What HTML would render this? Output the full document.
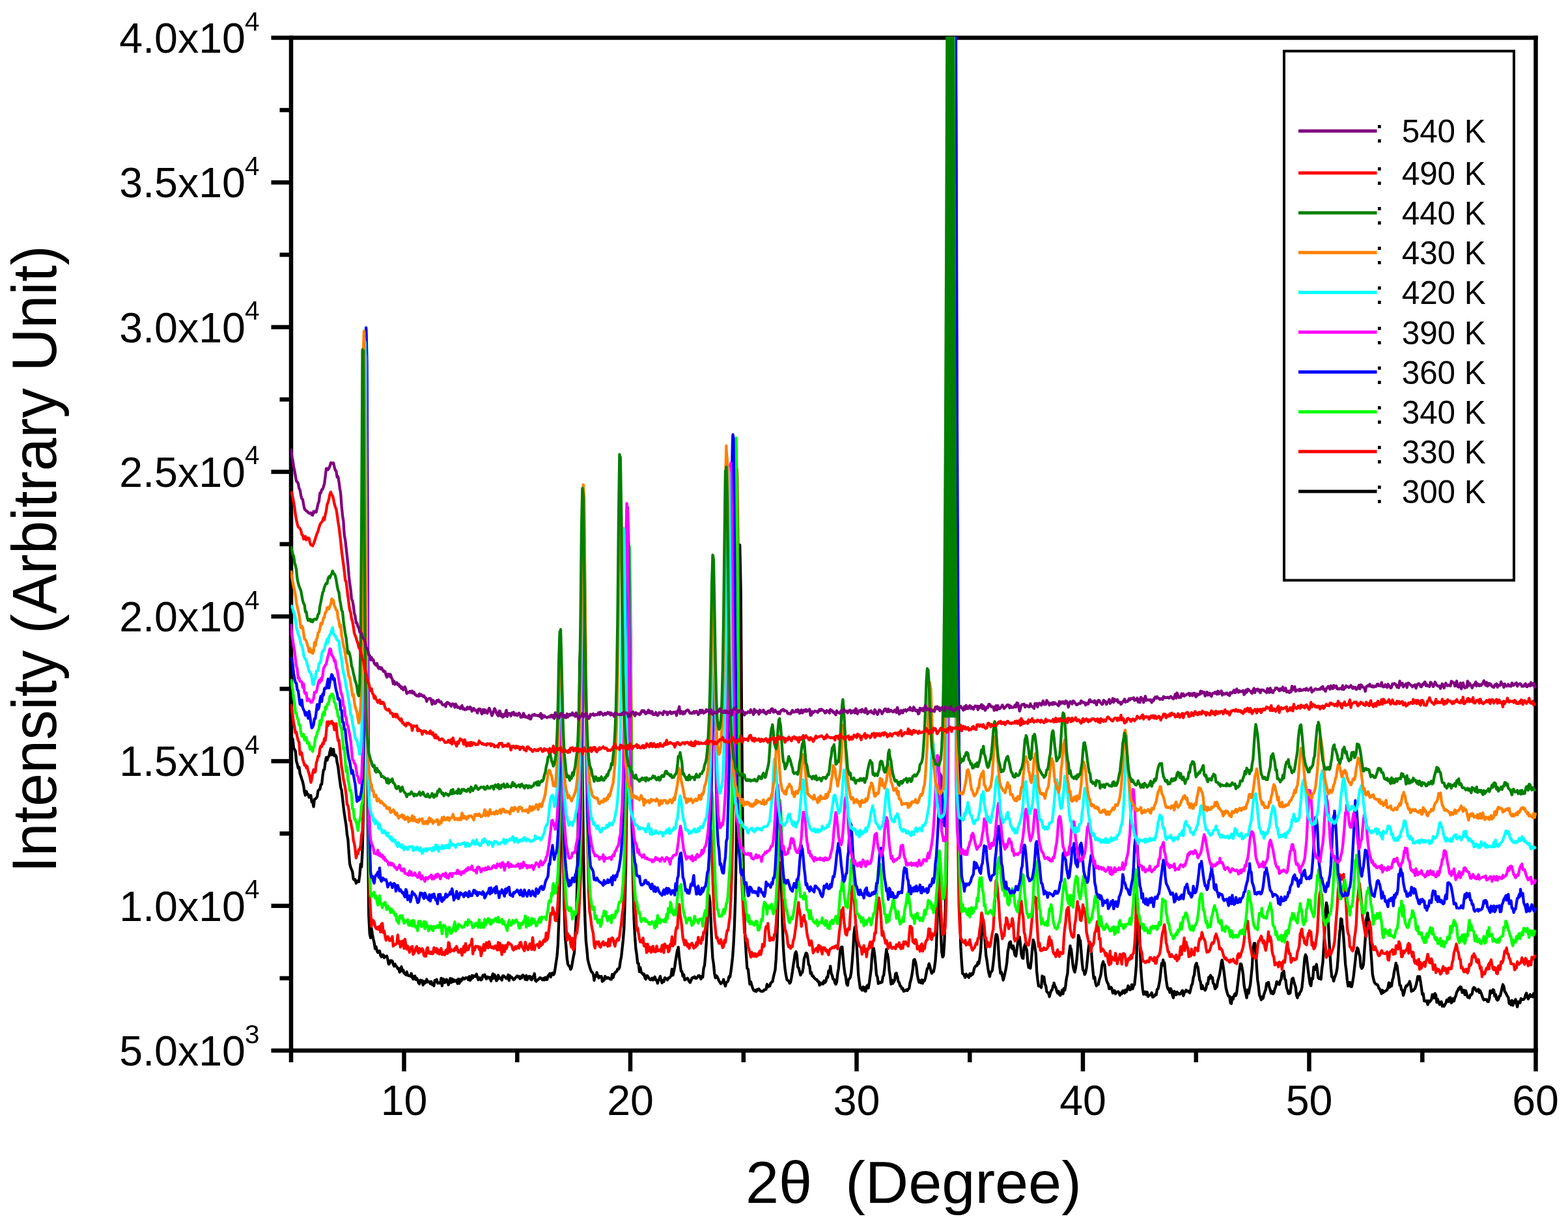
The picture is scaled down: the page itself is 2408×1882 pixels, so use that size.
<!DOCTYPE html>
<html lang="en"><head><meta charset="utf-8"><title>XRD patterns at different temperatures</title>
<style>html,body{margin:0;padding:0;background:#fff}body{width:2408px;height:1882px;overflow:hidden}svg{display:block}text{font-family:"Liberation Sans", Arial, Helvetica, sans-serif;fill:#000}</style></head><body>
<svg width="2408" height="1882" viewBox="0 0 2408 1882">
<rect width="2408" height="1882" fill="#fff"/>
<defs><clipPath id="pc"><rect x="446" y="56" width="1914" height="1558"/></clipPath></defs>
<g stroke="#000" stroke-width="6.5" fill="none" stroke-linecap="butt">
<path d="M416.5 58 H2361.8"/>
<path d="M416.5 1614 H2361.8"/>
<path d="M447 54.8 V1632"/>
<path d="M2358.5 54.8 V1646"/>
<path d="M416.5 1391.7 H447"/>
<path d="M416.5 1169.4 H447"/>
<path d="M416.5 947.1 H447"/>
<path d="M416.5 724.9 H447"/>
<path d="M416.5 502.6 H447"/>
<path d="M416.5 280.3 H447"/>
<path d="M429.5 1502.9 H447"/>
<path d="M429.5 1280.6 H447"/>
<path d="M429.5 1058.3 H447"/>
<path d="M429.5 836 H447"/>
<path d="M429.5 613.7 H447"/>
<path d="M429.5 391.4 H447"/>
<path d="M429.5 169.1 H447"/>
<path d="M620.5 1614 V1646"/>
<path d="M968 1614 V1646"/>
<path d="M1315.5 1614 V1646"/>
<path d="M1663 1614 V1646"/>
<path d="M2010.5 1614 V1646"/>
<path d="M794.3 1614 V1632"/>
<path d="M1141.8 1614 V1632"/>
<path d="M1489.3 1614 V1632"/>
<path d="M1836.8 1614 V1632"/>
<path d="M2184.3 1614 V1632"/>
</g>
<g clip-path="url(#pc)" fill="none" stroke-width="4.3" stroke-linejoin="round" stroke-linecap="butt">
<path d="M446.8 1123L448.2 1134.2L449.6 1135.4L451 1149.3L452.4 1151.4L453.8 1154.5L455.1 1169.2L456.5 1173.6L457.9 1180L459.3 1178.6L460.7 1188.5L462.1 1192.6L463.5 1197.1L464.9 1201.2L466.3 1207.6L467.6 1217.1L469 1221.8L470.4 1215.8L471.8 1220L473.2 1220.1L474.6 1225L476 1224.6L477.4 1222.1L478.8 1232.1L480.2 1232.2L481.6 1239.4L482.9 1228L484.3 1227.4L485.7 1226.3L487.1 1223.8L488.5 1214.9L489.9 1213.2L491.3 1212.5L492.7 1205.6L494.1 1205.1L495.5 1192L496.8 1183.2L498.2 1182L499.6 1170.8L501 1163.6L502.4 1168.1L503.8 1163.1L505.2 1161.8L506.6 1154.8L508 1149.8L509.4 1159.8L510.7 1157.1L512.1 1151L513.5 1161.3L514.9 1159.7L516.3 1161.7L517.7 1171.6L519.1 1177.3L520.5 1188.6L521.9 1199.4L523.2 1209.4L524.6 1214L526 1226.2L527.4 1239L528.8 1250L530.2 1259.5L531.6 1268.2L533 1282.2L534.4 1289.6L535.8 1310.4L537.1 1327.2L538.5 1332.2L539.9 1335.7L541.3 1339.4L542.7 1350.3L544.1 1351.8L545.5 1351.3L546.9 1357L548.3 1354.9L549.7 1353.2L551 1354.6L552.4 1344.5L553.8 1327.6L555.2 1332L556.6 1306.7L558 1246.9L559.4 1049L560.8 611.2L561.8 593.1L562.2 597.5L563.6 890.6L565 1266.7L566.3 1406.3L567.7 1434.2L569.1 1440.8L570.5 1426.4L571.9 1435.6L573.3 1442.4L574.7 1448.3L576.1 1457.4L577.5 1454.4L578.9 1460.6L580.2 1463.3L581.6 1461.2L583 1461L584.4 1467.8L585.8 1470.2L587.2 1466.9L588.6 1466.8L590 1471.5L591.4 1469.4L592.8 1469.9L594.1 1468.7L595.5 1474L596.9 1481.4L598.3 1480L599.7 1475.7L601.1 1476L602.5 1476.6L603.9 1481.5L605.3 1484.4L606.6 1481.1L608 1484.1L609.4 1485.2L610.8 1488L612.2 1487.7L613.6 1493.5L615 1491.9L616.4 1485.2L617.8 1491.7L619.2 1490.3L620.5 1495.3L621.9 1495.9L623.3 1497.7L624.7 1493L626.1 1498.4L627.5 1499.1L628.9 1498.8L630.3 1499.9L631.7 1495.5L633.1 1501.6L634.5 1504.3L635.8 1499.8L637.2 1499.5L638.6 1505L640 1502.9L641.4 1505.5L642.8 1510L644.2 1511.6L645.6 1505.6L647 1507.6L648.4 1506.5L649.7 1513.3L651.1 1507.6L652.5 1510.6L653.9 1509.1L655.3 1504.5L656.7 1508.8L658.1 1508.1L659.5 1508.4L660.9 1511.3L662.2 1507.9L663.6 1512.6L665 1512.5L666.4 1514.4L667.8 1506.2L669.2 1507.4L670.6 1504.8L672 1510.5L673.4 1510.2L674.8 1510.4L676.1 1510.4L677.5 1502.8L678.9 1514.6L680.3 1503.8L681.7 1504.7L683.1 1509.7L684.5 1508.3L685.9 1504.7L687.3 1508.4L688.7 1513L690 1508.3L691.4 1503.3L692.8 1509.6L694.2 1503.8L695.6 1508.3L697 1505.2L698.4 1507.6L699.8 1507.2L701.2 1505.9L702.6 1511L704 1504L705.3 1510.8L706.7 1504.6L708.1 1507.4L709.5 1504.1L710.9 1502.2L712.3 1504.3L713.7 1504L715.1 1502.2L716.5 1502.4L717.9 1502.1L719.2 1505.2L720.6 1500.2L722 1506.2L723.4 1504.5L724.8 1498.7L726.2 1502.3L727.6 1499.1L729 1499.4L730.4 1500.3L731.8 1496.4L733.1 1501.2L734.5 1505.3L735.9 1502.2L737.3 1502.3L738.7 1505.6L740.1 1504.6L741.5 1498.5L742.9 1499.9L744.3 1497.4L745.6 1501.3L747 1504L748.4 1500.7L749.8 1501.2L751.2 1502.9L752.6 1501.5L754 1507.1L755.4 1501.6L756.8 1496.2L758.2 1503L759.5 1497.5L760.9 1500.8L762.3 1506.8L763.7 1505.1L765.1 1498.3L766.5 1503.1L767.9 1501.8L769.3 1503L770.7 1505.9L772.1 1499.2L773.5 1499.2L774.8 1500.5L776.2 1501.9L777.6 1503.4L779 1503.2L780.4 1497.6L781.8 1506.4L783.2 1499L784.6 1501.3L786 1501.5L787.4 1503.4L788.7 1505.3L790.1 1504.3L791.5 1502.2L792.9 1501L794.3 1499.3L795.7 1501.3L797.1 1500L798.5 1503.8L799.9 1500.4L801.2 1502.4L802.6 1497.9L804 1499L805.4 1501.3L806.8 1505.1L808.2 1498.7L809.6 1505.3L811 1502L812.4 1499.9L813.8 1500L815.1 1504.7L816.5 1505.3L817.9 1500.5L819.3 1502.2L820.7 1495.8L822.1 1506.1L823.5 1507.7L824.9 1505.9L826.3 1504.9L827.7 1503.9L829 1502.2L830.4 1502.3L831.8 1504L833.2 1505.5L834.6 1503L836 1505.5L837.4 1501.6L838.8 1504.8L840.2 1505L841.6 1499.2L843 1498.1L844.3 1495.8L845.7 1501.1L847.1 1495.5L848.5 1494.8L849.9 1497.6L851.3 1495.8L852.7 1487.4L854.1 1477.8L855.5 1468.5L856.9 1450.7L858.2 1416.1L859.6 1357.6L861 1282.8L862.4 1260.4L862.8 1262.5L863.8 1257.7L865.2 1322.2L866.6 1394.9L868 1440.6L869.4 1455L870.8 1472.8L872.1 1481.3L873.5 1483.8L874.9 1484.8L876.3 1489.3L877.7 1486.7L879.1 1478.3L880.5 1470.5L881.9 1463.8L883.3 1437.2L884.7 1414.1L886 1372.2L887.4 1295.7L888.8 1174.1L890.2 1019.4L891.6 989.8L893 1020.2L894.4 1169.4L895.8 1297.5L897.2 1370.4L898.5 1414.1L899.9 1445.6L901.3 1458.7L902.7 1474.3L904.1 1480L905.5 1485.1L906.9 1489.7L908.3 1492.8L909.7 1494.1L911.1 1496.5L912.5 1506.1L913.8 1499.1L915.2 1500L916.6 1494L918 1498.9L919.4 1502.6L920.8 1499.7L922.2 1500.8L923.6 1500.1L925 1507.8L926.4 1503.9L927.7 1506L929.1 1499.9L930.5 1501.5L931.9 1503.2L933.3 1501.8L934.7 1502.3L936.1 1503.8L937.5 1504.7L938.9 1504.6L940.2 1496.9L941.6 1501.9L943 1497L944.4 1494.4L945.8 1493.1L947.2 1492.2L948.6 1488.6L950 1489.1L951.4 1486.4L952.8 1476.1L954.2 1469.7L955.5 1457.2L956.9 1444.5L958.3 1426.9L959.7 1387.4L961.1 1327.7L962.5 1218.3L963.9 1059.2L965.3 908.8L966.3 902.6L966.7 902.5L968 968.8L969.4 1143.3L970.8 1281.9L972.2 1355.9L973.6 1411.2L975 1438.4L976.4 1457.4L977.8 1466.3L979.2 1479.8L980.6 1480.1L982 1492.9L983.3 1486.4L984.7 1493.9L986.1 1494.9L987.5 1497.2L988.9 1496.5L990.3 1501.8L991.7 1504.4L993.1 1498.8L994.5 1499.4L995.9 1501.6L997.2 1503.7L998.6 1505.3L1000 1505.1L1001.4 1502.7L1002.8 1505.6L1004.2 1503.5L1005.6 1500.7L1007 1505.3L1008.4 1505.3L1009.8 1510.6L1011.1 1506.1L1012.5 1504.2L1013.9 1499.9L1015.3 1506L1016.7 1510L1018.1 1506.1L1019.5 1508L1020.9 1502.1L1022.3 1503.2L1023.7 1503.9L1025 1505.6L1026.4 1502.4L1027.8 1502.4L1029.2 1501L1030.6 1498.9L1032 1488.9L1033.4 1498.3L1034.8 1492.6L1036.2 1485.6L1037.5 1475.8L1038.9 1467.3L1040.3 1459.3L1041 1461L1041.7 1455.1L1043.1 1470.6L1044.5 1481.1L1045.9 1491.9L1047.3 1492.4L1048.7 1499.8L1050.1 1497.2L1051.5 1505.7L1052.8 1504.5L1054.2 1504.1L1055.6 1502.7L1057 1505.1L1058.4 1507.9L1059.8 1509.5L1061.2 1506.4L1062.6 1502.9L1064 1501.7L1065.4 1502.2L1066.7 1500.5L1068.1 1502.9L1069.5 1503.2L1070.9 1501.5L1072.3 1499.1L1073.7 1498.7L1075.1 1500.6L1076.5 1504.1L1077.9 1499.8L1079.2 1501.3L1080.6 1487.6L1082 1483.2L1083.4 1467.7L1084.8 1447.6L1086.2 1419.5L1087.6 1381.2L1089 1375.8L1090.4 1385.7L1091.8 1416.3L1093.2 1450.6L1094.5 1472L1095.9 1481.3L1097.3 1496L1098.7 1502.4L1100.1 1499L1101.5 1500.7L1102.9 1503.9L1104.3 1507.3L1105.7 1509.1L1107 1511.3L1108.4 1509.8L1109.8 1508.8L1111.2 1504.7L1112.6 1511.4L1114 1515.1L1115.4 1509.4L1116.8 1508.7L1118.2 1506.8L1119.6 1500.3L1121 1501.2L1122.3 1493.4L1123.7 1482.6L1125.1 1470.2L1126.5 1450.5L1127.9 1422L1129.3 1379.5L1130.7 1305.4L1132.1 1173.6L1133.5 997.3L1134.9 848.8L1135.9 837.1L1136.2 837.6L1137.6 904.2L1139 1096.1L1140.4 1252.8L1141.8 1351.2L1143.2 1404.6L1144 1434L1144.6 1445L1146 1467.7L1147.4 1487.7L1148.8 1488.8L1150.1 1500L1151.5 1512L1152.9 1508.2L1154.3 1513L1155.7 1517.5L1157.1 1521L1158.5 1522.3L1159.9 1521.2L1161.3 1523.2L1162.7 1520.3L1164 1521L1165.4 1519.3L1166.8 1521.5L1168.2 1522.6L1169.6 1523L1171 1523L1172.4 1522.4L1173.8 1520.6L1175.2 1520.3L1176.5 1520.2L1177.9 1512.1L1179.3 1516.3L1180.7 1514.5L1182.1 1515L1183.5 1510.5L1184.9 1509.1L1186.3 1508.3L1187.7 1501.4L1189.1 1495.5L1190.5 1489.9L1191.8 1473.2L1193.2 1444.9L1194.6 1397.4L1196 1345.6L1197.4 1327.7L1197.7 1325.4L1198.8 1326.7L1200.2 1369.2L1201.6 1420L1203 1456L1204.4 1476.5L1205.7 1489.6L1207.1 1498.4L1208.5 1505.1L1209.9 1506.2L1211.3 1507.5L1212.7 1510.5L1214.1 1508.9L1215.5 1501.9L1216.9 1493.1L1218.2 1483.5L1219.6 1474.6L1221 1465.3L1221.9 1463.5L1222.4 1462.1L1223.8 1467.5L1225.2 1485.9L1226.6 1487L1228 1493L1229.4 1498.1L1230.8 1494.6L1232.2 1494.2L1233.5 1486.8L1234.9 1472.8L1236.3 1469L1237.7 1464.3L1237.9 1464.1L1239.1 1464.8L1240.5 1471.7L1241.9 1482.3L1243.3 1483.9L1244.7 1495.6L1246 1494L1247.4 1499.6L1248.8 1499.5L1250.2 1502.2L1251.6 1503.4L1253 1504.8L1254.4 1504.9L1255.8 1507.8L1257.2 1507.9L1258.6 1513.7L1260 1510L1261.3 1511.7L1262.7 1510.1L1264.1 1511.7L1265.5 1506.7L1266.9 1509.6L1268.3 1507.8L1269.7 1501.1L1271.1 1501.7L1272.5 1491.6L1272.9 1493.7L1273.9 1490.3L1274.5 1490.5L1275.2 1484.3L1276.6 1495.5L1278 1498.6L1279.4 1504.1L1280.8 1504.5L1282.2 1509.8L1283.6 1512.1L1285 1508.7L1286.4 1495.4L1287.8 1487.8L1289.1 1473.2L1290.5 1457.9L1291.9 1455.3L1292.3 1456.2L1293.3 1454.7L1294.7 1471.3L1296.1 1485L1297.5 1495.9L1298.9 1501L1300.3 1511.7L1301.7 1514L1303 1505L1304.4 1503.7L1305.8 1501.6L1307.2 1494L1308.6 1478.9L1310 1460.9L1311.4 1434.7L1312.8 1424.2L1312.9 1424.3L1314.2 1425.5L1315.5 1450.5L1316.9 1473.6L1318.3 1498.3L1319.7 1508.7L1321.1 1518.4L1322.5 1517.8L1323.9 1521.4L1325.3 1516.2L1326.7 1516.7L1328.1 1522.6L1329.5 1522.9L1330.8 1515.6L1332.2 1513.7L1333.6 1518L1335 1509.6L1336.4 1499.1L1337.8 1488.9L1339.2 1467.7L1340.6 1458.2L1341.6 1456.9L1342 1458.4L1343.4 1468.7L1344.7 1481.9L1346.1 1498.2L1347.5 1501.2L1348.9 1511.2L1350.3 1508.7L1351.7 1510L1353.1 1509L1354.5 1509.2L1355.9 1500.5L1357.2 1498.3L1358.6 1485.9L1360 1469.2L1361.4 1458.4L1362.2 1466.4L1362.8 1465.2L1364.2 1473L1365.6 1490.2L1367 1499.5L1368.4 1511.9L1369.8 1505.5L1371.2 1510.8L1372.5 1508.5L1373.9 1506L1375.3 1495.7L1376.7 1495.1L1377.1 1499.4L1378.1 1499.8L1379.5 1508L1380.9 1509.5L1382.3 1514.6L1383.7 1515.4L1385 1519.1L1386.4 1518.5L1387.8 1522.9L1389.2 1521.9L1390.6 1522.1L1392 1520.5L1393.4 1521.9L1394.8 1519.7L1396.2 1518.5L1397.6 1509.5L1399 1505L1400.3 1498.5L1401.7 1489.6L1403.1 1475.1L1404.5 1475.1L1404.5 1474L1405.9 1477.8L1407.3 1484.9L1408.7 1497.4L1410.1 1504.4L1411.5 1509.1L1412.8 1506.3L1414.2 1510.1L1415.6 1505.4L1417 1510.6L1418.4 1506.3L1419.8 1506.7L1421.2 1502.4L1422.6 1494.9L1424 1487.9L1425.4 1487.3L1426.3 1481.6L1426.8 1480.6L1428.1 1484.9L1429.5 1491L1430.9 1495.4L1432.3 1492.2L1433.7 1492.9L1435.1 1486.1L1436.5 1475.6L1437.9 1456.7L1439.3 1416.6L1440.7 1365.2L1441.7 1364.1L1442 1367.5L1443.4 1385.2L1444.8 1431.8L1446.2 1462.4L1447.6 1470.3L1449 1467.9L1450.4 1445.8L1451.8 1392.6L1453.2 1281.2L1454.5 1079.9L1455.9 776.4L1457.3 359L1458.7 -132.4L1460.1 -200L1461.5 -200L1462.9 -200L1464.3 -200L1465.7 -200L1467.1 -133.9L1468.5 359.9L1469.8 780.3L1471.2 1084.8L1472.6 1280L1474 1400.2L1475.4 1454.9L1476.8 1478L1478.2 1495.6L1479.6 1496.5L1481 1499.1L1482.3 1501.8L1483.7 1496.4L1485.1 1498.6L1486.5 1500.2L1487.9 1501.8L1489.3 1495.9L1490.7 1499.2L1492.1 1495.8L1493.5 1497.3L1494.9 1493.8L1496.2 1487.7L1497.6 1484.8L1499 1484.2L1499.6 1482.9L1500.4 1483.5L1501.8 1478.3L1503.2 1480.5L1504.6 1472.4L1506 1461.1L1507.4 1437.5L1508.8 1417.2L1509.8 1422.2L1510.2 1422.1L1511.5 1429.9L1512.9 1449.5L1514.3 1468.3L1515.7 1475.9L1517.1 1487.2L1518.5 1494.6L1519.9 1500.2L1521.3 1493.8L1522.7 1492.9L1524 1490.2L1525.4 1479.3L1526.8 1466.1L1528.2 1445.1L1529.6 1435.6L1530.4 1438.8L1531 1436L1532.4 1442.6L1533.8 1466.2L1535.2 1484.9L1536.6 1495.4L1537.9 1493.5L1539.3 1499.4L1540.7 1505.8L1542.1 1500.4L1543.5 1494.4L1544.9 1487.7L1546.3 1478.8L1547.7 1461.7L1549.1 1455.5L1549.9 1449.4L1550.5 1447.8L1551.8 1446.7L1553.2 1455.4L1554.6 1457.6L1556 1453.1L1556.8 1456.6L1557.4 1461.3L1558.8 1467.8L1560.2 1468.9L1561.6 1459.4L1563 1447.9L1564.4 1444.3L1564.8 1441.9L1565.8 1439.7L1567.1 1452L1568.5 1465.9L1569.9 1471.6L1571.3 1472.5L1572.7 1455.4L1574.1 1451.2L1575.1 1449.6L1575.5 1455.9L1576.9 1459.7L1578.3 1478.1L1579.7 1486.4L1581 1484.7L1582.4 1487.5L1583.8 1475.6L1585.2 1458.8L1586.6 1443.9L1587.7 1447.8L1588 1446.8L1589.4 1456.1L1590.8 1465.3L1592.2 1493.1L1593.5 1504.7L1594.9 1514.8L1596.3 1514.8L1597.7 1515.8L1599.1 1517.2L1600.5 1499.4L1601.9 1504.6L1602.6 1504.3L1603.3 1500.9L1604.7 1512.1L1606.1 1514.4L1607.4 1523.2L1608.8 1524.8L1610.2 1525.5L1611.6 1531.3L1613 1525.8L1614.4 1521.7L1615.8 1520.9L1617.2 1514.1L1618.6 1514.6L1618.6 1510.2L1620 1514.7L1621.3 1517.2L1622.7 1521.9L1624.1 1525.7L1625.5 1522.7L1626.9 1527.9L1628.3 1529.3L1629.7 1526.7L1631.1 1521.1L1632.5 1526.8L1633.9 1518.4L1635.2 1521.4L1636.6 1513.5L1636.9 1509.9L1638 1502L1639.4 1496.2L1640.8 1475.5L1642.2 1461.8L1643.6 1453.1L1643.8 1462.6L1645 1457.9L1646.4 1471.1L1647.8 1483.5L1649.2 1490.2L1650.5 1493.6L1651.9 1487.1L1653.3 1477.1L1654.7 1462.3L1656.1 1436.8L1657.5 1440.8L1657.5 1445.8L1658.9 1444.5L1660.3 1459.7L1661.7 1478.1L1663 1490.1L1664.4 1491.5L1665.8 1497.2L1667.2 1493.9L1668.6 1486.8L1670 1473.6L1671.4 1459.1L1672.8 1449.2L1673.5 1447.3L1674.2 1449.5L1675.6 1456.7L1676.9 1474.4L1678.3 1490L1679.7 1503.2L1681.1 1501L1682.5 1510.6L1683.9 1514.6L1685.3 1512.6L1686.7 1512.4L1688.1 1505.6L1689.5 1501.6L1690.8 1496.3L1692.2 1483.5L1693.6 1479.5L1694.2 1477.3L1695 1482L1696.4 1481.9L1697.8 1498.2L1699.2 1505.7L1700.6 1509.5L1702 1511.8L1703.4 1519L1704.8 1518.8L1706.1 1516.7L1707.5 1518.6L1708.9 1525.7L1710.3 1523.3L1711.7 1521.9L1713.1 1527L1714.5 1524.7L1715.9 1524L1717.3 1523.5L1718.7 1526.1L1720 1529.1L1721.4 1525.4L1722.8 1526.7L1724.2 1522.1L1725.6 1522.3L1727 1525.8L1728.4 1520.8L1729.8 1523.8L1731.2 1519.9L1732.5 1514.5L1733.9 1517.5L1735.3 1520.8L1736.7 1520L1738.1 1512.7L1739.5 1519.1L1740.9 1514.3L1742.3 1512.8L1743.7 1499.1L1745.1 1482L1746.4 1437.5L1747.8 1409.5L1748.4 1405.9L1749.2 1408.4L1750.6 1448.7L1752 1487.2L1753.4 1505.3L1754.8 1519.5L1756.2 1527.7L1757.6 1525.6L1759 1523.7L1760.3 1528.3L1761.7 1524.3L1763.1 1531L1764.5 1528.8L1765.9 1529L1767.3 1528.5L1768.7 1525.2L1770.1 1531.9L1771.5 1531.4L1772.9 1530L1774.2 1527.7L1775.6 1528.6L1777 1520L1778.4 1519.2L1779.8 1513.2L1781.2 1505.5L1782.6 1492.5L1784 1480L1785.4 1483.2L1786.2 1474.7L1786.8 1478.7L1788.2 1478.8L1789.5 1492.9L1790.9 1505.3L1792.3 1514.6L1793.7 1519.7L1795.1 1518.9L1796.5 1524.7L1797.9 1518.8L1799.3 1522.1L1800.7 1529.8L1802 1532.9L1803.4 1522.9L1804.8 1526L1806.2 1528.3L1807.6 1524L1809 1527.1L1810.4 1526.2L1811.8 1527.4L1813.2 1526.5L1814.6 1523.7L1815.9 1521.7L1817.3 1529.9L1818.7 1525.9L1820.1 1523.4L1821.5 1521.1L1822.9 1523.2L1824.3 1522.5L1825.7 1524.2L1827.1 1525.5L1828.5 1520L1829.8 1514L1831.2 1511.2L1832.6 1501.7L1834 1497.7L1835.4 1485.2L1836.8 1480.6L1837.7 1479.7L1838.2 1483.1L1839.6 1485.9L1841 1496.1L1842.4 1505.6L1843.8 1508.9L1845.1 1519.2L1846.5 1514L1847.9 1519.2L1849.3 1519.2L1850.7 1521.4L1852.1 1518.5L1853.5 1511L1854.9 1511.7L1856.3 1501.4L1857.7 1503.8L1859 1498.4L1859.5 1499.6L1860.4 1501.6L1861.8 1501.7L1863.2 1510.8L1864.6 1512L1866 1519.2L1867.4 1517.4L1868.8 1515.6L1870.2 1506.8L1871.5 1502.5L1872.9 1497.1L1874.3 1489.5L1875.7 1478.7L1876.7 1474.9L1877.1 1476.6L1878.5 1484.6L1879.9 1494.9L1881.3 1506.2L1882.7 1517.6L1884.1 1523.1L1885.4 1527.8L1886.8 1530.5L1888.2 1530.3L1889.6 1540.7L1891 1541.9L1892.4 1532.1L1893.8 1535.1L1895.2 1529.4L1896.6 1526.7L1898 1529.4L1899.3 1524.3L1900.7 1512.8L1902.1 1501L1903.5 1489.5L1904.9 1480.7L1905.7 1483.5L1906.3 1481.4L1907.7 1488.3L1909.1 1497.4L1910.5 1513.5L1911.9 1521L1913.2 1526.3L1914.6 1533L1916 1520.7L1917.4 1526.4L1918.8 1519.2L1920.2 1512.2L1921.6 1498.1L1923 1484.2L1924.4 1456.8L1925.8 1449.3L1926.3 1449.7L1927.2 1449.3L1928.5 1459.5L1929.9 1485.5L1931.3 1505.5L1932.7 1514.7L1934.1 1528.7L1935.5 1531.9L1936.9 1536.1L1938.3 1531.5L1939.7 1533.8L1941 1528.1L1942.4 1523.8L1943.8 1520.4L1945.2 1510.6L1946.6 1511.3L1946.9 1513.5L1948 1509L1949.4 1516.6L1950.8 1521L1952.2 1526.1L1953.6 1523.1L1954.9 1526.9L1956.3 1525.2L1957.7 1519.3L1959.1 1516L1960.5 1509.5L1960.7 1508.2L1961.9 1509L1963.3 1512.2L1964.7 1512.5L1966.1 1506.5L1967.5 1504.7L1968.8 1494.8L1970.2 1494.1L1971 1495.2L1971.6 1491.9L1973 1503.9L1974.4 1505.6L1975.8 1517.5L1977.2 1521L1978.6 1526.4L1980 1526.6L1981.4 1525.6L1982.8 1513.7L1984.1 1504L1985.5 1503.1L1985.8 1502.7L1986.9 1507.2L1988.3 1512.6L1989.7 1516.5L1991.1 1529.3L1992.5 1533.1L1993.9 1526.9L1995.3 1528.1L1996.7 1524.1L1998 1522.8L1999.4 1517.2L2000.8 1503.9L2002.2 1488.2L2003.6 1471.8L2005 1466.6L2005.3 1472L2006.4 1469.5L2007.8 1481.4L2009.2 1493L2010.5 1502.1L2011.9 1511.7L2013.3 1514.4L2014.7 1502.8L2016.1 1503.6L2017.5 1485.6L2018.9 1486.2L2020.2 1484.4L2020.3 1489.6L2021.7 1481.5L2023.1 1490.9L2024.4 1502.4L2025.8 1503.5L2027.2 1502.2L2028.6 1504.4L2030 1488.9L2031.4 1479.1L2032.8 1457.4L2034.2 1432.5L2035.6 1400.7L2037 1386.9L2037.4 1389.9L2038.3 1391.8L2039.7 1413.2L2041.1 1444L2042.5 1466.1L2043.9 1487.4L2045.3 1500.8L2046.7 1501.5L2048.1 1507.3L2049.5 1502.3L2050.9 1498.4L2052.2 1494.6L2053.6 1487L2055 1469.4L2056.4 1445.6L2057.8 1428.2L2058 1428.3L2059.2 1411.4L2060.6 1412.7L2061.4 1423.9L2062 1422.7L2063.4 1439.9L2064.8 1461.1L2066.2 1481.5L2067.5 1491.1L2068.9 1505.7L2070.3 1514.9L2071.7 1514.5L2073.1 1509.3L2074.5 1515.8L2075.9 1515.8L2077.3 1508.5L2078.7 1499.5L2080.1 1487.3L2081.4 1475.4L2082.8 1462.1L2084.2 1458.9L2084.3 1456.1L2085.6 1458L2087 1464.8L2088.4 1469.3L2089.8 1484.8L2091.2 1487.9L2092.6 1486.2L2093.9 1481.9L2095.3 1460.9L2096.7 1442.8L2098.1 1412.7L2099.5 1407.4L2100.3 1402.5L2100.9 1408.5L2102.3 1413.7L2103.7 1439.1L2105.1 1458.4L2106.5 1477.2L2107.8 1496.6L2109.2 1503.9L2110.6 1508.8L2112 1511.1L2113.4 1512.3L2114.8 1512.4L2116.2 1514.1L2117.6 1518.6L2119 1519.6L2120.4 1523.1L2121.8 1526.6L2123.1 1521.3L2124.5 1524.7L2125.9 1523.2L2127.3 1522.7L2128.7 1521.7L2130.1 1521L2131.5 1517.2L2132.9 1509.6L2133.5 1517L2134.3 1516.4L2135.7 1510.9L2137 1515L2138.4 1505.8L2139.8 1501.4L2141.2 1491.9L2142.6 1486L2143.8 1479.7L2144 1484.7L2145.4 1483.5L2146.8 1494.4L2148.2 1501.9L2149.6 1513.8L2150.9 1514L2152.3 1520.6L2153.7 1521.3L2155.1 1529.3L2156.5 1524.3L2157.9 1518.6L2159.3 1514.7L2160.7 1514.9L2162.1 1512.4L2163.3 1511.4L2163.4 1511.5L2164.8 1507.7L2166.2 1513.1L2167.6 1523.1L2169 1520.9L2170.4 1521.7L2171.8 1519.7L2173.2 1518.2L2174.6 1513.7L2176 1507.5L2177.3 1500.1L2178.1 1505L2178.7 1503.2L2180.1 1500.2L2181.5 1507.8L2182.9 1517.5L2184.3 1527.6L2185.7 1526.6L2187.1 1537.8L2188.5 1538.2L2189.9 1538L2191.2 1537.4L2192.6 1543.4L2194 1537.6L2195.4 1539.6L2196.8 1537.6L2198.2 1535.8L2199.6 1528.1L2201 1531.7L2202.2 1533.2L2202.4 1527.8L2203.8 1526.4L2205.2 1529L2206.5 1539.9L2207.9 1535L2209.3 1540L2210.7 1543.2L2212.1 1539.7L2213.5 1538.9L2214.9 1546L2216.3 1543.7L2217.7 1546L2219.1 1543L2220.4 1541.3L2221.8 1536.2L2223.2 1536.7L2224.6 1538.7L2225.1 1533.6L2226 1534L2227.4 1532.5L2228.8 1540.9L2230.2 1538.8L2231.6 1534.1L2232.9 1538L2234.3 1532.7L2235.7 1530L2237.1 1524.4L2238.5 1522.1L2239.9 1518.8L2241.1 1519.8L2241.3 1518.2L2242.7 1515.9L2244.1 1517.3L2245.5 1524.8L2246.8 1523.3L2248.2 1521.3L2249.6 1528.3L2250.3 1525.2L2251 1522L2252.4 1526.9L2253.8 1531.9L2255.2 1532.5L2256.6 1533.2L2258 1528.5L2259.4 1528.5L2260.8 1526.6L2262.1 1519.1L2263.5 1517L2264 1519.1L2264.9 1517.7L2266.3 1520.8L2267.7 1522.7L2269.1 1521.2L2270.5 1519.9L2271.9 1525L2273.2 1521.9L2273.3 1523.7L2274.7 1525.8L2276 1530L2277.4 1533.7L2278.8 1536.2L2280.2 1535.3L2281.6 1535.9L2283 1535.4L2284.4 1538.7L2285.8 1538.8L2287.2 1534.3L2288.6 1522.1L2289.9 1525.7L2291.3 1524.4L2291.5 1525.2L2292.7 1520.4L2294.1 1521.1L2295.5 1530.4L2296.9 1527.9L2298.3 1535.1L2299.7 1536.7L2301.1 1535.4L2302.4 1530.4L2303.8 1530.2L2305.2 1524.8L2306.6 1518.2L2308 1512.5L2308.7 1514.8L2309.4 1515.2L2310.8 1523.5L2312.2 1524.8L2313.6 1528L2315 1530.4L2316.3 1532.4L2317.7 1541.6L2319.1 1537.9L2320.5 1543.9L2321.9 1537L2323.3 1544.7L2324.7 1538.3L2326.1 1540.7L2327.5 1535.4L2328.9 1541.3L2330.2 1546.9L2331.6 1538.8L2333 1540.7L2334.4 1540.7L2335.8 1534.2L2337.2 1535L2338.6 1535.8L2340 1535.4L2341.4 1533.5L2342.8 1528.6L2344.2 1525.7L2345.5 1532.1L2346.4 1533.5L2346.9 1534.8L2348.3 1532L2349.7 1527.9L2351.1 1530.8L2352.5 1529.6L2353.9 1531.5L2355.3 1526.3L2356.7 1532.2L2358.1 1531.2" stroke="#000000"/>
<path d="M446.8 1081.6L448.2 1089.5L449.6 1100.5L451 1111.1L452.4 1116.9L453.8 1125.9L455.1 1124.9L456.5 1132L457.9 1137.5L459.3 1140.5L460.7 1159.2L462.1 1155.5L463.5 1157.2L464.9 1166.7L466.3 1170.9L467.6 1175.5L469 1175L470.4 1179.6L471.8 1177.6L473.2 1184.4L474.6 1188.5L476 1194.2L477.4 1202.2L478.8 1197.2L480.2 1187.6L481.6 1182.5L482.9 1186.5L484.3 1185.9L485.7 1172.2L487.1 1168.2L488.5 1161.6L489.9 1161.7L491.3 1150.1L492.7 1145.9L494.1 1147.2L495.5 1141.5L496.8 1142.9L498.2 1134.5L499.6 1137.7L501 1125.4L502.4 1108.8L503.8 1114.7L505.2 1108.8L506.6 1111.6L508 1110.4L509.4 1107.9L510.7 1112.3L512.1 1111.1L513.5 1121L514.9 1121.4L516.3 1111.6L517.7 1128.5L519.1 1137.8L520.5 1137.3L521.9 1150.3L523.2 1163.6L524.6 1178.7L526 1186.1L527.4 1197.2L528.8 1203.4L530.2 1210.3L531.6 1220.8L533 1236L534.4 1237.7L535.8 1245.5L537.1 1260.6L538.5 1260.8L539.9 1270.3L541.3 1276.3L542.7 1290.9L544.1 1295.9L545.5 1304.9L546.9 1318.2L548.3 1311.4L549.7 1312L551 1305.1L552.4 1305.3L553.8 1298.3L555.2 1282.7L556.6 1276.5L558 1235.4L559.4 1123.4L560.8 801L562.2 560.3L562.5 563.5L563.6 614.6L565 1051.1L566.3 1285.7L567.7 1371.8L569.1 1399.9L570.5 1423.3L571.9 1413.5L573.3 1414.2L574.7 1416.5L576.1 1423.1L577.5 1426.4L578.9 1427.2L580.2 1424.4L581.6 1427.9L583 1423L584.4 1432L585.8 1419.6L587.2 1418.5L588.6 1432.7L590 1430.1L591.4 1438.4L592.8 1444.6L594.1 1441.7L595.5 1438.8L596.9 1440.7L598.3 1445.3L599.7 1442.9L601.1 1444.8L602.5 1438.7L603.9 1453.7L605.3 1451.9L606.6 1451.1L608 1450.5L609.4 1448.9L610.8 1436.4L612.2 1449.3L613.6 1445.7L615 1455.2L616.4 1452.4L617.8 1445.9L619.2 1445.5L620.5 1457.2L621.9 1442.8L623.3 1451.9L624.7 1458.3L626.1 1453.3L627.5 1458.7L628.9 1463.2L630.3 1457L631.7 1454.8L633.1 1454L634.5 1466.4L635.8 1464.3L637.2 1462L638.6 1456.4L640 1454.1L641.4 1460.3L642.8 1464.4L644.2 1457L645.6 1462.4L647 1459.4L648.4 1457.5L649.7 1460.2L651.1 1468L652.5 1468.9L653.9 1469.2L655.3 1458.4L656.7 1455.7L658.1 1464.4L659.5 1462.3L660.9 1465.1L662.2 1462.5L663.6 1465.4L665 1465.1L666.4 1455.9L667.8 1458L669.2 1462.6L670.6 1457.2L672 1464.5L673.4 1459.5L674.8 1465.7L676.1 1464.8L677.5 1457L678.9 1466.5L680.3 1463L681.7 1466.5L683.1 1467L684.5 1460.4L685.9 1459.1L687.3 1465L688.7 1447.8L690 1449.6L691.4 1462.4L692.8 1458.5L694.2 1459.4L695.6 1460.5L697 1461.1L698.4 1456.8L699.8 1459.2L701.2 1453.8L702.6 1458.2L704 1463.1L705.3 1463.2L706.7 1461.7L708.1 1458.1L709.5 1467.7L710.9 1461.4L712.3 1453.7L713.7 1462.7L715.1 1449.3L716.5 1459.5L717.9 1458.8L719.2 1459L720.6 1453L722 1451.7L723.4 1452.1L724.8 1442.6L726.2 1465.7L727.6 1456.7L729 1459.6L730.4 1453.6L731.8 1454.7L733.1 1454L734.5 1454.2L735.9 1458.7L737.3 1454.9L738.7 1468.4L740.1 1462.7L741.5 1458.7L742.9 1450.8L744.3 1460.1L745.6 1457L747 1448.2L748.4 1449.2L749.8 1456.2L751.2 1446.7L752.6 1452.5L754 1455.5L755.4 1456L756.8 1454.6L758.2 1457.2L759.5 1454.8L760.9 1452.9L762.3 1457.3L763.7 1459.5L765.1 1447.9L766.5 1459.4L767.9 1449L769.3 1455.3L770.7 1466.7L772.1 1452.5L773.5 1456.2L774.8 1462.2L776.2 1452.5L777.6 1457.5L779 1453.9L780.4 1448.3L781.8 1448.6L783.2 1450.5L784.6 1450.8L786 1452.9L787.4 1458.3L788.7 1459.7L790.1 1457.3L791.5 1454.3L792.9 1457.6L794.3 1454.5L795.7 1453L797.1 1456.8L798.5 1448.3L799.9 1447.8L801.2 1453L802.6 1455.9L804 1458.2L805.4 1460.8L806.8 1447.4L808.2 1454L809.6 1456.4L811 1459.2L812.4 1453.5L813.8 1449.9L815.1 1453.7L816.5 1458.8L817.9 1440.3L819.3 1451L820.7 1459.4L822.1 1452.8L823.5 1452.5L824.9 1450.8L826.3 1451.2L827.7 1455.9L829 1446.6L830.4 1453.2L831.8 1450.6L833.2 1450.7L834.6 1444.7L836 1443.5L837.4 1446.4L838.8 1433.3L840.2 1443.8L841.6 1438.8L843 1428.1L844.3 1417.3L845.7 1402.9L847.1 1405.2L848.5 1401.5L848.7 1394.4L849.9 1399.6L851.3 1402.2L852.7 1414L854.1 1414.6L855.5 1405.4L856.9 1384.1L858.2 1349.2L859.6 1290.3L861 1233.1L862.4 1213.1L863.8 1227.2L865.2 1302L866.6 1364.1L868 1404.2L869.4 1422.8L870.8 1444.8L872.1 1434.4L873.5 1441.7L874.9 1438.3L876.3 1450.3L877.7 1455.4L879.1 1441.5L880.5 1459.3L881.9 1453.6L883.3 1440.9L884.7 1432.6L886 1433.6L887.4 1420.3L888.8 1405.8L890.2 1380.6L891.6 1349.7L893 1277.3L894.4 1161.5L895.8 1010.2L897.2 949.2L897.5 939.6L898.5 955.3L899.9 1088.5L901.3 1224.6L902.7 1312.5L904.1 1370.7L905.5 1400.9L906.9 1408.2L908.3 1420.5L909.7 1428.6L911.1 1434.4L912.5 1452L913.8 1456.5L915.2 1446.8L916.6 1447.5L918 1450.3L919.4 1446.8L920.8 1453.9L922.2 1455.4L923.6 1451.3L925 1448.3L926.4 1446.6L927.7 1452L929.1 1451.1L930.5 1449L931.9 1451L933.3 1453.9L934.7 1442.8L936.1 1453.2L937.5 1447.2L938.9 1441.6L940.2 1440.7L941.6 1442.6L943 1449.4L944.4 1453.7L945.8 1447.3L947.2 1444.1L948.6 1441.9L950 1444.5L951.4 1437.9L952.8 1427.5L954.2 1418.9L955.5 1405L956.9 1394.7L958.3 1373L959.7 1342.2L961.1 1279.5L962.5 1183.4L963.9 1013.3L965.3 873.2L966.3 857.6L966.7 855.9L968 923.4L969.4 1094.9L970.8 1240.4L972.2 1318.3L973.6 1366.2L975 1393.1L976.4 1404.9L977.8 1429.2L979.2 1425.6L980.6 1433.8L982 1442.6L983.3 1447.2L984.7 1444.5L986.1 1447.7L987.5 1441.1L988.9 1453.1L990.3 1453.8L991.7 1450.6L993.1 1463.7L994.5 1450.3L995.9 1461.2L997.2 1455L998.6 1455.7L1000 1463.1L1001.4 1455.4L1002.8 1453.7L1004.2 1461.8L1005.6 1462.3L1007 1462.4L1008.4 1453.3L1009.8 1460.6L1011.1 1460.8L1012.5 1459.1L1013.9 1459L1015.3 1461.8L1016.7 1452.4L1018.1 1451.8L1019.5 1463.6L1020.9 1450.1L1022.3 1455.4L1023.7 1454.1L1025 1453.5L1026.4 1462.5L1027.8 1460.7L1029.2 1450.7L1030.6 1453.2L1032 1439.2L1033.4 1453.3L1034.8 1446L1036.2 1450.4L1037.5 1431.5L1038.9 1424.8L1040.3 1426.1L1041.7 1401.5L1043.1 1395.9L1043.3 1389.3L1044.5 1405.4L1045.9 1413.4L1047.3 1425.5L1048.7 1440.8L1050.1 1446.1L1051.5 1451.6L1052.8 1444.5L1054.2 1447L1055.6 1454L1057 1450.6L1058.4 1457.4L1059.8 1453.1L1061.2 1450.9L1062.6 1448.9L1064 1451.5L1065.4 1456.7L1066.7 1454L1068.1 1455.3L1069.5 1448.1L1070.9 1452.6L1072.3 1439.9L1073.7 1447.8L1075.1 1445.7L1076.5 1449.6L1077.9 1439.5L1079.2 1443.8L1080.6 1431.7L1082 1432.9L1083.4 1424.9L1084.8 1415.2L1086.2 1403.1L1087.6 1361.7L1089 1326.8L1090.4 1280.6L1091.4 1276.5L1091.8 1275.7L1093.2 1301.8L1094.5 1348.9L1095.9 1385.8L1097.3 1413.8L1098.7 1427.1L1100.1 1440.8L1101.5 1439.9L1102.9 1445.8L1104.3 1449.4L1105.7 1448.6L1107 1443.4L1108.4 1450.9L1109.8 1456L1111.2 1454.1L1112.6 1444.3L1114 1447.9L1115.4 1437L1116.8 1429.5L1118.2 1428.9L1119.6 1417.3L1121 1407.5L1122.3 1383.4L1123.7 1347.7L1125.1 1288.2L1126.5 1198.4L1127.9 1049.9L1129.3 844.7L1130.7 729.9L1131.4 719L1132.1 728.4L1133.5 838.7L1134.9 1056.6L1136.2 1205.6L1137.6 1288L1139 1351.9L1140.4 1377.8L1141.7 1407L1141.8 1405.5L1143.2 1433L1144.6 1436.1L1146 1445.8L1147.4 1442.5L1148.8 1454.7L1150.1 1457.1L1151.5 1464.2L1152.9 1470.6L1154.3 1463.1L1155.7 1469L1157.1 1464.9L1158.5 1469.2L1159.9 1465.1L1161.3 1469.5L1162.7 1468.9L1164 1465.1L1165.4 1467L1166.8 1461L1168.2 1466.6L1169.6 1461.2L1171 1450.6L1172.4 1454.9L1173.8 1452.7L1175.2 1429.7L1176.5 1423.5L1177.9 1424.3L1178.4 1425.1L1179.3 1418.6L1180.7 1433.6L1182.1 1445L1183.5 1440.6L1184.9 1443.9L1186.3 1441.5L1187.7 1444L1189.1 1435.8L1190.5 1434.1L1191.8 1420L1193.2 1397.1L1194.6 1360.7L1196 1307L1197.4 1279.2L1198.1 1286.8L1198.8 1285.5L1200.2 1308.9L1201.6 1355L1203 1393.2L1204.4 1417.9L1205.7 1428.3L1207.1 1432.5L1208.5 1437.3L1209.9 1449.9L1211.3 1454.8L1212.7 1452.8L1214.1 1457.1L1215.5 1453.8L1216.9 1454.4L1218.2 1445.1L1219.6 1441.7L1221 1432.3L1222.4 1421.9L1223.8 1408L1225.2 1395.5L1226.4 1386.4L1226.6 1392.7L1228 1399.4L1229.4 1408.8L1230.8 1423.4L1232.2 1411.4L1233.5 1409.7L1234.9 1406.3L1235.6 1415.1L1236.3 1414.2L1237.7 1419.5L1239.1 1432.6L1240.5 1440.1L1241.9 1444.5L1243.3 1452.4L1244.7 1450.7L1246 1445.4L1247.4 1453.1L1248.8 1464L1250.2 1461.3L1251.6 1459.4L1253 1457.4L1254.4 1456.3L1255.8 1462.4L1257.2 1452.1L1258.6 1458.2L1260 1453.9L1261.3 1460.2L1262.7 1465.7L1264.1 1455.9L1265.5 1455.9L1266.9 1456.5L1268.3 1461L1269.7 1459.6L1271.1 1463.7L1272.5 1466.9L1273.9 1459.7L1275.2 1457.6L1276.6 1457.4L1278 1455.7L1279.4 1455.4L1280.8 1456.2L1282.2 1453.8L1283.6 1453L1285 1454L1286.4 1457.7L1287.8 1444L1289.1 1430.8L1290.5 1421.4L1291.9 1399.1L1293.3 1397.7L1293.5 1408.7L1294.7 1394.4L1296.1 1415.4L1297.5 1425.9L1298.9 1435.4L1300.3 1436.6L1301.7 1428.3L1303 1426.2L1304.4 1428L1305.8 1404.6L1307.2 1387.1L1308.6 1363L1309.5 1361.6L1310 1370L1311.4 1374.2L1312.8 1397.9L1314.2 1419.2L1315.5 1430.5L1316.9 1444.1L1318.3 1447.5L1319.7 1452.8L1321.1 1454.7L1322.5 1456.8L1323.9 1466.1L1325.3 1458.1L1326.7 1452.6L1328.1 1461.9L1329.5 1457.8L1330.8 1470L1332.2 1457.7L1333.6 1458.4L1335 1452.6L1336.4 1447.1L1337.8 1456L1339.2 1454L1340.6 1445.8L1342 1445.1L1343.4 1433.1L1344.7 1433.5L1346.1 1412.8L1347.5 1396.5L1348.9 1387L1349.6 1379.4L1350.3 1384.1L1351.7 1393.2L1353.1 1412.6L1354.5 1437.2L1355.9 1430.7L1357.2 1437L1358.6 1443L1360 1449.4L1361.4 1444.7L1362.8 1450.4L1364.2 1457.2L1365.6 1451.5L1367 1448.6L1368.4 1455.1L1369.8 1457L1371.2 1456.8L1372.5 1455L1373.9 1455.8L1375.3 1457.7L1376.7 1451.3L1378.1 1452.6L1379.5 1453.7L1380.9 1448.3L1382.3 1455.3L1383.7 1457.6L1385 1452L1386.4 1456.9L1387.8 1446.8L1389.2 1450.6L1390.6 1446.6L1392 1450.1L1393.4 1451.2L1394.8 1453.6L1396.2 1438.1L1397.6 1422.8L1398.8 1429L1399 1423.3L1400.3 1425.7L1401.7 1446.3L1403.1 1448L1404.5 1449.4L1405.9 1443.4L1407.3 1445.9L1408.7 1458L1410.1 1453.5L1411.5 1455.3L1412.8 1461.5L1414.2 1452.5L1415.6 1449.9L1417 1461.3L1418.4 1453.3L1419.8 1457.6L1421.2 1448.4L1422.6 1444.8L1424 1444.2L1425.4 1436.5L1426.3 1426.8L1426.8 1433.4L1428.1 1427.4L1429.5 1441.8L1430.9 1443.4L1432.3 1434.5L1433.7 1437.3L1435.1 1436L1436.5 1430.9L1437.9 1407L1439.3 1377.9L1440.7 1332.8L1441.7 1325.8L1442 1329.4L1443.4 1353.1L1444.8 1395.8L1446.2 1416L1447.6 1435.6L1449 1428.3L1450.4 1434.2L1451.8 1422.6L1453.2 1384.7L1454.5 1293.3L1455.9 1087.7L1457.3 742.3L1458.7 224.4L1460.1 -200L1461.5 -200L1462.9 -200L1464.3 -200L1465.7 -200L1467.1 219.5L1468.5 745.6L1469.8 1102.1L1471.2 1291.6L1472.6 1390.7L1474 1426.8L1475.4 1441.2L1476.8 1443.3L1478.2 1447L1479.6 1446.9L1481 1448.5L1482.3 1444.4L1483.7 1452L1485.1 1450.3L1486.5 1448.4L1487.9 1451.3L1489.3 1443.6L1490.7 1450.5L1492.1 1456.7L1493.5 1459.9L1494.9 1457.5L1496.2 1456.4L1497.6 1453.1L1499 1448.8L1500.4 1450.7L1501.8 1441.3L1503.2 1441.8L1504.6 1427.7L1506 1419.8L1507.4 1402.5L1508.7 1407.1L1508.8 1410.5L1510.2 1413.4L1511.5 1421.7L1512.9 1441L1514.3 1440.9L1515.7 1454.5L1517.1 1447.3L1518.5 1453L1519.9 1454.4L1521.3 1450.7L1522.7 1440.6L1524 1433.2L1525.4 1427.6L1526.8 1398.5L1528.2 1376.2L1529.6 1352.8L1530.4 1358.6L1531 1355.3L1532.4 1372.5L1533.8 1387L1535.2 1410.6L1536.6 1425L1537.9 1432.5L1539.3 1442.3L1540.7 1436.1L1542.1 1437.6L1543.5 1422.3L1544.9 1418.2L1545.3 1409.8L1546.3 1411.2L1547.7 1418.4L1549.1 1426.9L1550.5 1421.1L1551.8 1422.6L1553.2 1421.7L1554.5 1411.1L1554.6 1411.1L1556 1417.4L1557.4 1441.5L1558.8 1445.8L1560.2 1442.1L1561.6 1443L1563 1440.9L1564.4 1419.6L1565.8 1404.4L1567.1 1388.5L1568.2 1389.1L1568.5 1384.4L1569.9 1400L1571.3 1408L1572.7 1431.9L1574.1 1436.4L1575.5 1447.2L1576.9 1450.9L1578.3 1451.3L1579.7 1451.9L1581 1444.3L1582.4 1437.5L1583.8 1423.3L1585.2 1408.8L1586.6 1386L1588 1381.6L1588.8 1385.5L1589.4 1378.2L1590.8 1379.3L1592.2 1411.6L1593.5 1433.9L1594.9 1454L1596.3 1448.5L1597.7 1459.9L1599.1 1460.8L1600.5 1458.1L1601.9 1459.3L1603.3 1456L1604.7 1458.8L1606.1 1458.8L1607.4 1458L1608.8 1456.2L1610.2 1445.5L1611.6 1439.1L1611.7 1452.9L1613 1445.4L1614.4 1444.5L1615.8 1452.8L1617.2 1462L1618.6 1465.5L1620 1464.1L1621.3 1469.8L1622.7 1465.5L1624.1 1459.1L1625.5 1467.4L1626.9 1469.7L1628.3 1463L1629.7 1463.8L1631.1 1465.3L1632.5 1464.8L1633.9 1439.8L1635.2 1426.2L1636.6 1416.4L1638 1398.4L1639.2 1396.9L1639.4 1395.7L1640.8 1393.7L1642.2 1412.3L1643.6 1427.6L1645 1434L1646.1 1438.3L1646.4 1436.3L1647.8 1440.2L1649.2 1438.9L1650.5 1420.7L1651.9 1413.1L1653.3 1398L1654.7 1384.9L1655.2 1393.2L1656.1 1392.2L1657.5 1397.1L1658.9 1413.1L1660.3 1414.3L1661.7 1406.2L1663 1389.8L1664.4 1401.3L1664.4 1394.5L1665.8 1400.4L1667.2 1408.2L1668.6 1432.2L1670 1438.5L1671.4 1445.4L1672.8 1449.6L1674.2 1448.2L1675.6 1462L1676.9 1451L1678.3 1452.6L1679.7 1448.5L1681.1 1433.6L1682.5 1430.7L1683.9 1423.3L1685 1416L1685.3 1430.1L1686.7 1420.7L1688.1 1442.9L1689.5 1442L1690.8 1461.9L1692.2 1457.5L1693.6 1458.2L1695 1460.6L1696.4 1462.7L1697.8 1468.5L1699.2 1464.6L1700.6 1467.4L1702 1478.1L1703.4 1482.3L1704.8 1461.1L1706.1 1480.5L1707.5 1469.9L1708.9 1472.9L1710.3 1473.7L1711.7 1475.4L1713.1 1464.4L1714.5 1471.3L1715.9 1480.8L1717.3 1472.4L1718.7 1473.7L1720 1465.9L1721.4 1474L1722.8 1481.4L1724.2 1465.9L1725.6 1464.8L1727 1465.7L1728.4 1471.7L1729.8 1483.4L1731.2 1478.8L1732.5 1474.3L1733.9 1471.9L1735.3 1473.9L1736.7 1468L1738.1 1472.4L1739.5 1465.6L1740.9 1464L1742.3 1452.3L1743.7 1431.2L1745.1 1373.7L1746.1 1381.5L1746.4 1379.4L1747.8 1393.1L1749.2 1437.1L1750.6 1449.5L1752 1458.9L1753.4 1463.1L1754.8 1474.4L1756.2 1477.2L1757.6 1477.1L1759 1479.1L1760.3 1478.4L1761.7 1476.2L1763.1 1476.4L1764.5 1477.9L1765.9 1471.1L1767.3 1471L1768.7 1473.5L1770.1 1475.3L1771.5 1476.2L1772.9 1470.8L1774.2 1480L1775.6 1480L1777 1471.9L1778.4 1468.8L1779.8 1468L1781.2 1464.1L1782.6 1455.1L1784 1440.8L1785.4 1432.6L1786.8 1428L1787.4 1423.6L1788.2 1420.5L1789.5 1430.9L1790.9 1448.3L1792.3 1453.4L1793.7 1462.5L1795.1 1462.5L1796.5 1469.6L1797.9 1469.8L1799.3 1466.4L1800.7 1469.4L1802 1469.7L1803.4 1470.6L1804.8 1472.8L1806.2 1467.1L1807.6 1476.2L1809 1473.4L1810.4 1473.2L1811.8 1464.5L1813.2 1454.3L1814.6 1466.7L1815.9 1454L1817.3 1452.2L1818.7 1440.9L1819.4 1460.5L1820.1 1452.8L1821.5 1447.4L1822.9 1453.4L1824.3 1456.6L1825.7 1469.9L1827.1 1465.8L1828.5 1468.9L1829.8 1457.8L1831.2 1465.9L1832.6 1466L1834 1467.3L1835.4 1456.2L1836.8 1458.1L1838.2 1456.7L1839.6 1461L1841 1448.6L1842.4 1441.9L1843.8 1443.2L1845.1 1437.9L1845.7 1432.4L1846.5 1434.4L1847.9 1440.9L1849.3 1442.9L1850.7 1446.2L1852.1 1456.1L1853.5 1463.1L1854.9 1461L1856.3 1462.1L1857.7 1460.2L1859 1456.4L1860.4 1450.4L1861.8 1448.2L1863.2 1449.5L1864.6 1446.2L1866 1438.6L1867.4 1436.3L1867.5 1434.6L1868.8 1438.8L1870.2 1443L1871.5 1447.9L1872.9 1458.1L1874.3 1456.4L1875.7 1458.3L1877.1 1460.5L1878.5 1466.4L1879.9 1470.3L1881.3 1473L1882.7 1471.6L1884.1 1475.1L1885.4 1475L1886.8 1476.3L1888.2 1478.4L1889.6 1474.6L1891 1476.9L1892.4 1475.5L1893.8 1473.4L1895.2 1476.8L1896.6 1479.2L1898 1477.8L1899.3 1480.6L1900.7 1467.6L1902.1 1465.2L1903.5 1471L1904.9 1469.3L1906.3 1463.7L1907.7 1459.7L1909.1 1454.9L1910.5 1445.8L1911.9 1429.6L1913.2 1425.9L1914.6 1425.9L1914.9 1420.5L1916 1415L1917.4 1431L1918.8 1443.9L1920.2 1454.3L1921.6 1461.1L1923 1469.2L1924.4 1469L1925.8 1467.9L1927.2 1471.6L1928.5 1472.2L1929.9 1469.3L1931.3 1456L1932.7 1445.7L1934.1 1445.8L1935.5 1440.8L1936.6 1442.4L1936.9 1438.2L1938.3 1442.8L1939.7 1448.9L1941 1445.1L1942.4 1454.5L1943.8 1460.2L1945.2 1452.1L1946.6 1444.6L1948 1431.5L1949.2 1445.9L1949.4 1438.1L1950.8 1439.5L1952.2 1444.9L1953.6 1461.5L1954.9 1467.3L1956.3 1470.4L1957.7 1482.5L1959.1 1479.2L1960.5 1481.4L1961.9 1479.6L1963.3 1485.5L1964.7 1477.9L1966.1 1481L1967.5 1479.1L1968.8 1489.5L1970.2 1477.6L1971.6 1475.9L1973 1478.5L1974.4 1466L1975.8 1454.8L1977.2 1447.3L1977.9 1459.7L1978.6 1457.7L1980 1465.3L1981.4 1465.2L1982.8 1478.5L1984.1 1476.1L1985.5 1472.3L1986.9 1472.6L1988.3 1474.8L1989.7 1474.3L1991.1 1473.1L1992.5 1462.2L1993.9 1458.4L1995.3 1453.2L1996.7 1434.5L1998 1432L1998.5 1428.8L1999.4 1427.3L2000.8 1439.7L2002.2 1440.6L2003.6 1449.3L2005 1449.9L2006.4 1451.7L2007.8 1442L2009.2 1433.8L2010.5 1437.3L2011 1429.7L2011.9 1434.5L2013.3 1432L2014.7 1452.3L2016.1 1447.5L2017.5 1457.8L2018.9 1456.3L2020.3 1451.8L2021.7 1441.2L2023.1 1432L2024.4 1406.5L2025.8 1379.6L2027.2 1370.8L2028.2 1368.5L2028.6 1371.4L2030 1374.9L2031.4 1399.7L2032.8 1420.2L2034.2 1442.5L2035.6 1453.7L2037 1471.2L2038.3 1467L2039.7 1467.7L2041.1 1458.8L2042.5 1464.1L2043.9 1466.3L2045.3 1461.5L2046.7 1458.7L2048.1 1453.7L2049.5 1446.5L2050.9 1427.1L2052.2 1409.5L2053.6 1392.9L2055 1366.8L2056.4 1351L2056.8 1353.9L2057.8 1343.7L2059.2 1347.8L2060.6 1350.8L2062 1344.6L2063.4 1343.1L2063.7 1350.1L2064.8 1360.7L2066.2 1371.5L2067.5 1394.2L2068.9 1425.2L2070.3 1434.2L2071.7 1437.6L2073.1 1454.8L2074.5 1455.4L2075.9 1459.5L2077.3 1461.2L2078.7 1457.5L2080.1 1441.4L2081.4 1432.4L2082.8 1419.2L2084.2 1388L2085.6 1374.6L2087 1360.4L2087.7 1357.2L2088.4 1362.9L2089.8 1373.3L2091.2 1391.1L2092.6 1411L2093.9 1417L2095.3 1426.7L2096.7 1434.9L2098.1 1439.1L2099.5 1425.9L2100.9 1426.4L2101.5 1422.4L2102.3 1418.5L2103.7 1416.4L2105.1 1426.3L2106.5 1448.6L2107.8 1451L2109.2 1459L2110.6 1459.2L2112 1454.4L2113.4 1459.7L2114.8 1460.9L2116.2 1466.1L2117.6 1468.4L2119 1467.6L2120.4 1464.1L2121.8 1460.2L2123.1 1462.9L2124.5 1464.6L2125.9 1465L2127.3 1464.8L2128.7 1464L2130.1 1462.3L2131.5 1474.4L2132.9 1475.3L2134.3 1463.3L2135.7 1461.5L2137 1461.2L2138.4 1458.8L2139.8 1466.3L2141.2 1460.1L2142.6 1465.5L2144 1452.6L2145.4 1455.6L2146.8 1454.3L2147.3 1458L2148.2 1446.6L2149.6 1449.5L2150.9 1456.4L2152.3 1470L2153.7 1469.6L2155.1 1460.9L2156.5 1464L2157.9 1461.9L2159.3 1459.3L2160.7 1459.5L2162.1 1450.9L2163.3 1464.6L2163.4 1449.2L2164.8 1451.1L2166.2 1460.4L2167.6 1463.4L2169 1469.8L2170.4 1462.9L2171.8 1476L2173.2 1479.7L2174.6 1475.7L2176 1481.3L2177.3 1481.9L2178.7 1473.7L2180.1 1489.4L2181.5 1478.5L2182.9 1487.4L2184.3 1483.4L2185.7 1480L2187.1 1478.3L2188.5 1484.8L2189.9 1476.9L2191.2 1473.2L2192.6 1465.9L2194 1471.9L2195.3 1479.1L2195.4 1477.4L2196.8 1479.5L2198.2 1472.9L2199.6 1477.2L2201 1489.6L2202.4 1487.4L2203.8 1482.2L2205.2 1494.4L2206.5 1488.1L2207.9 1491.5L2209.3 1489.2L2210.7 1492.5L2212.1 1496.6L2213.5 1495.1L2214.9 1489.2L2216.3 1484.8L2217.7 1491.1L2219.1 1487.7L2220.4 1487.9L2221.8 1495.4L2223.2 1494.9L2224.6 1487.1L2226 1486.9L2227.4 1488.5L2228.8 1488.4L2230.2 1479L2231.6 1474.4L2232.9 1463.6L2234.3 1459.4L2235.7 1454.2L2236.5 1450.2L2237.1 1452.5L2238.5 1461L2239.9 1463.6L2241.3 1473.5L2242.7 1473.9L2244.1 1487.4L2245.5 1485.9L2246.8 1489.2L2248.2 1493.2L2249.6 1493L2251 1489L2252.4 1488.9L2253.8 1494.9L2255.2 1490.9L2256.6 1481.3L2258 1483.5L2259.4 1480.4L2260.8 1469L2262.1 1470.8L2263.5 1465.2L2264 1469.9L2264.9 1467.7L2266.3 1471.7L2267.7 1477.8L2269.1 1478.8L2270.5 1474.2L2271.9 1481.9L2273.3 1488.6L2274.7 1486L2276 1500.7L2277.4 1493.3L2278.8 1496.5L2280.2 1496.2L2281.6 1490.8L2283 1487.3L2284.4 1488.9L2285.8 1482L2286.9 1488.6L2287.2 1479.5L2288.6 1479.3L2289.9 1474.5L2291.3 1482.1L2292.7 1488.1L2294.1 1489.9L2295.5 1486.3L2296.9 1487.1L2298.3 1495.3L2299.7 1496.1L2301.1 1484L2302.4 1483.4L2303.8 1489.5L2305.2 1477.5L2306.6 1479.4L2308 1477L2309.4 1470L2310.8 1461L2312.2 1460.4L2313.2 1460.7L2313.6 1456.1L2315 1465.5L2316.3 1465.5L2317.7 1472.2L2319.1 1473.9L2320.5 1480.7L2321.9 1480.6L2323.3 1481.2L2324.7 1481.2L2326.1 1490.1L2327.5 1488L2328.9 1487.1L2330.2 1477.5L2331.6 1480L2333 1481.4L2334.4 1479.3L2335.8 1479.2L2337.2 1471.4L2338.6 1478L2339.6 1474.6L2340 1476.5L2341.4 1481.6L2342.8 1472.2L2344.2 1474L2345.5 1478.1L2346.9 1483.9L2348.3 1477L2349.7 1481.4L2351.1 1482.4L2352.5 1470.4L2353.9 1473.6L2355.3 1471.2L2356.7 1469.6L2358.1 1467.1" stroke="#ff0000"/>
<path d="M446.8 1043.3L448.2 1050.8L449.6 1059.6L451 1072.9L452.4 1079.1L453.8 1095.5L455.1 1095.3L456.5 1102.7L457.9 1106.1L459.3 1114L460.7 1114L462.1 1125.7L463.5 1131.3L464.9 1130.7L466.3 1128.1L467.6 1136.9L469 1135.5L470.4 1133.1L471.8 1141.9L473.2 1139.9L474.6 1141.4L476 1151.2L477.4 1147.2L478.8 1148.9L480.2 1154.6L481.6 1147.6L482.9 1145.8L484.3 1133.5L485.7 1131.6L487.1 1126.8L488.5 1121.8L489.9 1119.4L491.3 1107.2L492.7 1113.3L494.1 1106.2L495.5 1097.1L496.8 1094.3L498.2 1098.6L499.6 1086.5L501 1088.6L502.4 1082.2L503.8 1082.5L505.2 1077.4L506.6 1069.8L508 1069L509.4 1066.1L510.7 1066.3L512.1 1070.3L513.5 1079.3L514.9 1080.2L516.3 1089L517.7 1089.9L519.1 1101.1L520.5 1101.1L521.9 1114.1L523.2 1116.2L524.6 1121.5L526 1133.6L527.4 1150.7L528.8 1149L530.2 1168.9L531.6 1185.6L533 1178.9L534.4 1198.6L535.8 1203L537.1 1214.6L538.5 1213.9L539.9 1221.3L541.3 1242.9L542.7 1243L544.1 1258.3L545.5 1258.7L546.9 1263.3L548.3 1267.7L549.7 1276.1L551 1264.7L552.4 1260L553.8 1253.3L555.2 1237.1L556.6 1232.4L558 1203.6L559.4 1092.9L560.8 789.8L562.2 543.1L562.5 551.8L563.6 604.2L565 1042L566.3 1263.1L567.7 1342.6L569.1 1373.8L570.5 1377.9L571.9 1372.9L573.3 1373.2L574.7 1370.7L576.1 1379.8L577.5 1376L578.9 1384.5L580.2 1390.4L581.6 1384.4L583 1376L584.4 1388.6L585.8 1388.5L587.2 1394.7L588.6 1390L590 1386.9L591.4 1386.3L592.8 1391.9L594.1 1397.5L595.5 1391.7L596.9 1395.8L598.3 1395.7L599.7 1402L601.1 1396.1L602.5 1401.7L603.9 1399.4L605.3 1402.5L606.6 1406.3L608 1404.2L609.4 1414.9L610.8 1414.9L612.2 1418.8L613.6 1407.9L615 1406.7L616.4 1410.2L617.8 1406.6L619.2 1413.5L620.5 1418.5L621.9 1414.3L623.3 1415.9L624.7 1416.4L626.1 1412.7L627.5 1421.1L628.9 1421.8L630.3 1419.7L631.7 1414.8L633.1 1422.9L634.5 1414L635.8 1414.7L637.2 1423L638.6 1424.8L640 1423.3L641.4 1430.1L642.8 1415.3L644.2 1419.1L645.6 1415L647 1423.7L648.4 1421.7L649.7 1423.2L651.1 1415.9L652.5 1426.8L653.9 1416.4L655.3 1420.5L656.7 1421.9L658.1 1430.1L659.5 1424.4L660.9 1426.2L662.2 1422.7L663.6 1428.3L665 1430L666.4 1423.3L667.8 1424.4L669.2 1425.5L670.6 1423.1L672 1422.1L673.4 1425L674.8 1424.2L676.1 1417L677.5 1424.7L678.9 1434.8L680.3 1423L681.7 1421.2L683.1 1422.7L684.5 1424.8L685.9 1439L687.3 1433.9L688.7 1427.3L690 1424.6L691.4 1427.1L692.8 1434.1L694.2 1431.9L695.6 1429.3L697 1422.5L698.4 1416.3L699.8 1430.6L701.2 1423.1L702.6 1427.5L704 1419.7L705.3 1422.6L706.7 1421.5L708.1 1422.6L709.5 1425L710.9 1424.3L712.3 1424.4L713.7 1421.2L715.1 1416.6L716.5 1418.5L717.9 1421.7L719.2 1412.7L720.6 1416.4L722 1416.8L723.4 1416.5L724.8 1420.5L726.2 1425.2L727.6 1424.5L729 1422.4L730.4 1418.4L731.8 1421.8L733.1 1417.9L734.5 1424.8L735.9 1412.8L737.3 1421.8L738.7 1425L740.1 1418.1L741.5 1421L742.9 1424.9L744.3 1412.1L745.6 1421.5L747 1414.6L748.4 1417.2L749.8 1411.2L751.2 1411.9L752.6 1418.8L754 1420.1L755.4 1413.5L756.8 1417.4L758.2 1413.5L759.5 1414.7L760.9 1410.7L762.3 1411.8L763.7 1416.5L765.1 1409.1L766.5 1416.9L767.9 1416.7L769.3 1416.4L770.7 1412.1L772.1 1419.6L773.5 1415.4L774.8 1418.6L776.2 1421.6L777.6 1425.1L779 1429.7L780.4 1419.1L781.8 1413.7L783.2 1420L784.6 1421.7L786 1419.6L787.4 1413.9L788.7 1417.7L790.1 1418.1L791.5 1414.8L792.9 1413L794.3 1416.3L795.7 1417.6L797.1 1426L798.5 1425.9L799.9 1418.7L801.2 1420.8L802.6 1419.7L804 1415.2L805.4 1413.7L806.8 1407L808.2 1424.6L809.6 1419.4L811 1410L812.4 1422L813.8 1415.2L815.1 1420.8L816.5 1410.7L817.9 1418.2L819.3 1412.7L820.7 1412.4L822.1 1418.2L823.5 1422.6L824.9 1420.3L826.3 1415.6L827.7 1412.4L829 1409.8L830.4 1417.3L831.8 1408.5L833.2 1410.9L834.6 1409.7L836 1408.8L837.4 1409.5L838.8 1413.1L840.2 1403.6L841.6 1397.2L843 1384.6L844.3 1383.4L845.7 1385.6L847.1 1371.9L848.5 1375.3L848.7 1361.8L849.9 1357.2L851.3 1367.3L852.7 1372.5L854.1 1362.9L855.5 1358.9L856.9 1339.4L858.2 1300.6L859.6 1237.8L861 1169.7L862.1 1163.4L862.4 1167.5L863.8 1198L865.2 1275.1L866.6 1327.5L868 1358.5L869.4 1381.3L870.8 1395.4L872.1 1393.7L873.5 1399.2L874.9 1399.4L876.3 1394.7L877.7 1398.8L879.1 1412.1L880.5 1406.5L881.9 1400.6L883.3 1405.1L884.7 1401.9L886 1388.9L887.4 1379.2L888.8 1362.4L890.2 1333.4L891.6 1292.9L893 1212.9L894.4 1082L895.8 927.5L897.2 912.7L898.5 932.3L899.9 1091L901.3 1218.8L902.7 1288.5L904.1 1333.1L905.5 1360L906.9 1377.7L908.3 1387.5L909.7 1397.2L911.1 1396.8L912.5 1393.8L913.8 1411.6L915.2 1406.8L916.6 1411.5L918 1417.6L919.4 1414.8L920.8 1413.3L922.2 1423.5L923.6 1419.8L925 1408.3L926.4 1406.9L927.7 1399.7L929.1 1406.7L930.5 1400.8L931.9 1409.8L933.3 1415L934.7 1407.9L936.1 1409L937.5 1407.4L938.9 1417.7L940.2 1405.9L941.6 1410.1L943 1410.4L944.4 1408.7L945.8 1399.6L947.2 1402.5L948.6 1398.9L950 1389.8L951.4 1385.4L952.8 1385.7L954.2 1382.9L955.5 1371.7L956.9 1354.5L958.3 1326.7L959.7 1273.9L961.1 1201L962.5 1067.2L963.9 903.6L965.3 833.3L965.6 837.8L966.7 840L968 985.2L969.4 1144.7L970.8 1249.9L972.2 1309.1L973.6 1345.3L975 1368.4L976.4 1383.2L977.8 1385.8L979.2 1392.6L980.6 1403.1L982 1400.9L983.3 1409.2L984.7 1416.2L986.1 1411.8L987.5 1411.2L988.9 1413.3L990.3 1410.9L991.7 1415.7L993.1 1413.8L994.5 1416.4L995.9 1417.3L997.2 1420.1L998.6 1420.1L1000 1417.2L1001.4 1415.7L1002.8 1418.1L1004.2 1419.7L1005.6 1426L1007 1415L1008.4 1423.7L1009.8 1406.5L1011.1 1417.8L1012.5 1410.9L1013.9 1417.8L1015.3 1413.3L1016.7 1413.9L1018.1 1414.1L1019.5 1415.8L1020.9 1412L1022.3 1416.5L1023.7 1404.3L1025 1411.5L1026.4 1395.4L1027.8 1397.5L1029.2 1401.4L1029.6 1385.9L1030.6 1389L1032 1399L1033.4 1403.9L1034.8 1405.8L1036.2 1398.1L1037.5 1405.5L1038.9 1396.4L1040.3 1380.4L1041.7 1363.2L1043.1 1361.8L1044.4 1361.8L1044.5 1363L1045.9 1358.7L1047.3 1380.8L1048.7 1393.3L1050.1 1401.5L1051.5 1408.4L1052.8 1410.3L1054.2 1418.4L1055.6 1414.7L1057 1413L1058.4 1410.1L1059.8 1410.1L1061.2 1414.8L1062.6 1422L1064 1415.8L1065.4 1419L1066.7 1407.6L1068.1 1413.2L1069.5 1413.4L1070.9 1413.3L1072.3 1418.5L1073.7 1412.7L1075.1 1411.8L1076.5 1412.6L1077.9 1411.5L1079.2 1423.1L1080.6 1409.1L1082 1402.4L1083.4 1398.5L1084.8 1406.6L1086.2 1377L1087.6 1357.2L1089 1332.6L1090.4 1282.6L1091.8 1223.1L1093.2 1216.6L1094.5 1226.8L1095.9 1282.2L1097.3 1322.2L1098.7 1359.5L1100.1 1381.6L1101.5 1397L1102.9 1398.6L1104.3 1407.5L1105.7 1408L1107 1407L1108.4 1407.3L1109.8 1402.4L1111.2 1397.1L1112.6 1403.6L1114 1397.6L1115.4 1387.5L1116.8 1386.6L1118.2 1372.3L1119.6 1349.5L1121 1329.5L1122.3 1292.3L1123.7 1236.6L1125.1 1146.2L1126.5 1001.1L1127.9 791.9L1129.3 678.9L1130 678.3L1130.7 672.7L1132.1 799.6L1133.5 1002.1L1134.9 1155.9L1136.2 1241.8L1137.6 1300.2L1139 1332.9L1140.4 1361.6L1141.8 1381.9L1143.2 1379.5L1144.6 1384.7L1146 1401L1147.4 1407.9L1148.8 1415.6L1150.1 1406.5L1151.5 1419.5L1152.9 1415L1154.3 1415.8L1155.7 1419.8L1157.1 1419.4L1158.5 1421.4L1159.9 1416.8L1161.3 1415L1162.7 1415.7L1164 1428.8L1165.4 1428.9L1166.8 1425.1L1168.2 1418.5L1169.6 1411.9L1171 1413.7L1172.4 1393.8L1173.8 1386.2L1175.2 1386.9L1176.5 1391.4L1177.9 1404.6L1179.3 1391.4L1180.7 1392.3L1182.1 1394.1L1182.9 1395.7L1183.5 1390.7L1184.9 1388.9L1186.3 1397.6L1187.7 1404.1L1189.1 1396L1190.5 1396.3L1191.8 1379.3L1193.2 1355.7L1194.6 1320.6L1196 1259.4L1197.4 1240.2L1198.1 1229.6L1198.8 1239.6L1200.2 1267L1201.6 1316.7L1203 1351.8L1204.4 1380L1205.7 1382.1L1207.1 1398.9L1208.5 1397.9L1209.9 1407L1211.3 1415.2L1212.7 1417.6L1214.1 1411.1L1215.5 1409.3L1216.9 1411.9L1218.2 1405.2L1219.6 1396.9L1221 1386.4L1222.4 1377.3L1223.8 1362.4L1225.2 1361.7L1225.3 1363.3L1226.6 1352.3L1228 1364.9L1229.4 1377.8L1230.8 1377.2L1232.2 1377.2L1233.5 1381.3L1234.9 1381L1235.6 1372L1236.3 1375.6L1237.7 1377.1L1239.1 1397.8L1240.5 1397.8L1241.9 1402.5L1243.3 1411.8L1244.7 1398.9L1246 1411.1L1247.4 1410.4L1248.8 1415.4L1250.2 1416.5L1251.6 1418.4L1253 1417.3L1254.4 1413.2L1255.8 1422.6L1257.2 1417L1258.6 1417.2L1260 1417.8L1261.3 1418.1L1262.7 1410L1264.1 1418.2L1265.5 1418.9L1266.9 1421.6L1268.3 1414L1269.7 1415.3L1271.1 1425.5L1272.5 1426.3L1273.9 1426.7L1275.2 1416.2L1276.6 1417.2L1278 1413.4L1279.4 1419.3L1280.8 1414L1282.2 1413.3L1283.6 1407.7L1285 1414.1L1286.4 1419.2L1287.8 1404.3L1289.1 1387.7L1290.5 1368.8L1291.9 1368.6L1293.3 1353.1L1293.5 1351.8L1294.7 1355.3L1296.1 1371.3L1297.5 1382.1L1298.9 1392.6L1300.3 1388.2L1301.7 1394.7L1303 1376.3L1304.4 1368.9L1305.8 1348L1307.2 1320.7L1308.4 1322.9L1308.6 1319.3L1310 1329.2L1311.4 1359.2L1312.8 1380.2L1314.2 1383.3L1315.5 1403.3L1316.9 1403.6L1318.3 1405L1319.7 1409.6L1321.1 1407.8L1322.5 1416.7L1323.9 1410.8L1325.3 1410.2L1326.7 1422.6L1328.1 1414.7L1329.5 1419.3L1330.8 1420L1332.2 1413.8L1333.6 1415.3L1335 1410.3L1336.4 1413.1L1337.8 1421.2L1339.2 1414.6L1340.6 1408.1L1342 1402.7L1343.4 1402.9L1344.7 1389L1346.1 1380.3L1347.5 1352.7L1348.9 1335L1350.3 1326.6L1350.7 1339.2L1351.7 1327.7L1353.1 1342.6L1354.5 1369.1L1355.9 1385.5L1357.2 1391.1L1358.6 1404.3L1360 1405.8L1361.4 1417.5L1362.8 1406.3L1364.2 1415.7L1365.6 1413.7L1367 1401.3L1368.4 1397.9L1369.8 1392.6L1371.2 1383.9L1371.3 1387L1372.5 1381.6L1373.9 1395.1L1375.3 1398.3L1376.7 1411.1L1378.1 1408.3L1379.5 1400.6L1380.9 1413.4L1382.3 1419.7L1383.7 1417.7L1385 1416L1386.4 1409.4L1387.8 1416.2L1389.2 1398.3L1390.6 1392.3L1392 1384.5L1393.4 1373.5L1394.2 1387.2L1394.8 1370.3L1396.2 1382.2L1397.6 1389.8L1399 1406.8L1400.3 1406.1L1401.7 1410.5L1403.1 1408.1L1404.5 1418.9L1405.9 1405.2L1407.3 1410.7L1408.7 1402.6L1410.1 1408.7L1411.5 1411.9L1412.8 1414.3L1414.2 1410.1L1415.6 1410.9L1417 1414.9L1418.4 1408.6L1419.8 1398.4L1421.2 1405.5L1422.6 1397L1424 1396.3L1425.4 1383.5L1426.3 1384.3L1426.8 1383.5L1428.1 1387.4L1429.5 1386.1L1430.9 1395.9L1432.3 1390.8L1433.7 1402.4L1435.1 1394L1436.5 1392.6L1437.9 1375L1439.3 1359.9L1440.7 1328.4L1442 1310L1442.7 1306.9L1443.4 1310.4L1444.8 1332.2L1446.2 1353.8L1447.6 1381.4L1449 1380.2L1450.4 1374.3L1451.8 1357.8L1453.2 1305.9L1454.5 1212L1455.9 993.1L1457.3 650.2L1458.7 192L1460.1 -200L1461.5 -200L1462.9 -200L1463.2 -200L1464.3 -200L1465.7 -200L1467.1 -79.2L1468.5 444L1469.8 849.7L1471.2 1118.6L1472.6 1265.5L1474 1347.3L1475.4 1379.1L1476.8 1400.7L1478.2 1389.4L1479.6 1400L1481 1398.2L1482.3 1395.5L1483.7 1399.4L1485.1 1404.6L1486.5 1405.8L1487.9 1395.9L1489.3 1408.9L1490.7 1397.9L1492.1 1394L1493.5 1403.3L1494.9 1401.5L1496.2 1394.8L1497.6 1395.1L1499 1395.5L1500.4 1379.7L1501.8 1384.6L1503.2 1364.7L1504.6 1348.9L1506 1356.2L1506.4 1360.7L1507.4 1348.1L1508.8 1367.4L1510.2 1372.1L1511.5 1391.6L1512.9 1389.1L1514.3 1403L1515.7 1402.8L1517.1 1403.8L1518.5 1401.8L1519.9 1400.6L1521.3 1398.6L1522.7 1402.1L1524 1403.8L1525.4 1406.6L1526.8 1384.5L1528.2 1379.2L1529.6 1368.6L1531 1345L1532.4 1326.1L1533.8 1317.5L1533.9 1317.8L1535.2 1317.4L1536.6 1337L1537.9 1354.8L1539.3 1366.9L1540.7 1368.4L1542.1 1366.8L1543 1375.9L1543.5 1369.6L1544.9 1368.5L1546.3 1373.3L1547.7 1388.7L1549.1 1390.4L1550.5 1386.1L1551.8 1370.2L1553.2 1376.3L1554.5 1365.1L1554.6 1374L1556 1371.9L1557.4 1375.7L1558.8 1391L1560.2 1394.2L1561.6 1399.4L1563 1401.1L1564.4 1384.2L1565.8 1383.3L1567.1 1367.6L1568.5 1354.1L1569.9 1345.5L1570.5 1345L1571.3 1343.8L1572.7 1360.7L1574.1 1378L1575.5 1390.4L1576.9 1402.4L1578.3 1405.5L1579.7 1409.8L1581 1405.2L1582.4 1404.7L1583.8 1408.5L1585.2 1398L1586.6 1380.5L1588 1349.2L1589.4 1340.9L1590.8 1339.4L1591.1 1328.6L1592.2 1323.7L1593.5 1355.3L1594.9 1376.8L1596.3 1395.3L1597.7 1399.7L1599.1 1419.9L1600.5 1410.9L1601.9 1417.2L1603.3 1419.3L1604.7 1421.1L1606.1 1418L1607.4 1415.7L1608.8 1422L1610.2 1410.1L1611.6 1396.2L1613 1399.3L1614 1389.6L1614.4 1390.1L1615.8 1397.1L1617.2 1412.8L1618.6 1419.8L1620 1425L1621.3 1425.7L1622.7 1427.4L1624.1 1425.8L1625.5 1419L1626.9 1417.1L1628.3 1409.7L1629.7 1399.6L1631.1 1384.4L1632.5 1368.4L1633.9 1357.8L1634.6 1354.1L1635.2 1350.6L1636.6 1363.4L1638 1371.6L1639.4 1382.1L1640.8 1388.1L1642.2 1375.9L1643.6 1382.5L1643.8 1391.1L1645 1375.5L1646.4 1380.9L1647.8 1393.8L1649.2 1371.7L1650.5 1358.6L1651.9 1350.2L1652.9 1346L1653.3 1351.8L1654.7 1348.5L1656.1 1368.8L1657.5 1376.4L1658.9 1381.4L1660.3 1373.8L1661.7 1360.9L1663 1351.4L1664.4 1344.7L1664.4 1347.3L1665.8 1348L1667.2 1372.2L1668.6 1381.7L1670 1404.8L1671.4 1414.4L1672.8 1417.5L1674.2 1411.7L1675.6 1413.4L1676.9 1408.8L1678.3 1400.1L1679.7 1394.2L1681.1 1380.9L1682.5 1376.1L1682.7 1379.4L1683.9 1386.1L1685.3 1383.7L1686.7 1403.2L1688.1 1420.1L1689.5 1422.7L1690.8 1408.2L1692.2 1421.3L1693.6 1425.5L1695 1428.2L1696.4 1427.9L1697.8 1422.7L1699.2 1419.8L1700.6 1422.1L1702 1425.9L1703.4 1427.5L1704.8 1430.4L1706.1 1430.2L1707.5 1425.3L1708.9 1428.8L1710.3 1423.5L1711.7 1435.7L1713.1 1433.7L1714.5 1424.5L1715.9 1427.5L1717.3 1431.9L1718.7 1416.6L1720 1413.9L1721.4 1422.1L1722.8 1420.1L1724.2 1423.8L1725.6 1426.8L1727 1420.5L1728.4 1423.5L1729.8 1419.8L1731.2 1419.8L1732.5 1419.7L1733.9 1417.6L1735.3 1410.8L1736.7 1420.3L1738.1 1411.3L1739.5 1397.7L1740.9 1381.9L1742.3 1347.8L1743.7 1335.7L1743.9 1338.7L1745.1 1343.5L1746.4 1373.7L1747.8 1402.8L1749.2 1405.4L1750.6 1412.9L1752 1419.2L1753.4 1419.6L1754.8 1426.8L1756.2 1419.8L1757.6 1430.1L1759 1424.3L1760.3 1425.8L1761.7 1428.3L1763.1 1433.5L1764.5 1430.3L1765.9 1433.6L1767.3 1424.3L1768.7 1427.2L1770.1 1422.6L1771.5 1425.1L1772.9 1423.1L1773.6 1423.1L1774.2 1426L1775.6 1423L1777 1428.2L1778.4 1425.2L1779.8 1417.2L1781.2 1421.5L1782.6 1419.7L1784 1398.1L1785.4 1381L1786.8 1385.4L1787.4 1384.3L1788.2 1384.9L1789.5 1383.5L1790.9 1401.6L1792.3 1407.3L1793.7 1418.1L1795.1 1418.5L1796.5 1428.3L1797.9 1432.9L1799.3 1436.6L1800.7 1438.1L1802 1442.5L1803.4 1440.1L1804.8 1436.7L1806.2 1433.8L1807.6 1436.3L1809 1428.5L1810.4 1430.8L1811.8 1428.1L1813.2 1418L1814.6 1427.4L1815.9 1419.9L1817.3 1409.1L1818.7 1409.7L1820.1 1405.3L1820.6 1402.5L1821.5 1402.5L1822.9 1405.4L1824.3 1413.1L1825.7 1417.4L1827.1 1425.7L1828.5 1428.5L1829.8 1424.3L1831.2 1422.7L1832.6 1429.9L1834 1423.5L1835.4 1422L1836.8 1419.4L1838.2 1416.2L1839.6 1407.1L1841 1396.4L1842.4 1380.6L1843.8 1374.4L1844.6 1372.8L1845.1 1372.9L1846.5 1380L1847.9 1397.6L1849.3 1400.1L1850.7 1408.8L1852.1 1417.9L1853.5 1415L1854.9 1425.2L1856.3 1420.9L1857.7 1423.8L1859 1423.7L1860.4 1409.9L1861.8 1405.8L1863.2 1398.8L1864.6 1393.2L1865.2 1391.1L1866 1395.1L1867.4 1397.4L1868.8 1402.2L1870.2 1409.7L1871.5 1417.1L1872.9 1415.5L1874.3 1419.6L1875.7 1413.6L1877.1 1429.4L1878.5 1425.7L1879.9 1425.4L1881.3 1431.1L1882.7 1422.7L1884.1 1424.6L1885.4 1424.3L1886.8 1425.6L1888.2 1431.8L1889.6 1439L1891 1429.6L1892.4 1432.3L1893.8 1440.6L1895.2 1439.6L1896.6 1437L1898 1436.7L1899.3 1439.2L1900.7 1439.8L1902.1 1438.3L1903.5 1432.7L1904.9 1430.1L1906.3 1433.7L1907.7 1428.4L1909.1 1434.6L1910.5 1435.4L1911.9 1420.8L1913.2 1414.9L1914.6 1400.9L1916 1382.1L1917.4 1369.2L1918.3 1369.8L1918.8 1375.8L1920.2 1384L1921.6 1389.4L1923 1404L1924.4 1415.1L1925.8 1422.3L1927.2 1424.6L1928.5 1426.7L1929.9 1426.8L1931.3 1428.4L1932.7 1413.9L1934.1 1403.2L1935.5 1403.8L1936.9 1401.8L1937.8 1395.2L1938.3 1407.8L1939.7 1405.5L1941 1410L1942.4 1410L1943.8 1409.6L1945.2 1410.7L1946.6 1400.7L1948 1398.2L1949.4 1392.2L1950.4 1391.3L1950.8 1387.4L1952.2 1395.1L1953.6 1401.7L1954.9 1421.6L1956.3 1423.1L1957.7 1425.7L1959.1 1436.2L1960.5 1432L1961.9 1439.6L1963.3 1443.6L1964.7 1439.1L1966.1 1443.1L1967.5 1436.6L1968.8 1446.1L1970.2 1439.5L1971.6 1437L1973 1447.6L1974.4 1431.2L1975.8 1437.9L1977.2 1429.1L1978.6 1434.1L1980 1423.8L1981.4 1416.7L1982.8 1409.8L1984.1 1412.8L1984.7 1402.8L1985.5 1410.6L1986.9 1403.9L1988.3 1408.8L1989.7 1413.5L1991.1 1415.3L1992.5 1418.2L1993.9 1402.4L1995.3 1400.5L1996.2 1392.8L1996.7 1387.9L1998 1395L1999.4 1400.4L2000.8 1416.3L2002.2 1420.9L2003.6 1413.1L2005 1416L2006.4 1397.5L2007.8 1394.7L2009.2 1382.1L2009.9 1389.6L2010.5 1389.9L2011.9 1383.2L2013.3 1394.2L2014.7 1401.1L2016.1 1403L2017.5 1408.7L2018.9 1402.9L2020.3 1375L2021.7 1365.6L2023.1 1344.8L2024.4 1344.7L2024.8 1336.3L2025.8 1347.5L2027.2 1353.3L2028.6 1371.1L2030 1389L2031.4 1402.4L2032.8 1414.3L2034.2 1414.2L2035.6 1421.3L2037 1415.6L2038.3 1412.3L2039.7 1415.5L2041.1 1406L2042.5 1404.3L2043.9 1400.3L2044.2 1396L2045.3 1389.3L2046.7 1371.7L2048.1 1349.1L2049.5 1318L2050.9 1325.9L2051.1 1323.6L2052.2 1319.7L2053.6 1340.2L2055 1356.4L2056.4 1367.4L2057.8 1381L2059.2 1381L2060.6 1378L2062 1367.4L2063.4 1358.7L2064.8 1361.8L2064.8 1351.4L2066.2 1356.8L2067.5 1367.8L2068.9 1382.8L2070.3 1390.3L2071.7 1395.9L2073.1 1406.2L2074.5 1392.8L2075.9 1392.8L2077.3 1386.7L2078.7 1367.6L2080.1 1345.2L2081.4 1321.8L2082.8 1319.3L2083.1 1313.6L2084.2 1322.3L2085.6 1333.7L2087 1363.3L2088.4 1378.9L2089.8 1384.7L2091.2 1393.7L2092.6 1402.5L2093.9 1402.4L2095.3 1403.1L2096.7 1398L2098.1 1377.6L2099.5 1368.8L2100.9 1372.2L2101.5 1363.6L2102.3 1366.3L2103.7 1370.2L2105.1 1387.7L2106.5 1394.2L2107.8 1403.8L2109.2 1420.4L2110.6 1406.4L2112 1412.7L2113.4 1411L2114.8 1403.1L2116.2 1408.6L2117.5 1406.1L2117.6 1410.4L2119 1402.3L2120.4 1410L2121.8 1416.4L2123.1 1434.8L2124.5 1440.8L2125.9 1433L2127.3 1427.2L2128.7 1433.6L2130.1 1434.3L2131.5 1431.6L2132.9 1437.5L2134.3 1428.4L2135.7 1436.2L2137 1438.1L2138.4 1437.7L2139.8 1439.7L2141.2 1440.6L2142.6 1434.5L2144 1428.1L2145.4 1427.5L2146.8 1420.5L2148.2 1404.1L2149.6 1394.9L2150.9 1395.1L2151.8 1394.4L2152.3 1384.1L2153.7 1407.7L2155.1 1390.8L2156.5 1406.9L2157.9 1416.8L2159.3 1420.8L2160.7 1424.5L2162.1 1425.2L2163.4 1423L2164.8 1413.6L2166.2 1411.5L2167.6 1409.4L2169 1398.9L2170.2 1407.6L2170.4 1401L2171.8 1408.4L2173.2 1409.9L2174.6 1426.7L2176 1429.5L2177.3 1423.1L2178.7 1434.5L2180.1 1433.4L2181.5 1435.6L2182.9 1432.7L2184.3 1441.7L2185.7 1442.4L2187.1 1448.1L2188.5 1439.4L2189.9 1447.9L2191.2 1434.1L2192.6 1440.1L2194 1436.6L2195.4 1429.3L2196.8 1425L2198.2 1432.2L2199.6 1434.9L2199.9 1426.3L2201 1433.8L2202.4 1436.9L2203.8 1442.5L2205.2 1443.8L2206.5 1440.4L2207.9 1449.6L2209.3 1444.6L2210.7 1449.6L2212.1 1441.5L2213.5 1453.5L2214.9 1448.1L2216.3 1445.9L2217.7 1454.8L2219.1 1447.9L2220.4 1449.1L2221.8 1445.1L2223.2 1439.3L2224.6 1442.8L2226 1442.5L2227.4 1422.8L2228.8 1433.3L2230.2 1427.1L2231.6 1419.2L2232.9 1413.9L2233.1 1421.8L2234.3 1415.9L2235.7 1419.7L2237.1 1423.8L2238.5 1439L2239.9 1445.4L2241.3 1448.5L2242.7 1440.2L2244.1 1443.8L2245.5 1436.5L2246.8 1446.3L2248.2 1435.6L2249.6 1449.5L2251 1443.8L2252.4 1435.4L2253.8 1438.2L2255.2 1424.4L2256.6 1413.6L2258 1429.1L2258.3 1424.6L2259.4 1420.9L2260.8 1427.8L2262.1 1429.4L2263.5 1431.7L2264.9 1445.5L2266.3 1436.6L2267.7 1439.5L2269.1 1447.3L2270.5 1443.4L2271.9 1443.1L2273.3 1449.2L2274.7 1449.9L2276 1445.5L2277.4 1445.1L2278.8 1438.4L2280.2 1449.2L2281.6 1448.4L2283 1442.6L2284.4 1429.8L2285.8 1430L2286.9 1424.7L2287.2 1438.6L2288.6 1436.9L2289.9 1436.9L2291.3 1435L2292.7 1446.4L2294.1 1442.3L2295.5 1443.2L2296.9 1446.1L2298.3 1447.6L2299.7 1444.6L2301.1 1442.4L2302.4 1447.7L2303.8 1440.5L2305.2 1440.1L2306.6 1438.3L2308 1438L2309.4 1424L2310.8 1425.4L2312.1 1422.6L2312.2 1415L2313.6 1416.2L2315 1422.4L2316.3 1429.3L2317.7 1430.8L2319.1 1438.2L2320.5 1438.5L2321.9 1449L2323.3 1453.1L2324.7 1444.9L2326.1 1445.7L2327.5 1447.8L2328.9 1438.6L2330.2 1442.9L2331.6 1437.6L2333 1434.1L2334.4 1442.1L2335.8 1436.2L2337.2 1432.4L2338.6 1436.6L2340 1426L2341.4 1426.9L2341.9 1426.8L2342.8 1428.7L2344.2 1431.8L2345.5 1426.2L2346.9 1432.3L2348.3 1440.6L2349.7 1429.7L2351.1 1430.8L2352.5 1430.3L2353.9 1436.4L2355.3 1436.9L2356.7 1431.1L2358.1 1429.2" stroke="#00ff00"/>
<path d="M446.8 1013.3L448.2 1011.6L449.6 1021.5L451 1034.8L452.4 1042.5L453.8 1048.9L455.1 1049.5L456.5 1059.6L457.9 1061.4L459.3 1071.7L460.7 1081.9L462.1 1083.4L463.5 1075.4L464.9 1087.4L466.3 1090.2L467.6 1093.2L469 1098.8L470.4 1094.5L471.8 1095.9L473.2 1103.7L474.6 1092.7L476 1100.4L477.4 1110.3L478.8 1118.4L480.2 1116.7L481.6 1113.4L482.9 1104.2L484.3 1104L485.7 1093.6L487.1 1082.3L488.5 1089.9L489.9 1086.6L491.3 1076.5L492.7 1069.6L494.1 1077.9L495.5 1066.1L496.8 1068L498.2 1057.9L499.6 1056.8L501 1057.7L502.4 1050.7L503.8 1043.1L505.2 1057L506.6 1047.7L508 1041.8L509.4 1036.3L510.7 1038L512.1 1044.2L513.5 1042.4L514.9 1053.4L516.3 1060.9L517.7 1065L519.1 1074L520.5 1073.3L521.9 1077.1L523.2 1090.5L524.6 1091.4L526 1109.2L527.4 1109.5L528.8 1120.6L530.2 1120.5L531.6 1136.3L533 1146.7L534.4 1157.3L535.8 1166.2L537.1 1170L538.5 1178.9L539.9 1188.3L541.3 1183.6L542.7 1190.1L544.1 1197.6L545.5 1204.4L546.9 1219.1L548.3 1231.4L549.7 1224.7L551 1229.5L552.4 1227.8L553.8 1222.3L555.2 1213.8L556.6 1200.4L558 1160.2L559.4 1053.6L560.8 737.2L562.2 503.5L562.5 508.7L563.6 557.8L565 989.9L566.3 1205.7L567.7 1291.8L569.1 1339.6L570.5 1348L571.9 1346.2L573.3 1353.5L574.7 1356.8L576.1 1346.8L577.5 1344.4L578.9 1343.1L580.2 1340.1L581.6 1347.8L583 1333.5L584.4 1351L585.8 1354.1L587.2 1348.8L588.6 1349.2L590 1351.9L591.4 1352.1L592.8 1351.2L594.1 1355.1L595.5 1362.8L596.9 1359.7L598.3 1357.6L599.7 1356.4L601.1 1358.9L602.5 1363.7L603.9 1358.1L605.3 1357.2L606.6 1358.6L608 1369.2L609.4 1363.6L610.8 1360.2L612.2 1364.7L613.6 1368.9L615 1366.7L616.4 1369.1L617.8 1371.9L619.2 1371.3L620.5 1375.2L621.9 1377.9L623.3 1366.3L624.7 1369.7L626.1 1382.4L627.5 1378L628.9 1376.4L630.3 1385.3L631.7 1379.3L633.1 1369.8L634.5 1374.2L635.8 1372.9L637.2 1374.6L638.6 1376.8L640 1381.2L641.4 1386.8L642.8 1385.8L644.2 1379.2L645.6 1371.8L647 1372.5L648.4 1372.5L649.7 1378.1L651.1 1380.5L652.5 1371.9L653.9 1375.4L655.3 1379.3L656.7 1379.2L658.1 1382.5L659.5 1374.5L660.9 1384.4L662.2 1376.5L663.6 1374.4L665 1378.7L666.4 1373.4L667.8 1378.3L669.2 1382.9L670.6 1383.2L672 1388.6L673.4 1374.2L674.8 1377.3L676.1 1373.9L677.5 1383.5L678.9 1385.1L680.3 1379.3L681.7 1382.4L683.1 1379.4L684.5 1373.4L685.9 1378.3L687.3 1377L688.7 1374.5L690 1374.3L691.4 1370.4L692.8 1373.5L694.2 1365.4L695.6 1372.9L697 1382.9L698.4 1377.2L699.8 1379.1L701.2 1369.5L702.6 1376.1L704 1380.8L705.3 1377.1L706.7 1371.5L708.1 1372.2L709.5 1374.3L710.9 1373.8L712.3 1377.7L713.7 1372.2L715.1 1371.2L716.5 1375.5L717.9 1373L719.2 1378L720.6 1369.3L722 1375.6L723.4 1376L724.8 1376L726.2 1371.7L727.6 1367.7L729 1367.9L730.4 1372.7L731.8 1369.9L733.1 1376.1L734.5 1373.5L735.9 1371L737.3 1371.5L738.7 1373.2L740.1 1374.1L741.5 1369.7L742.9 1371.5L744.3 1379.7L745.6 1377.4L747 1373.9L748.4 1371.5L749.8 1371.6L751.2 1364.7L752.6 1373.5L754 1363.9L755.4 1371.6L756.8 1367.9L758.2 1368.6L759.5 1364.2L760.9 1372.1L762.3 1361.8L763.7 1370.6L765.1 1369.7L766.5 1379.1L767.9 1370.1L769.3 1372.1L770.7 1366.8L772.1 1369.2L773.5 1373.4L774.8 1376.9L776.2 1365.7L777.6 1371.8L779 1365.2L780.4 1364L781.8 1363L783.2 1374.9L784.6 1375.6L786 1374.3L787.4 1377.2L788.7 1371.1L790.1 1372.2L791.5 1369.8L792.9 1370L794.3 1367.3L795.7 1368.7L797.1 1371.8L798.5 1374.9L799.9 1367.3L801.2 1372.8L802.6 1376.7L804 1376.7L805.4 1367.1L806.8 1371.8L808.2 1373.4L809.6 1377L811 1370.9L812.4 1368L813.8 1370.7L815.1 1376.3L816.5 1371.4L817.9 1368.8L819.3 1373.3L820.7 1375.7L822.1 1377L823.5 1365.4L824.9 1367.3L826.3 1372.6L827.7 1370L829 1364.4L830.4 1362.5L831.8 1361.6L833.2 1366.7L834.6 1366.6L836 1362.3L837.4 1355.4L838.8 1351.5L840.2 1349.3L841.6 1345.5L843 1327.4L844.3 1327.8L845.7 1313.9L847.1 1306.7L848 1303.4L848.5 1298.6L849.9 1311.3L851.3 1320.5L852.7 1312.9L854.1 1310.4L855.5 1302.4L856.9 1281.9L858.2 1241.7L859.6 1174.5L861 1122.2L861.7 1133.6L862.4 1126.8L863.8 1177.6L865.2 1246.8L866.6 1297L868 1320.2L869.4 1336.4L870.8 1348.5L872.1 1353.2L873.5 1361.4L874.9 1352.7L876.3 1359.8L877.7 1356.2L879.1 1348.7L880.5 1352.6L881.9 1354.9L883.3 1344.9L884.7 1341.5L886 1333.2L887.4 1328.4L888.8 1303.1L890.2 1275L891.6 1227.5L893 1147.4L894.4 1012L895.8 892L896.8 880.3L897.2 879.9L898.5 938.4L899.9 1077.9L901.3 1189.9L902.7 1261.8L904.1 1285.4L905.5 1314.7L906.9 1331.2L908.3 1333.8L909.7 1335.8L911.1 1339.5L912.5 1351.4L913.8 1350.3L915.2 1352.3L916.6 1348.7L918 1351.5L919.4 1353.7L920.8 1354.8L922.2 1355.7L923.6 1356.2L925 1358.3L926.4 1360.3L927.7 1352.5L929.1 1357.7L930.5 1356.4L931.9 1356.3L933.3 1351.5L934.7 1355.9L936.1 1352.5L937.5 1354.8L938.9 1348.3L940.2 1359.6L941.6 1345.4L943 1348.2L944.4 1351.9L945.8 1344.7L947.2 1346.7L948.6 1340.1L950 1337.4L951.4 1328.9L952.8 1319.8L954.2 1306.6L955.5 1282.8L956.9 1240.3L958.3 1180.9L959.7 1082.1L961.1 931.1L962.5 788.8L963.5 779.8L963.9 779.6L965.3 844.6L966.7 1014L968 1149.5L969.4 1221.2L970.8 1271.4L972.2 1295.1L973.6 1313.5L975 1325.2L976.4 1328.9L977.8 1344.9L979.2 1345.3L980.6 1346.9L982 1345.9L983.3 1355.4L984.7 1359.5L986.1 1359.7L987.5 1358.6L988.9 1358L990.3 1352.8L991.7 1352.4L993.1 1355.9L994.5 1358.1L995.9 1356L997.2 1359.1L998.6 1363.3L1000 1365.4L1001.4 1358.2L1002.8 1364.3L1004.2 1369.3L1005.6 1362.3L1007 1369.8L1008.4 1366.9L1009.8 1363.8L1011.1 1367.4L1012.5 1370.5L1013.9 1372.8L1015.3 1373.6L1016.7 1375.5L1018.1 1370.2L1019.5 1367.1L1020.9 1374.1L1022.3 1366.9L1023.7 1364.5L1025 1372.7L1026.4 1364.9L1027.8 1366.1L1029.2 1370.5L1030.6 1373.8L1032 1368.3L1033.4 1368.2L1034.8 1370.8L1036.2 1375L1037.5 1357.3L1038.9 1367.9L1040.3 1349.7L1041.7 1345.5L1043.1 1319.6L1044.5 1313.6L1044.9 1311.3L1045.9 1310.5L1047.3 1324.3L1048.7 1347.6L1050.1 1351.5L1051.5 1358.5L1052.8 1368.6L1054.2 1366.3L1055.6 1372L1057 1368.1L1058.4 1372.5L1059.8 1365.5L1061.2 1358.1L1062.6 1360.2L1064 1354.1L1064.8 1347.9L1065.4 1344.9L1066.7 1361.4L1068.1 1363.1L1069.5 1373.7L1070.9 1373.2L1072.3 1361.2L1073.7 1372L1075.1 1374.1L1076.5 1373.4L1077.9 1364.4L1079.2 1370.3L1080.6 1366.9L1082 1362.8L1083.4 1361.4L1084.8 1353L1086.2 1341.2L1087.6 1337.2L1089 1316.5L1090.4 1284.6L1091.8 1246.9L1093.2 1181.2L1094.5 1086.5L1095.9 1053.9L1096.3 1050.3L1097.3 1060.6L1098.7 1126.2L1100.1 1208.7L1101.5 1273.7L1102.9 1296.2L1104.3 1306.1L1105.7 1328.5L1107 1326.7L1108.4 1336L1109.8 1341.2L1111.2 1341.5L1112.6 1326.3L1114 1316.9L1115.4 1292.2L1116.8 1288.1L1118.2 1239.7L1119.6 1184.5L1121 1080.3L1122.3 934.9L1123.7 736.9L1125.1 674.1L1125.5 667.6L1126.5 673.5L1127.9 832.5L1129.3 1020.5L1130.7 1143L1132.1 1219.8L1133.5 1271.3L1134.9 1307L1136.2 1319.7L1137.6 1340.3L1139 1344L1140.4 1336.7L1141.8 1344.8L1143.2 1357.8L1144.6 1357.7L1146 1356.1L1147.4 1366.2L1148.8 1376.3L1150.1 1375.5L1151.5 1362.6L1152.9 1363.3L1154.3 1366.1L1155.7 1371.1L1157.1 1370.6L1158.5 1369.2L1159.9 1371.6L1161.3 1370L1162.7 1370.3L1164 1376.3L1165.4 1363.9L1166.8 1368.7L1168.2 1366L1169.6 1371.3L1171 1371L1172.4 1375.1L1173.8 1377.3L1175.2 1371.1L1176.5 1355L1177.9 1361.3L1179.3 1358.1L1180.7 1359.6L1182.1 1360L1183.5 1363.3L1184.9 1356.3L1186.3 1358.3L1187.7 1348.7L1189.1 1348.6L1190.5 1334L1191.8 1309L1193.2 1270.7L1194.6 1242.7L1196 1232.5L1197.4 1238.4L1198.8 1270.7L1200.2 1306.3L1201.6 1327.9L1203 1342.5L1204.4 1355.4L1205.7 1351.9L1207.1 1357.1L1208.5 1355.9L1209.9 1352.2L1211.3 1356.8L1212.7 1361.6L1214.1 1366L1215.5 1367.9L1216.9 1369.4L1218.2 1362.4L1219.6 1357.2L1221 1361.2L1222.4 1363.8L1223.8 1351.1L1225.2 1351.4L1226.6 1344L1228 1324.7L1229.4 1309.8L1230.8 1298.8L1231.2 1309.3L1232.2 1303.6L1233.5 1316.1L1234.9 1333.3L1236.3 1344.6L1237.7 1359.7L1239.1 1357.4L1240.5 1365.1L1241.9 1363.5L1243.3 1369.2L1244.7 1362.4L1246 1364.4L1247.4 1367.4L1248.8 1368.1L1250.2 1370.4L1251.6 1361.2L1253 1361.4L1254.4 1363.6L1255.8 1364.6L1257.2 1366.1L1258.6 1367.8L1260 1372.6L1261.3 1375.8L1262.7 1377.7L1264.1 1373.7L1265.5 1361.2L1266.9 1364.6L1268.3 1360.3L1269.7 1358.1L1271.1 1363.6L1272.5 1365.5L1273.9 1365L1275.2 1358.7L1276.6 1362.8L1278 1354.9L1279.4 1346.3L1280.8 1347.2L1282.2 1339.7L1283.6 1327.5L1285 1312.7L1286.4 1304.3L1287.4 1295.7L1287.5 1295.5L1287.8 1304.9L1289.1 1302.4L1290.5 1313.1L1291.9 1328.9L1293.3 1339.4L1294.7 1351.1L1296.1 1354.5L1297.5 1351.1L1298.9 1343L1300.3 1341.4L1301.7 1317.9L1303 1308.2L1304.4 1280.8L1305.8 1264.4L1306.2 1274.7L1307.2 1266.9L1308.6 1286.6L1310 1313.3L1311.4 1335L1312.8 1348.1L1314.2 1360.3L1315.5 1361.7L1316.9 1366.9L1318.3 1373.9L1319.7 1374.7L1321.1 1367.2L1322.5 1371.9L1323.9 1374.7L1325.3 1373.2L1326.7 1379.7L1328.1 1368.6L1329.5 1365.6L1330.8 1364L1332.2 1375.1L1333.6 1371.4L1335 1376.3L1336.4 1376L1337.8 1375.3L1339.2 1371.8L1340.6 1373.7L1342 1370.6L1343.4 1372.8L1344.7 1369.4L1346.1 1356.8L1347.5 1357.1L1348.9 1342L1350.3 1318.7L1351.7 1306.4L1353.1 1303L1353.1 1305.8L1354.5 1309.3L1355.9 1317.8L1357.2 1338.1L1358.6 1350.8L1360 1357.7L1361.4 1368.7L1362.8 1367L1364.2 1381.8L1365.6 1364.4L1367 1367.1L1368.4 1377.8L1369.8 1371.1L1371.2 1371.8L1372.5 1379.4L1373.9 1376.8L1375.3 1379L1376.7 1378.6L1378.1 1376.6L1379.5 1370.6L1380.9 1372.7L1382.3 1370.5L1383.7 1370.4L1385 1371.5L1386.4 1357.1L1387.8 1339.6L1389.2 1333L1390.6 1340L1392 1334.9L1393.4 1349.6L1394.8 1352.8L1396.2 1370.2L1397.6 1360.8L1399 1373.4L1400.3 1366.5L1401.7 1364.5L1403.1 1369.4L1404.5 1363L1405.9 1368.8L1407.3 1361L1408.7 1369L1410.1 1367.2L1411.5 1365.9L1412.8 1359.5L1414.2 1371.6L1415.6 1371.8L1417 1363L1418.4 1366.7L1419.8 1369.2L1421.2 1368.5L1422.6 1365.3L1424 1371.5L1425.4 1370L1426.8 1362.6L1428.1 1359.4L1429.5 1361.3L1430.9 1357.3L1432.3 1349.8L1433.7 1356.2L1435.1 1347.1L1436.5 1326.7L1437.9 1315.2L1439.3 1293L1440.7 1268L1442 1224.2L1443.4 1188.3L1444.5 1193.2L1444.8 1191L1446.2 1195.8L1447.6 1233.9L1449 1262.5L1450.4 1268.9L1451.8 1243.9L1453.2 1173.3L1454.5 1017.4L1455.9 770L1457.3 424L1458.7 -19.1L1460.1 -200L1461.5 -200L1462.9 -200L1463.2 -200L1464.3 -200L1465.7 -200L1467.1 -200L1468.5 209.5L1469.8 624.6L1471.2 921.6L1472.6 1123.3L1474 1241.9L1475.4 1305.6L1476.8 1345.4L1478.2 1353L1479.6 1357.4L1481 1369.3L1482.3 1358L1483.7 1361.2L1485.1 1357.9L1486.5 1358.1L1487.9 1359.2L1489.3 1356.4L1490.7 1354.5L1492.1 1348.6L1493.5 1345.8L1494.9 1343.2L1496.2 1324.5L1497.6 1326.6L1498.4 1333.9L1499 1325.9L1500.4 1329.5L1501.8 1332.6L1503.2 1333.8L1504.6 1339.7L1506 1341.9L1507.4 1329.7L1508.8 1326.1L1510.2 1311.8L1511.5 1299.3L1512.4 1303L1512.9 1303L1514.3 1300.6L1515.7 1319.6L1517.1 1330.3L1518.5 1343.1L1519.9 1348.9L1521.3 1352.6L1522.7 1347.4L1524 1344.7L1525.4 1344.3L1526.8 1343.2L1528.2 1321.3L1529.6 1309.2L1531 1292.4L1532.4 1278.7L1533.5 1269.4L1533.8 1272.9L1535.2 1282L1536.6 1299.7L1537.9 1326.1L1539.3 1331L1540.7 1346.8L1542.1 1357.5L1543.5 1364.5L1544.9 1354.8L1546.3 1365.7L1547.7 1366.4L1549.1 1365.1L1550.5 1370.3L1551.8 1372.5L1553.2 1371.6L1554.6 1368.6L1556 1369.6L1557.4 1371.9L1558.8 1368.6L1560.2 1361.6L1561.6 1363.5L1563 1367.3L1564.4 1360.7L1565.8 1356.5L1567.1 1349.6L1568.5 1334.8L1569.9 1330.4L1571.3 1307.6L1572.7 1298.8L1573.4 1298.2L1574.1 1299.9L1575.5 1313L1576.9 1328.4L1578.3 1346.3L1579.7 1349.4L1581 1353.4L1582.4 1352.5L1583.8 1351.5L1585.2 1349.2L1586.6 1342L1588 1332.5L1589.4 1317.3L1590.8 1295.6L1592.1 1292.8L1592.2 1295.5L1593.5 1304.3L1594.9 1319.6L1596.3 1326.2L1597.7 1343.8L1599.1 1356.7L1600.5 1357.8L1601.9 1364.4L1603.3 1373.6L1604.7 1368.8L1606.1 1372.2L1607.4 1371.1L1608.8 1378.8L1610.2 1372.2L1611.6 1371.9L1613 1373L1614.4 1373.8L1615.8 1374.9L1617.2 1376.5L1618.6 1374.4L1620 1369.3L1621.3 1369L1622.7 1372.6L1624.1 1372.4L1625.5 1370L1626.9 1364.5L1628.3 1355.6L1629.7 1353.2L1631.1 1333.2L1632.5 1311.9L1633.9 1309.6L1634.3 1315L1635.2 1317.9L1636.6 1321.2L1638 1334.3L1639.4 1341.9L1640.8 1349L1642.2 1347L1643.6 1333.6L1645 1323.9L1646.4 1302.4L1647.8 1303L1648.4 1305L1649.2 1295.7L1650.5 1311.2L1651.9 1326.1L1653.3 1328.8L1654.7 1332L1656.1 1318.3L1657.5 1311L1658.9 1297.4L1660.1 1296.9L1660.3 1295.2L1661.7 1302L1663 1323.9L1664.4 1339.1L1665.8 1344.2L1667.2 1348.6L1668.6 1349.5L1670 1355.7L1671.4 1350.3L1672.8 1332.9L1674.2 1323.7L1675.6 1314L1676.5 1313.6L1676.9 1316L1678.3 1320.3L1679.7 1330.2L1681.1 1355.7L1682.5 1361.7L1683.9 1372L1685.3 1374L1686.7 1378.7L1688.1 1375L1689.5 1381.2L1690.8 1376.2L1692.2 1380.3L1693.6 1391.4L1695 1383.6L1696.4 1387L1697.8 1386.9L1699.2 1384L1700.6 1382.5L1702 1396.1L1703.4 1393.6L1704.8 1391L1706.1 1385.1L1707.5 1389L1708.9 1383.1L1710.3 1396.4L1711.7 1391.2L1713.1 1385.5L1714.5 1385.4L1715.9 1392.8L1717.3 1388.1L1718.7 1377.9L1720 1375.3L1721.4 1370.5L1722.8 1363.9L1724.2 1343.3L1725.6 1348.5L1725.7 1355.3L1727 1355.5L1728.4 1359.5L1729.8 1365.2L1731.2 1365.3L1732.5 1368.9L1733.9 1373.3L1735.3 1374.6L1736.7 1363.9L1738.1 1356L1739.5 1349.7L1740.9 1332L1742.1 1305.2L1742.3 1300.1L1743.7 1288.6L1744.5 1291L1745.1 1293.3L1746.4 1294.6L1747.8 1322.5L1749.2 1345.4L1750.6 1360.6L1752 1366L1753.4 1379.8L1754.8 1372.8L1756.2 1386.2L1757.6 1385L1759 1388.8L1760.3 1380.5L1761.7 1389.8L1763.1 1390.4L1764.5 1382.6L1765.9 1380.4L1767.3 1386.6L1768.7 1379.4L1770.1 1381.8L1771.5 1393.1L1772.9 1382.3L1774.2 1378L1775.6 1380.2L1777 1380.5L1778.4 1374.5L1779.8 1373.1L1781.2 1362.9L1782.6 1350.1L1784 1340.8L1785.4 1329.9L1786.7 1321.4L1786.8 1328.8L1788.2 1325.4L1789.5 1346.2L1790.9 1356.8L1792.3 1359.9L1793.7 1362.7L1795.1 1366.3L1796.5 1369.7L1797.9 1374.1L1799.3 1372.9L1800.7 1371.8L1802 1376.2L1803.4 1385.9L1804.8 1384.3L1806.2 1373.5L1807.6 1380.6L1809 1380.2L1810.4 1381.9L1811.8 1377.6L1813.2 1380.6L1814.6 1374.8L1815.9 1376.4L1817.3 1381.1L1818.7 1370.4L1820.1 1362.7L1821.5 1362.6L1821.9 1360.8L1822.9 1358.1L1824.3 1364.8L1825.7 1372.7L1827.1 1371.5L1828.5 1376L1829.8 1378.4L1831.2 1375.1L1832.6 1361.5L1834 1366.9L1835.4 1371.8L1836.8 1369.8L1838.2 1363.6L1839.6 1353.1L1841 1341.7L1842.4 1327.6L1843.8 1328.2L1844.1 1330.4L1845.1 1323.2L1846.5 1333.5L1847.9 1345.2L1849.3 1353.8L1850.7 1361L1852.1 1360.6L1853.5 1366.9L1854.9 1364.3L1856.3 1353.2L1857.7 1350.8L1859 1343.3L1860.4 1337.4L1860.5 1330.3L1861.8 1340.8L1863.2 1348L1864.6 1364.6L1866 1366.7L1867.4 1359.2L1868.8 1369.3L1870.2 1372.1L1871.5 1378.3L1872.9 1372.5L1874.3 1374.3L1875.7 1373.8L1877.1 1375.1L1878.5 1381.5L1879.9 1383.7L1881.3 1382L1882.7 1382.3L1884.1 1381.3L1885.4 1385.2L1886.8 1391.3L1888.2 1378.8L1889.6 1381.9L1891 1388.6L1892.4 1375.3L1893.8 1387.3L1895.2 1389.6L1896.6 1388.2L1898 1378.6L1899.3 1384L1900.7 1386.9L1902.1 1385.9L1903.5 1380.5L1904.9 1385.8L1906.3 1380.3L1907.7 1379.5L1909.1 1376.8L1910.5 1370.6L1911.9 1369.8L1913.2 1362.3L1914.6 1357.1L1916 1352.4L1917.4 1340.7L1918.8 1335L1919.1 1326.7L1920.2 1339.3L1921.6 1339.6L1923 1355.8L1924.4 1359.4L1925.8 1364.3L1927.2 1373.2L1928.5 1372.8L1929.9 1373.8L1931.3 1370.9L1932.7 1371.9L1934.1 1370.5L1935.5 1373.4L1936.9 1373.3L1938.3 1369.2L1939.7 1363L1941 1352.1L1942.4 1340L1943.8 1341.4L1944.9 1333.4L1945.2 1336.2L1946.6 1342.7L1948 1350L1949.4 1361.2L1950.8 1368L1952.2 1369.5L1953.6 1371.8L1954.9 1377.5L1956.3 1374.2L1957.7 1374.1L1959.1 1374.6L1960.5 1376L1961.9 1377.3L1963.3 1387.9L1964.7 1381.3L1966.1 1390L1967.5 1378.1L1968.8 1384.4L1970.2 1383.1L1971.6 1384.1L1973 1377.6L1974.4 1382.4L1975.8 1378.5L1977.2 1377.9L1978.6 1370.6L1980 1371.7L1981.4 1362.8L1982.8 1359.8L1984.1 1357.8L1985.5 1349.4L1986.9 1345.8L1988.2 1346.4L1988.3 1343.9L1989.7 1351.8L1991.1 1349.2L1992.5 1353.7L1993.9 1361.8L1995.3 1357.1L1996.7 1351.7L1998 1356.2L1999.4 1341.8L2000.8 1345.4L2002.2 1338.8L2002.3 1340.6L2003.6 1336.7L2005 1346.5L2006.4 1350.2L2007.8 1349.6L2009.2 1348.3L2010.5 1350.2L2011.9 1345.7L2013.3 1348.7L2014.7 1338.3L2016.1 1321.6L2017.5 1300.2L2018.9 1273L2020.3 1255.6L2021 1259.4L2021.7 1257.7L2023.1 1269.8L2024.4 1299.8L2025.8 1326.6L2027.2 1336.7L2028.6 1348L2030 1349L2031.4 1356.4L2032.8 1360.5L2034.2 1368.9L2035.6 1370.2L2037 1363.9L2038.3 1356.5L2039.7 1361.6L2041.1 1349.9L2042.5 1343.9L2043.9 1328.4L2045.3 1300.7L2046.7 1271.9L2048.1 1254.4L2049.2 1250.8L2049.5 1246L2050.9 1262.6L2052.2 1282.2L2053.6 1313.2L2055 1343.5L2056.4 1346.9L2057.8 1353.9L2059.2 1370.5L2060.6 1373.4L2062 1377.1L2063.4 1375L2064.8 1375.7L2066.2 1371.5L2067.5 1374.2L2068.9 1376L2070.3 1374.8L2071.7 1365.1L2073.1 1363.1L2074.5 1352.7L2075.9 1333.7L2077.3 1309.9L2078.7 1284.3L2080.1 1252.7L2081.4 1230L2082 1244.3L2082.8 1237L2084.2 1256.1L2085.6 1277.3L2087 1311.8L2088.4 1330.7L2089.8 1339.4L2091.2 1346.3L2092.6 1337.9L2093.9 1331.1L2095.3 1319.2L2096.7 1305.9L2098.1 1309.6L2098.4 1309.1L2099.5 1307.2L2100.9 1325.2L2102.3 1340.5L2103.7 1356.9L2105.1 1363.9L2106.5 1371.8L2107.8 1375.4L2109.2 1376L2110.6 1377.4L2112 1368.6L2113.4 1363.8L2114.8 1354.3L2116.2 1352.8L2117.1 1356.3L2117.2 1353.5L2117.6 1355.7L2119 1359.3L2120.4 1366.5L2121.8 1380.2L2123.1 1370.4L2124.5 1377.7L2125.9 1376.9L2127.3 1384.8L2128.7 1383.8L2130.1 1388.4L2131.5 1393L2132.9 1382.1L2134.3 1384.2L2135.7 1380.2L2137 1383.3L2138.4 1379L2139.8 1391.8L2141.2 1374.9L2142.6 1379.1L2144 1372.5L2145.4 1373.7L2146.8 1365.3L2148.2 1342.8L2149.6 1346.2L2150.9 1334.3L2151.1 1334.9L2151.1 1334.6L2152.3 1340.4L2153.7 1341.7L2155.1 1355.7L2156.5 1362.8L2157.9 1369.6L2159.3 1369.5L2160.7 1377L2162.1 1377.2L2163.4 1373.8L2164.8 1371.7L2166.2 1375.6L2167.6 1362.9L2169 1364.7L2170.4 1365.2L2171 1372.3L2171.1 1367L2171.8 1365.2L2173.2 1366.1L2174.6 1372.4L2176 1379.1L2177.3 1381.9L2178.7 1388L2180.1 1388.7L2181.5 1382.3L2182.9 1385.7L2184.3 1381.4L2185.7 1384.9L2187.1 1384.3L2188.5 1394.7L2189.9 1391.7L2191.2 1398.6L2192.6 1393.7L2194 1392.4L2195.4 1383.5L2196.8 1386.3L2198.2 1386.7L2199.6 1374.4L2201 1368.5L2202.4 1371.3L2203.8 1374.6L2203.9 1369.3L2205.2 1382.2L2206.5 1377.2L2207.9 1385.3L2209.3 1377.4L2210.7 1383.8L2212.1 1385.9L2213.5 1383L2214.9 1386.9L2216.3 1388.8L2217.7 1387.7L2219.1 1379.4L2220.4 1374.7L2221.8 1381L2223.2 1356.6L2224.6 1355.9L2226 1356.9L2226.1 1358.4L2227.4 1358.7L2228.8 1363L2230.2 1370.8L2231.6 1379.1L2232.9 1388.9L2234.3 1387.5L2235.7 1388L2237.1 1395.1L2238.5 1394.6L2239.9 1395.4L2241.3 1395.2L2242.7 1394.9L2244.1 1391.5L2245.5 1391.8L2246.8 1395.3L2248.2 1383.1L2249.6 1374.2L2251 1379.7L2252.4 1372L2253.8 1377.6L2254.3 1373.8L2255.2 1373.3L2256.6 1372.6L2258 1382.8L2259.4 1383.1L2260.8 1389.6L2262.1 1389.2L2263.5 1397.7L2264.9 1400.1L2266.3 1398.3L2267.7 1398.4L2269.1 1397L2270.5 1399.8L2271.9 1397.3L2273.3 1398.2L2274.7 1397.4L2276 1396.2L2277.4 1391.6L2278.8 1383.8L2280.2 1384.1L2281.2 1387.4L2281.6 1383.1L2283 1385.2L2284.4 1393.9L2285.8 1394.3L2287.2 1399.3L2288.6 1401.8L2289.9 1391.9L2291.3 1399L2292.7 1399.8L2294.1 1391.6L2295.5 1400.8L2296.9 1398L2298.3 1392.1L2299.7 1393.4L2301.1 1393L2302.4 1391.2L2303.8 1400.9L2305.2 1400.5L2306.6 1389.9L2308 1387L2309.4 1381.9L2310.8 1379.5L2312.2 1377L2312.8 1375.8L2313.6 1383.2L2315 1378.1L2316.3 1373.9L2317.7 1388.3L2319.1 1387.6L2320.5 1383.8L2321.9 1395.4L2323.3 1395.3L2324.7 1402L2326.1 1397.1L2327.5 1396.6L2328.9 1387.3L2330.2 1379.9L2331.6 1379.7L2333 1373.9L2334.4 1377.2L2335.1 1366.2L2335.8 1372.2L2337.2 1374.9L2338.6 1372.6L2340 1386.8L2341.4 1390.2L2342.8 1394.1L2344.2 1401.1L2345.5 1389.1L2346.9 1396.2L2348.3 1399.8L2349.7 1399.7L2351.1 1393.6L2352.5 1389.8L2353.9 1393.9L2355.3 1398.9L2356.7 1400.2L2358.1 1394.3" stroke="#0000ff"/>
<path d="M446.8 958.5L448.2 975.2L449.6 983.6L451 992.6L452.4 1000.2L453.8 1013L455.1 1023.3L456.5 1027.5L457.9 1041.9L459.3 1041.3L460.7 1046.6L462.1 1047L463.5 1047.6L464.9 1056.1L466.3 1050.6L467.6 1063.5L469 1065.8L470.4 1064.5L471.8 1076.5L473.2 1073.9L474.6 1074L476 1077.6L477.4 1079.1L478.8 1079.1L480.2 1076.1L481.6 1073.5L482.9 1063.8L484.3 1063.3L485.7 1063.5L487.1 1057.4L488.5 1050.3L489.9 1045.4L491.3 1048.6L492.7 1042.3L494.1 1045.3L495.5 1038.2L496.8 1027.2L498.2 1024.4L499.6 1021.9L501 1020.1L502.4 1013.5L503.8 1008.3L505.2 1002.7L506.6 996.8L508 997.8L509.4 1007L510.7 1007.5L512.1 1010.2L513.5 1016.1L514.9 1014.9L516.3 1026.2L517.7 1028.9L519.1 1037.1L520.5 1045L521.9 1052.6L523.2 1061.8L524.6 1066.5L526 1071.6L527.4 1084.2L528.8 1086.5L530.2 1099.9L531.6 1103.1L533 1113.1L534.4 1115.3L535.8 1122.5L537.1 1129.4L538.5 1137.2L539.9 1152.1L541.3 1166.6L542.7 1168.1L544.1 1172.6L545.5 1173.9L546.9 1180.2L548.3 1191.3L549.7 1192.7L551 1200.5L552.4 1203L553.8 1199.4L555.2 1194L556.6 1160.8L558 1084.1L559.4 854.8L560.8 539.7L561.5 545.1L562.2 547.8L563.6 886L565 1129.5L566.3 1227.3L567.7 1271.1L569.1 1289.7L570.5 1295.5L571.9 1298.6L573.3 1302.9L574.7 1311.1L576.1 1311L577.5 1312L578.9 1312.3L580.2 1306L581.6 1314L583 1310.5L584.4 1315.4L585.8 1316.1L587.2 1313.6L588.6 1319.1L590 1316.6L591.4 1321.7L592.8 1321L594.1 1323L595.5 1324.1L596.9 1328.9L598.3 1326.8L599.7 1325.7L601.1 1329.2L602.5 1326.5L603.9 1327.7L605.3 1330.6L606.6 1332.8L608 1332.5L609.4 1336.1L610.8 1333.2L612.2 1333L613.6 1328.8L615 1333.8L616.4 1337.6L617.8 1335.5L619.2 1338.2L620.5 1334.6L621.9 1341.9L623.3 1342.1L624.7 1342.4L626.1 1344L627.5 1344.5L628.9 1338.1L630.3 1344.1L631.7 1339.9L633.1 1344.8L634.5 1344.7L635.8 1344.3L637.2 1341L638.6 1345L640 1345L641.4 1348L642.8 1346.8L644.2 1340.4L645.6 1349L647 1350.7L648.4 1345.4L649.7 1348.9L651.1 1351.1L652.5 1354L653.9 1348.1L655.3 1349.6L656.7 1350.6L658.1 1347.9L659.5 1346.7L660.9 1347.6L662.2 1344.3L663.6 1350.6L665 1346.4L666.4 1350.2L667.8 1347.9L669.2 1343.9L670.6 1347.7L672 1342.6L673.4 1344.2L674.8 1345.3L676.1 1350.3L677.5 1346.4L678.9 1344.8L680.3 1342.7L681.7 1343.8L683.1 1346.3L684.5 1341.2L685.9 1348.3L687.3 1346.5L688.7 1349.3L690 1343.6L691.4 1341.9L692.8 1342L694.2 1346.8L695.6 1342L697 1341.8L698.4 1341.7L699.8 1341.4L701.2 1342L702.6 1336.7L704 1342.1L705.3 1338.8L706.7 1340.1L708.1 1343.8L709.5 1339.3L710.9 1339.4L712.3 1341.3L713.7 1337.4L715.1 1338.6L716.5 1334.7L717.9 1337.1L719.2 1332.8L720.6 1335.3L722 1335.5L723.4 1333.4L724.8 1330.4L726.2 1336.7L727.6 1337.1L729 1337.8L730.4 1336.5L731.8 1341.4L733.1 1332.5L734.5 1331.9L735.9 1332.3L737.3 1335.5L738.7 1339.5L740.1 1337.7L741.5 1334.5L742.9 1335.2L744.3 1336.8L745.6 1333.2L747 1336.1L748.4 1335.8L749.8 1331.8L751.2 1334.1L752.6 1335L754 1334.3L755.4 1334.1L756.8 1331.1L758.2 1329.8L759.5 1329.9L760.9 1333.2L762.3 1333.4L763.7 1327.1L765.1 1330L766.5 1330.3L767.9 1327.2L769.3 1332.6L770.7 1326.1L772.1 1325.1L773.5 1327.3L774.8 1337L776.2 1328.9L777.6 1328.3L779 1329.8L780.4 1324.7L781.8 1332.5L783.2 1331.4L784.6 1327.7L786 1331.3L787.4 1329.7L788.7 1330.8L790.1 1330.8L791.5 1331.3L792.9 1329.4L794.3 1330.4L795.7 1327.2L797.1 1328.3L798.5 1334L799.9 1327.1L801.2 1330.8L802.6 1332.7L804 1324.3L805.4 1329.9L806.8 1329.9L808.2 1329.3L809.6 1333.6L811 1330.2L812.4 1330.1L813.8 1332.6L815.1 1330.7L816.5 1329.4L817.9 1330.3L819.3 1335.8L820.7 1331.2L822.1 1329L823.5 1325.4L824.9 1327L826.3 1327.5L827.7 1331.8L829 1327.5L830.4 1322.8L831.8 1328.5L833.2 1328.9L834.6 1326.4L836 1323.5L837.4 1322.8L838.8 1317.1L840.2 1315.1L841.6 1306.9L843 1297.7L844.3 1287L845.7 1275.8L847.1 1260.9L848 1263.1L848.5 1260.2L849.9 1265.4L851.3 1268.5L852.7 1274L854.1 1266.3L855.5 1257.2L856.9 1232.7L858.2 1181.6L859.6 1113.1L861 1086.7L861.4 1092.6L862.4 1099.5L863.8 1156.7L865.2 1221.9L866.6 1261.9L868 1280.6L869.4 1297.3L870.8 1303.9L872.1 1310.9L873.5 1317.9L874.9 1318.5L876.3 1318.1L877.7 1316.7L879.1 1310.3L880.5 1310.5L881.9 1309L883.3 1309.6L884.7 1298.2L886 1292.5L887.4 1284.7L888.8 1257.7L890.2 1224.6L891.6 1167.7L893 1071.7L894.4 929.9L895.8 836L896.5 837.9L897.2 835.9L898.5 926.8L899.9 1070.4L901.3 1169.5L902.7 1218.9L904.1 1255.4L905.5 1280.4L906.9 1285.9L908.3 1297.2L909.7 1302.3L911.1 1308.8L912.5 1311.1L913.8 1315L915.2 1313.7L916.6 1314.8L918 1315.8L919.4 1316.2L920.8 1320.3L922.2 1318.1L923.6 1316.9L925 1318.3L926.4 1313L927.7 1323.3L929.1 1317.2L930.5 1319.3L931.9 1318.6L933.3 1318.6L934.7 1318.5L936.1 1316.8L937.5 1317.2L938.9 1320.6L940.2 1315.5L941.6 1313.2L943 1314.9L944.4 1308.2L945.8 1307.2L947.2 1303L948.6 1300.4L950 1297.7L951.4 1287.1L952.8 1281.4L954.2 1256.5L955.5 1236.6L956.9 1194L958.3 1118.2L959.7 998.1L961.1 836.5L962.5 773.4L962.8 776.2L963.9 785.1L965.3 918.5L966.7 1064.5L968 1161.8L969.4 1214L970.8 1254.8L972.2 1270.2L973.6 1283.1L975 1293.3L976.4 1295.1L977.8 1298.9L979.2 1309.7L980.6 1305.2L982 1312.6L983.3 1313L984.7 1314.2L986.1 1316.9L987.5 1315.1L988.9 1313L990.3 1318.5L991.7 1318.6L993.1 1317.8L994.5 1320.1L995.9 1320L997.2 1320.8L998.6 1321.1L1000 1320.7L1001.4 1324L1002.8 1321.3L1004.2 1323.2L1005.6 1321L1007 1317.3L1008.4 1318.5L1009.8 1321.1L1011.1 1319.4L1012.5 1321.2L1013.9 1323.4L1015.3 1319.6L1016.7 1317.8L1018.1 1319.4L1019.5 1321.1L1020.9 1323.3L1022.3 1320.6L1023.7 1317.2L1025 1319.2L1026.4 1319L1027.8 1322.8L1029.2 1327.8L1030.6 1318.7L1032 1318.3L1033.4 1315.3L1034.8 1314L1036.2 1313.3L1037.5 1313.9L1038.9 1312.4L1040.3 1303.9L1041.7 1293.5L1043.1 1280.7L1044.5 1272.7L1044.9 1269.2L1045.9 1274L1047.3 1283.7L1048.7 1295.2L1050.1 1307.1L1051.5 1310.2L1052.8 1315.1L1054.2 1320.1L1055.6 1316.4L1057 1316.4L1058.4 1316.7L1059.8 1318.4L1061.2 1320.3L1062.6 1314.6L1064 1322.9L1065.4 1317.5L1066.7 1318.7L1068.1 1320.8L1069.5 1314.6L1070.9 1312.6L1072.3 1316.7L1073.7 1316.2L1075.1 1313.8L1076.5 1313.6L1077.9 1306L1079.2 1311.3L1080.6 1308.3L1082 1302.1L1083.4 1300.3L1084.8 1294.7L1086.2 1286.4L1087.6 1274.8L1089 1254.6L1090.4 1232.1L1091.8 1180.3L1093.2 1110.9L1094.5 1032.4L1095.9 1012.8L1097.3 1027L1098.7 1103.1L1100.1 1175.2L1101.5 1224.2L1102.9 1251.2L1104.3 1262.2L1105.7 1271.5L1107 1271.2L1108.4 1265L1109.8 1267.4L1111.2 1258.3L1112.6 1239.8L1114 1216.9L1115.4 1181.3L1116.8 1116.1L1118.2 1011.4L1119.6 853.9L1121 720.7L1122 711.5L1122.3 716.8L1123.7 776L1125.1 937.6L1126.5 1075.6L1127.9 1156.9L1129.3 1208.8L1130.7 1241.1L1132.1 1260.8L1133.5 1267.7L1134.9 1286L1136.2 1294.8L1137.6 1302.5L1139 1301.2L1140.4 1302.4L1141.8 1308.5L1143.2 1310.4L1144.6 1312.4L1146 1311.9L1147.4 1312.8L1148.8 1310.7L1150.1 1312.1L1151.5 1313.8L1152.9 1311.2L1154.3 1318.4L1155.7 1319.2L1157.1 1320L1158.5 1318L1159.9 1317L1161.3 1313.1L1162.7 1318L1164 1316.6L1165.4 1314.4L1166.8 1317.1L1168.2 1317.1L1169.6 1323.5L1171 1315.3L1172.4 1313.5L1173.8 1312.1L1175.2 1309.2L1176.5 1310.7L1177.9 1307.9L1179.3 1307.5L1180.7 1307.4L1182.1 1305.2L1183.5 1302L1184.9 1299.3L1186.3 1299.5L1187.7 1290.3L1189.1 1274.6L1190.5 1252.2L1191.8 1219.8L1193.2 1207.5L1193.7 1208.1L1194.6 1206L1196 1225.2L1197.4 1254.4L1198.8 1274.6L1200.2 1287.7L1201.6 1304.9L1203 1299.5L1204.4 1306.4L1205.7 1313L1207.1 1312.7L1208.5 1311.8L1209.9 1310.9L1211.3 1303.5L1212.7 1303.8L1214.1 1293.2L1215.5 1287.9L1216.9 1294.9L1217.1 1291.8L1218.2 1289.1L1219.6 1295.9L1221 1303.2L1222.4 1307.1L1223.8 1309.7L1225.2 1310.1L1226.6 1305.6L1228 1303.4L1229.4 1297.5L1230.8 1286.1L1232.2 1260.7L1233.5 1247.8L1234.7 1254.1L1234.9 1247.7L1236.3 1257.8L1237.7 1273.9L1239.1 1292L1240.5 1298.7L1241.9 1310.2L1243.3 1307.6L1244.7 1315.1L1246 1313.3L1247.4 1318.3L1248.8 1319.7L1250.2 1322.9L1251.6 1317.2L1253 1318.9L1254.4 1320.9L1255.8 1320.7L1257.2 1319.3L1258.6 1318.6L1259.4 1318L1260 1321L1261.3 1320.2L1262.7 1319.2L1264.1 1321.8L1265.5 1322.3L1266.9 1318L1268.3 1317.9L1269.7 1321L1271.1 1321L1272.5 1319.9L1273.9 1318.7L1275.2 1314.6L1276.6 1308.5L1278 1303.7L1279.4 1292L1280.8 1273.5L1282.2 1260.6L1282.7 1254L1283.6 1248.1L1285 1254.9L1285.1 1259.1L1286.4 1268.9L1287.8 1284.5L1289.1 1291.6L1290.5 1295.1L1291.9 1297.9L1293.3 1290.7L1294.7 1275.8L1296.1 1255.9L1297.5 1230L1298.9 1224.7L1299.2 1224.5L1300.3 1225.6L1301.7 1243.3L1303 1273.5L1304.4 1290.3L1305.8 1305.3L1307.2 1309.9L1308.6 1317L1310 1323L1311.4 1326.4L1312.8 1322.1L1314.2 1328L1315.5 1327.4L1316.9 1330.6L1318.3 1326.2L1319.7 1329.3L1321.1 1324.7L1322.5 1331.8L1323.9 1327L1325.3 1321L1326.7 1323.4L1328.1 1325.9L1329.5 1331.4L1330.8 1324.6L1332.2 1322.8L1333.6 1327.4L1335 1326.1L1336.4 1326.6L1337.8 1323.5L1339.2 1315.6L1340.6 1306.9L1342 1296.4L1343.4 1283.1L1344.7 1281.3L1344.9 1282.1L1346.1 1280.1L1347.5 1295L1348.9 1302.6L1350.3 1307.3L1351.7 1309.7L1353.1 1315.1L1354.5 1307.1L1355.9 1307.6L1357.2 1295.3L1358.6 1273.8L1360 1266.7L1361.3 1260.4L1361.4 1255.8L1362.8 1259.9L1364.2 1277.9L1365.6 1296.1L1367 1306.5L1368.4 1318.9L1369.8 1315L1371.2 1322.1L1372.5 1324.2L1373.9 1320.6L1375.3 1321.4L1376.7 1321.4L1378.1 1319.2L1379.5 1318.4L1380.9 1318.2L1382.3 1312.4L1383.7 1299.4L1384.7 1300.2L1385 1302L1386.4 1298.6L1387.8 1310.1L1389.2 1317.5L1390.6 1320.3L1392 1328.8L1393.4 1329.1L1394.8 1326.6L1396.2 1328.1L1397.6 1326.6L1399 1325.5L1400.3 1329.8L1401.7 1327.9L1403.1 1326.2L1404.5 1329L1405.9 1327.4L1407.3 1325.7L1408.7 1330.9L1410.1 1327.1L1411.5 1321.4L1412.8 1326.8L1414.2 1329.5L1415.6 1327.3L1417 1325.6L1418.4 1320.4L1419.8 1320.6L1421.2 1320.8L1422.6 1323.1L1424 1317.2L1425.4 1310.7L1426.8 1318.1L1428.1 1309.8L1429.5 1303.9L1430.9 1295.9L1432.3 1286L1433.7 1270L1435.1 1247.8L1436.5 1216.9L1437.9 1177L1439.3 1160.9L1439.8 1160.6L1440.7 1162.3L1442 1182L1443.4 1230.4L1444.8 1251.5L1446.2 1277.1L1447.6 1283.3L1449 1291.9L1450.4 1286.4L1451.8 1292.1L1453.2 1288.4L1454.5 1263.9L1455.9 1191.3L1457.3 964.8L1458.7 450.7L1460.1 -200L1461.5 -200L1462.2 -200L1462.9 -200L1464.3 -200L1465.7 458.2L1467.1 968.7L1468.5 1200.1L1469.8 1270.8L1471.2 1292.5L1472.6 1300.4L1474 1306.9L1475.4 1311.9L1476.8 1307L1478.2 1305.1L1479.6 1310.7L1481 1312.6L1482.3 1307.4L1483.7 1313.1L1485.1 1312.9L1486.5 1303.3L1487.9 1300.6L1489.3 1294L1490.7 1291.6L1492.1 1282.8L1493.5 1281.9L1493.7 1279.8L1494.9 1282.2L1496.2 1288.6L1497.6 1295.3L1499 1300.6L1500.4 1305L1501.8 1301.7L1503.2 1301.1L1504.6 1299L1506 1297.8L1507.4 1290.3L1508.8 1281L1510.2 1275.2L1511.5 1257.8L1512.4 1259.7L1512.9 1261.6L1514.3 1259.5L1515.7 1279L1517.1 1289L1518.5 1296.7L1519.9 1303.8L1521.3 1303.2L1522.7 1295.7L1524 1295.4L1525.4 1299.3L1526.8 1290.5L1528.2 1284.5L1529.6 1267L1531 1253.8L1532.4 1238.1L1533.5 1233.9L1533.8 1234.8L1535.2 1237.3L1536.6 1255.8L1537.9 1275L1539.3 1289.1L1540.7 1294.8L1542.1 1300.2L1543.5 1304.7L1544.9 1297.7L1546.3 1301.4L1547.7 1296.3L1549.1 1290L1549.9 1288.4L1550.5 1290L1551.8 1294.8L1553.2 1294L1554.6 1307.6L1556 1304.9L1557.4 1314.3L1558.8 1312.9L1560.2 1312L1561.6 1312L1563 1313.2L1564.4 1310.7L1565.8 1310L1567.1 1309.5L1568.5 1298.1L1569.9 1293.9L1571.3 1283L1572.7 1270.5L1574.1 1250.2L1575.5 1242.9L1575.7 1244.9L1576.9 1246L1578.3 1257.5L1579.7 1275.5L1581 1283.8L1582.4 1291.8L1583.8 1288L1585.2 1284.3L1586.6 1276L1588 1259.8L1589.4 1244.1L1590.8 1244.6L1590.9 1244.6L1592.2 1245.9L1593.5 1265.2L1594.9 1282L1596.3 1294.6L1597.7 1299.6L1599.1 1306.3L1600.5 1309.2L1601.9 1310.2L1603.3 1315.4L1604.7 1319.1L1606.1 1318.4L1607.4 1318.1L1608.8 1317.3L1610.2 1320.5L1611.6 1318.9L1613 1322.8L1614.4 1322.2L1615.8 1322.6L1617.2 1317.2L1618.6 1317.9L1620 1310.5L1621.3 1302L1622.7 1294.7L1624.1 1280.9L1625.5 1259.5L1626.9 1255.3L1627.3 1254.3L1628.3 1256.5L1629.7 1265.7L1631.1 1284.2L1632.5 1300.7L1633.9 1303.6L1635.2 1308.4L1636.6 1314.2L1638 1314.1L1639.4 1310.4L1640.8 1312.6L1642.2 1301.5L1643.6 1297.1L1645 1278.9L1646.4 1263.7L1647.8 1262.8L1648.4 1262.9L1649.2 1262.4L1650.5 1271L1651.9 1288.8L1653.3 1297.9L1654.7 1308.5L1656.1 1317L1657.5 1317.7L1658.9 1323L1660.3 1321.9L1661.7 1318L1663 1320.1L1664.4 1315.2L1665.8 1311.7L1667.2 1302L1668.6 1285L1670 1270.7L1671.4 1274L1671.8 1265.5L1672.8 1266.9L1674.2 1282.4L1675.6 1294.4L1676.9 1310.5L1678.3 1316L1679.7 1326.8L1681.1 1322.6L1682.5 1331.9L1683.9 1333.4L1685.3 1330.9L1686.7 1330.9L1688.1 1335L1689.5 1333.2L1690.8 1332.5L1692.2 1335.6L1693.6 1333.1L1695 1334L1696.4 1337.8L1697.8 1338.7L1699.2 1337.7L1700.6 1336.4L1702 1332.5L1703.4 1332.9L1704.8 1342.4L1706.1 1333.2L1707.5 1343.7L1708.9 1341.9L1710.3 1340.2L1711.7 1332.9L1713.1 1339.3L1714.5 1335.5L1715.9 1335.9L1717.3 1336.4L1718.7 1333.2L1720 1336.1L1721.4 1334.1L1722.8 1335.1L1724.2 1325.5L1725.6 1335.9L1727 1329.3L1728.4 1329.4L1729.8 1319.7L1731.2 1315L1732.5 1308.8L1733.9 1294L1735.3 1280.1L1736.7 1251.3L1738.1 1220.2L1739.5 1218L1739.7 1212.7L1740.9 1213.5L1742.3 1234.3L1743.7 1264.3L1745.1 1288.5L1746.4 1309.4L1747.8 1315.4L1749.2 1327.6L1750.6 1330.4L1752 1329.7L1753.4 1330.5L1754.8 1336.6L1756.2 1332.1L1757.6 1336.1L1759 1339.7L1760.3 1336.6L1761.7 1335.7L1763.1 1337L1764.5 1335.8L1765.9 1330.5L1767.3 1337.4L1768.7 1339.4L1770.1 1337.8L1771.5 1335.6L1772.9 1335.8L1774.2 1331.9L1775.6 1332.3L1777 1330.4L1778.4 1330.3L1779.8 1319.7L1781.2 1319L1782.6 1302.6L1784 1300.9L1785.4 1298.5L1785.5 1297.1L1786.8 1293.9L1788.2 1308.2L1789.5 1312.1L1790.9 1321.4L1792.3 1328.4L1793.7 1327.1L1795.1 1332.1L1796.5 1333.1L1797.9 1329.2L1799.3 1330.8L1800.7 1331.2L1802 1332L1803.4 1327L1804.8 1336.9L1806.2 1334.8L1807.6 1335.2L1809 1334.5L1810.4 1335.7L1811.8 1330.7L1813.2 1328.4L1814.6 1328.8L1815.9 1329.9L1817.3 1331.8L1818.7 1328.6L1820.1 1329.5L1821.5 1323.7L1822.9 1320.1L1824.3 1312.1L1825.7 1313.7L1826.5 1309.9L1827.1 1311.9L1828.5 1308.6L1829.8 1309.1L1831.2 1308.5L1832.6 1312L1834 1308.1L1834.7 1310.4L1835.4 1306.3L1836.8 1309.4L1838.2 1312.3L1839.6 1317.9L1841 1315.4L1842.4 1312.8L1843.8 1311L1845.1 1305.9L1846.5 1297.4L1847.9 1289.4L1849.3 1282.1L1850 1287.8L1850.7 1285.8L1852.1 1293.8L1853.5 1301.8L1854.9 1309.7L1856.3 1316.7L1857.7 1322.8L1859 1327.4L1860.4 1326.7L1861.8 1332.4L1863.2 1330.2L1864.6 1328.4L1866 1330.2L1867.4 1329.1L1868.8 1325.6L1870.2 1326.9L1871.5 1324.7L1872.9 1325.4L1873.4 1318.4L1874.3 1323.9L1875.7 1325.6L1877.1 1325L1878.5 1328.3L1879.9 1333.2L1881.3 1336L1882.7 1334L1884.1 1333.6L1885.4 1332.5L1886.8 1334.8L1888.2 1338.2L1889.6 1340.1L1891 1337.8L1892.4 1334.5L1893.8 1335.3L1895.2 1336.6L1896.6 1337.8L1898 1337.6L1899.3 1336.6L1900.7 1338.1L1902.1 1342.9L1903.5 1340.7L1904.9 1336.7L1906.3 1341L1907.7 1335.8L1909.1 1337.3L1910.5 1337.8L1911.9 1329.4L1913.2 1331.3L1914.6 1323.1L1916 1319.6L1917.4 1309.7L1918.8 1295.6L1920.2 1285.9L1921.6 1278.7L1922.6 1277.4L1923 1281L1924.4 1279.4L1925.8 1289L1927.2 1298.3L1928.5 1315.8L1929.9 1321.2L1931.3 1325.3L1932.7 1328.2L1934.1 1332.2L1935.5 1330.6L1936.9 1327.7L1938.3 1330.9L1939.7 1324L1941 1332.4L1942.4 1328.8L1943.8 1324.9L1945.2 1322.6L1946.6 1318.7L1948 1305.1L1949.4 1295.4L1950.8 1290.6L1951.9 1292.2L1952.2 1295.4L1953.6 1300.4L1954.9 1305.2L1956.3 1313.5L1957.7 1321.4L1959.1 1327.6L1960.5 1331.4L1961.9 1333.7L1963.3 1332.4L1964.7 1342L1966.1 1340.7L1967.5 1338.7L1968.8 1337.5L1970.2 1338.7L1971.6 1336.5L1973 1337.9L1974.4 1339.5L1975.8 1340.7L1977.2 1338.1L1978.6 1328.9L1980 1317.6L1981.4 1308L1982.8 1305.8L1984.1 1297.3L1984.7 1299.5L1985.5 1297.6L1986.9 1306.5L1988.3 1306.8L1989.7 1323.4L1991.1 1328.4L1992.5 1326.7L1993.9 1328.5L1995.3 1335.8L1996.7 1340.6L1998 1331.6L1999.4 1330.4L2000.8 1328.1L2002.2 1323.6L2003.6 1319.3L2005 1305.8L2006.4 1292.2L2007.8 1265.1L2009.2 1238.5L2010.5 1213.8L2011.7 1214.9L2011.9 1214.7L2013.3 1223.5L2014.7 1244.5L2016.1 1272.2L2017.5 1293.4L2018.9 1309.1L2020.3 1312.5L2021.7 1318.3L2023.1 1316.8L2024.4 1318.9L2025.8 1321.7L2027.2 1324.1L2028.6 1313.5L2030 1303.3L2031.4 1296.3L2032.8 1280.9L2034.2 1256L2035.6 1236.1L2037 1223.5L2037.4 1228.2L2038.3 1229.5L2039.7 1241.7L2041.1 1262.1L2042.5 1286.7L2043.9 1303.1L2045.3 1306.7L2046.7 1315.2L2048.1 1316.7L2049.5 1315.6L2050.9 1321.9L2052.2 1323.6L2053.6 1323.9L2055 1325.4L2056.4 1322.8L2057.8 1321.8L2059.2 1315.1L2060.6 1309.9L2062 1300.3L2063.4 1285.2L2064.8 1269.2L2066.2 1248.4L2067.5 1247.2L2067.9 1237L2068.9 1240.2L2070.3 1249.4L2071.7 1262.1L2073.1 1270.1L2074.5 1271.2L2075.9 1269.6L2077.3 1257.7L2078.7 1249.6L2079.6 1252.1L2080.1 1251.6L2081.4 1258.4L2082.8 1268.1L2084.2 1283.6L2085.6 1296.5L2087 1304.3L2088.4 1299.9L2089.8 1292L2091.2 1289.4L2092.6 1273.5L2093.9 1259.3L2095.3 1251.8L2096 1254L2096.7 1254L2098.1 1264.5L2099.5 1281.7L2100.9 1295.7L2102.3 1306.2L2103.7 1314.3L2105.1 1318.1L2106.5 1325L2107.8 1322.4L2109.2 1327.8L2110.6 1330.1L2112 1328.2L2113.4 1332.6L2114.8 1333.3L2116.2 1331.9L2117.6 1331.2L2119 1331.5L2120.4 1334.5L2121.8 1329.3L2123.1 1339.8L2124.5 1336.8L2125.9 1332.8L2127.3 1335.2L2128.7 1334.8L2130.1 1337.1L2131.5 1331.7L2132.9 1336.1L2134.3 1333.7L2135.7 1332.4L2137 1333.6L2138.4 1326.2L2139.8 1322.6L2140.6 1320L2141.2 1324.1L2142.6 1320.4L2142.9 1321.8L2144 1322.8L2145.4 1318.1L2146.8 1325.4L2148.2 1328.9L2149.6 1331.2L2150.9 1331.5L2152.3 1325.8L2153.7 1325L2155.1 1317.4L2156.5 1307.6L2157.9 1306L2158.1 1302.6L2159.3 1309.6L2159.3 1307.1L2160.7 1303.5L2162.1 1317L2163.4 1321.3L2164.8 1323.6L2166.2 1334.2L2167.6 1337.5L2169 1336.9L2170.4 1339.8L2171.8 1337.4L2173.2 1345.3L2174.6 1334.6L2176 1339.2L2177.3 1344.2L2178.7 1340.3L2180.1 1342L2181.5 1342L2182.9 1337.4L2184.3 1342.3L2185.7 1344.4L2187.1 1344.2L2188.5 1347.4L2189.9 1345.9L2191.2 1341.4L2192.6 1338.5L2194 1344.2L2195.4 1341.2L2196.8 1337.5L2198.2 1342.9L2199.6 1343.6L2201 1338.9L2202.4 1344.5L2203.8 1345L2205.2 1347.3L2206.5 1344.2L2207.9 1339L2209.3 1344.7L2210.7 1340.3L2212.1 1332.7L2213.5 1329.2L2214.9 1320.2L2216.3 1319L2217.7 1307.2L2219.1 1306.9L2219.1 1308.6L2220.4 1308.6L2221.8 1318.2L2223.2 1326.1L2224.6 1332.6L2226 1341.8L2227.4 1340.2L2228.8 1345.4L2230.2 1338.3L2231.6 1342.4L2232.9 1334.7L2234.3 1344.5L2235.7 1351.6L2237.1 1345.3L2238.5 1347.7L2239.9 1341.7L2241.3 1339.1L2242.7 1348.5L2244.1 1341.6L2245.5 1343.7L2246.8 1341.1L2248.2 1333.8L2249.6 1333.2L2250.7 1333.8L2251 1337.4L2252.4 1337.7L2253.8 1339L2255.2 1339.7L2256.6 1342.8L2258 1349.1L2259.4 1349.5L2260.8 1346.6L2262.1 1343.3L2263.5 1346.9L2264.9 1349.3L2266.3 1347.3L2267.7 1350.3L2269.1 1347.5L2270.5 1343.7L2271.9 1350.9L2273.3 1348.6L2274.7 1348.5L2276 1348L2277.4 1347.6L2278.8 1346.9L2280.2 1347.7L2281.6 1345.5L2283 1352L2284.4 1351.5L2285.8 1350.6L2287.2 1348.6L2288.6 1346.9L2289.9 1346.9L2291.3 1354.1L2292.7 1348.7L2294.1 1346.6L2295.5 1350.4L2296.9 1352L2298.3 1346.4L2299.7 1352.5L2301.1 1349.6L2302.4 1347.4L2303.8 1348.6L2305.2 1349.4L2306.6 1349.9L2308 1344.6L2309.4 1347.6L2310.8 1346.5L2312.2 1345.6L2313.6 1343.2L2315 1337.4L2316.3 1333.2L2317.7 1337.3L2318.7 1334.2L2319.1 1330.9L2320.5 1330.4L2321.9 1331.7L2323.3 1338.2L2324.7 1343.7L2326.1 1345.1L2327.5 1348.5L2328.9 1345.6L2330.2 1344.1L2331.6 1344.9L2333 1337.5L2334.4 1332.6L2335.8 1329.6L2337.2 1328.2L2337.4 1327.3L2338.6 1336L2340 1335.8L2341.4 1336.1L2342.8 1341.5L2344.2 1345.9L2345.5 1349.1L2346.9 1351.7L2348.3 1350.8L2349.7 1348.1L2351.1 1347.6L2352.5 1357.6L2353.9 1354.8L2355.3 1356.1L2356.7 1356.6L2358.1 1350.9" stroke="#ff00ff"/>
<path d="M446.8 931.1L448.2 931.2L449.6 935.2L451 940.8L452.4 943.9L453.8 951.6L455.1 963.6L456.5 969L457.9 974.3L459.3 977.9L460.7 981.9L462.1 990.3L463.5 991.4L464.9 997.3L466.3 1005.9L467.6 1010.3L469 1012.5L470.4 1014.9L471.8 1020.7L473.2 1024.9L474.6 1030.9L476 1033L477.4 1034.6L478.8 1040L480.2 1051.5L481.6 1051.6L482.9 1043.7L484.3 1042.4L485.7 1030.9L487.1 1031L488.5 1029.9L489.9 1019.1L491.3 1018.9L492.7 1014.9L494.1 1003.9L495.5 999.8L496.8 1000L498.2 996.7L499.6 990.6L501 986.3L502.4 981.7L503.8 987.5L505.2 978L506.6 975.3L508 973L509.4 968L510.7 964.2L512.1 973.3L513.5 976.5L514.9 976.9L516.3 980.5L517.7 982.9L519.1 984.6L520.5 984.6L521.9 999.3L523.2 1006.1L524.6 1013.4L526 1025.2L527.4 1033.4L528.8 1038.7L530.2 1045.5L531.6 1056.2L533 1060.6L534.4 1069L535.8 1077.6L537.1 1084.3L538.5 1097.8L539.9 1100.1L541.3 1110.8L542.7 1117.1L544.1 1124.7L545.5 1133.6L546.9 1136.7L548.3 1137.9L549.7 1145.7L551 1149.8L552.4 1158.9L553.8 1155L555.2 1131.7L556.6 1058.6L558 835.8L559.4 520L560.1 523.6L560.8 525.7L562.2 851.9L563.6 1088.4L565 1179.5L566.3 1217.1L567.7 1239.6L569.1 1245.4L570.5 1251.7L571.9 1252.6L573.3 1261L574.7 1258.1L576.1 1265.7L577.5 1261.1L578.9 1263.8L580.2 1263.9L581.6 1273L583 1266.3L584.4 1272.4L585.8 1274.3L587.2 1279.3L588.6 1279.3L590 1276.2L591.4 1277L592.8 1281.7L594.1 1283.7L595.5 1279.7L596.9 1285.9L598.3 1285.6L599.7 1289.3L601.1 1285.5L602.5 1292.4L603.9 1290.5L605.3 1289.8L606.6 1290.5L608 1296.5L609.4 1295.9L610.8 1300.9L612.2 1294.6L613.6 1298.7L615 1300L616.4 1301.9L617.8 1297.8L619.2 1302.7L620.5 1305.6L621.9 1300.8L623.3 1301.8L624.7 1303.3L626.1 1305.4L627.5 1303L628.9 1300.5L630.3 1300.9L631.7 1301.2L633.1 1300.6L634.5 1306.9L635.8 1302.1L637.2 1303.7L638.6 1305.7L640 1301.3L641.4 1302.2L642.8 1306.3L644.2 1306.7L645.6 1302.5L647 1305.6L648.4 1311L649.7 1308.1L651.1 1304.5L652.5 1306.8L653.9 1303.8L655.3 1307.7L656.7 1304.5L658.1 1304.8L659.5 1303.4L660.9 1303.7L662.2 1303.7L663.6 1307.4L665 1302.2L666.4 1305.9L667.8 1305.9L669.2 1298L670.6 1303.7L672 1299.2L673.4 1308L674.8 1301.7L676.1 1302.1L677.5 1303.7L678.9 1298.8L680.3 1303.9L681.7 1301.3L683.1 1302.9L684.5 1298.7L685.9 1302.4L687.3 1298.5L688.7 1298.2L690 1302.9L691.4 1291.1L692.8 1298.6L694.2 1298.1L695.6 1296.7L697 1298.9L698.4 1298.6L699.8 1302.1L701.2 1297.9L702.6 1297.2L704 1296.2L705.3 1297.6L706.7 1297.6L708.1 1297.5L709.5 1296L710.9 1295.1L712.3 1295.9L713.7 1294.6L715.1 1300.7L716.5 1297.9L717.9 1295.2L719.2 1297.7L720.6 1300.2L722 1298.4L723.4 1297.1L724.8 1295.4L726.2 1291.2L727.6 1293L729 1297.4L730.4 1295.1L731.8 1290L733.1 1297.1L734.5 1295.3L735.9 1298.2L737.3 1299.2L738.7 1296.7L740.1 1294.5L741.5 1290L742.9 1294L744.3 1288.6L745.6 1292.1L747 1292.6L748.4 1295.3L749.8 1298.2L751.2 1292.9L752.6 1294.9L754 1294.2L755.4 1296.3L756.8 1300.5L758.2 1295.3L759.5 1292.5L760.9 1293L762.3 1293.2L763.7 1294.2L765.1 1297.1L766.5 1295.9L767.9 1296.4L769.3 1294.5L770.7 1293.9L772.1 1294.1L773.5 1289.3L774.8 1295.6L776.2 1296.3L777.6 1290.4L779 1293.1L780.4 1291.4L781.8 1291.2L783.2 1288.7L784.6 1290.1L786 1290.7L787.4 1285.1L788.7 1287.5L790.1 1293.7L791.5 1292.2L792.9 1288L794.3 1290.3L795.7 1294.3L797.1 1291.5L798.5 1290.5L799.9 1291.9L801.2 1289.5L802.6 1292L804 1288.2L805.4 1286.5L806.8 1290.7L808.2 1292.1L809.6 1288.7L811 1289.9L812.4 1290L813.8 1292.6L815.1 1292L816.5 1292.8L817.9 1292.3L819.3 1290.5L820.7 1290.6L822.1 1283.9L823.5 1288.3L824.9 1288.6L826.3 1287.8L827.7 1286.7L829 1287.5L830.4 1290.7L831.8 1288.2L833.2 1286.1L834.6 1282L836 1278.8L837.4 1271.9L838.8 1268L840.2 1267.4L841.6 1262.8L843 1249.9L844.3 1236.6L845.7 1226.4L846.9 1222.6L847.1 1226.7L848.5 1221.4L849.9 1226.3L851.3 1239.3L852.7 1237.9L854.1 1224.5L855.5 1213.3L856.9 1180.2L858.2 1114.6L859.6 1055.8L861 1044.8L862.4 1063.8L863.8 1127.9L865.2 1184.6L866.6 1221.2L868 1234.8L869.4 1252.7L870.8 1254.5L872.1 1262.2L873.5 1268.1L874.9 1266.4L876.3 1263.3L877.7 1263.5L879.1 1268.5L880.5 1262.2L881.9 1262.1L883.3 1254.3L884.7 1247.2L886 1241.3L887.4 1225.5L888.8 1207.1L890.2 1164.3L891.6 1103.3L893 992.8L894.4 848.6L895.8 794.5L896.1 789.5L897.2 802.3L898.5 918L899.9 1054.6L901.3 1136.6L902.7 1184.4L904.1 1215.3L905.5 1230.9L906.9 1246.6L908.3 1258.9L909.7 1258.1L911.1 1266.2L912.5 1263.5L913.8 1268.3L915.2 1269.3L916.6 1273L918 1268.3L919.4 1272.4L920.8 1275.6L922.2 1278.4L923.6 1277.6L925 1272.3L926.4 1272.8L927.7 1272.9L929.1 1272.7L930.5 1271.3L931.9 1267.8L933.3 1270.5L934.7 1269.3L936.1 1264.3L937.5 1267L938.9 1265L940.2 1267.5L941.6 1263.6L943 1260.9L944.4 1255.6L945.8 1247.9L947.2 1241.4L948.6 1225.3L950 1203.8L951.4 1175.7L952.8 1121.8L954.2 1030.3L955.5 901L956.9 811.1L957.6 815.1L958.3 813.5L959.7 900.9L961.1 1029L962.5 1121.2L963.9 1176.7L965.3 1210.3L966.7 1226.5L968 1243.9L969.4 1246.7L970.8 1252.6L972.2 1257.2L973.6 1259.8L975 1266.3L976.4 1267.1L977.8 1267.7L979.2 1269.3L980.6 1273.6L982 1272.4L983.3 1273.4L984.7 1271.6L986.1 1272.6L987.5 1272.1L988.9 1274L990.3 1273.9L991.7 1278.2L993.1 1273.3L994.5 1273L995.9 1265.7L997.2 1273.3L998.6 1281.3L1000 1273.3L1001.4 1281.9L1002.8 1280.9L1004.2 1280.9L1005.6 1280.1L1007 1275.7L1008.4 1278.4L1009.8 1279.9L1011.1 1280.8L1012.5 1279.1L1013.9 1278L1015.3 1278.6L1016.7 1280.9L1018.1 1284.6L1019.5 1279L1020.9 1279L1022.3 1279.8L1023.7 1275.2L1025 1275.8L1026.4 1279.4L1027.8 1272.8L1029.2 1280.6L1030.6 1277.8L1032 1276.2L1033.4 1275.4L1034.8 1271.6L1036.2 1274L1037.5 1271.8L1038.9 1260.7L1040.3 1258.2L1041.7 1245.1L1043.1 1229.4L1044.5 1222.6L1044.9 1224L1045.9 1229.2L1047.3 1240.5L1048.7 1254L1050.1 1261.3L1051.5 1264L1052.8 1274.5L1054.2 1274.4L1055.6 1276.3L1057 1275.8L1058.4 1281L1059.8 1279.5L1061.2 1277.5L1062.6 1278.5L1064 1276.4L1065.4 1274.8L1066.7 1273.3L1068.1 1278.4L1069.5 1278.5L1070.9 1277.5L1072.3 1273L1073.7 1276.4L1075.1 1270.3L1076.5 1270.1L1077.9 1270.1L1079.2 1271.7L1080.6 1266.1L1082 1262.7L1083.4 1259.1L1084.8 1255.4L1086.2 1245.3L1087.6 1232.6L1089 1211.6L1090.4 1177L1091.8 1125.3L1093.2 1045.7L1094.5 970.5L1095.6 968.3L1095.9 964.3L1097.3 994.9L1098.7 1079.4L1100.1 1141.4L1101.5 1181.7L1102.9 1203.6L1104.3 1214.2L1105.7 1218.9L1107 1214.4L1108.4 1206.8L1109.8 1199L1111.2 1166.7L1112.6 1121L1114 1047.1L1115.4 921.3L1116.8 774.4L1118.2 719.3L1118.5 719.2L1119.6 727.2L1121 853.5L1122.3 997.9L1123.7 1096.3L1125.1 1158.2L1126.5 1192.6L1127.9 1213.9L1129.3 1233.5L1130.7 1238L1132.1 1249.6L1133.5 1256.1L1134.9 1257.1L1136.2 1263.6L1137.6 1261.1L1139 1263.5L1140.4 1266.4L1141.8 1270.4L1143.2 1271.7L1144.6 1271.3L1146 1271.5L1147.4 1277.1L1148.8 1280.1L1150.1 1275.5L1151.5 1274.3L1152.9 1273.5L1154.3 1272L1155.7 1275.7L1157.1 1276.8L1158.5 1277.9L1159.9 1273.9L1161.3 1275.1L1162.7 1272.1L1164 1272.7L1165.4 1272.6L1166.8 1274.5L1168.2 1273.4L1169.6 1275.4L1171 1272L1172.4 1270.9L1173.8 1270L1175.2 1269.9L1176.5 1269.6L1177.9 1269.3L1179.3 1267.5L1180.7 1264.2L1182.1 1261.1L1183.5 1246.6L1184.9 1234L1186.3 1222.6L1187.7 1187.5L1189.1 1166.4L1190.2 1167.1L1190.5 1168.3L1191.8 1176.5L1193.2 1205.7L1194.6 1229.4L1196 1244.6L1197.4 1253.1L1198.8 1263.6L1200.2 1263.8L1201.6 1266.7L1203 1266.8L1204.4 1268.2L1205.7 1266.3L1207.1 1263.4L1208.5 1262.9L1209.9 1254.3L1211.3 1251.1L1212.4 1253.5L1212.7 1250.4L1214.1 1257.6L1215.5 1261.1L1216.9 1266.2L1218.2 1268.5L1219.6 1262.8L1221 1269.3L1222.4 1270.8L1223.8 1266.3L1225.2 1262.6L1226.6 1260.3L1228 1249.8L1229.4 1233.6L1230.8 1218L1232.2 1203.6L1233.5 1204.5L1233.5 1197.7L1234.9 1202.7L1236.3 1225.4L1237.7 1243L1239.1 1252.1L1240.5 1259.4L1241.9 1264.6L1243.3 1270.1L1244.7 1273.5L1246 1274.5L1247.4 1276.4L1248.8 1275.2L1250.2 1273.1L1251.6 1277.6L1253 1278.6L1254.4 1276.5L1255.8 1274.1L1257.2 1278.3L1258.6 1275.2L1260 1276.5L1261.3 1276.1L1262.7 1269.1L1264.1 1271.7L1265.5 1273.6L1266.9 1272.5L1268.3 1272.2L1269.7 1270L1271.1 1267.2L1272.5 1269.8L1273.9 1263.4L1275.2 1260.4L1276.6 1249.8L1278 1241.7L1279.4 1231.4L1280.4 1223.6L1280.8 1222.2L1282.2 1221.6L1282.8 1223.1L1283.6 1229.3L1285 1233.2L1286.4 1240.7L1287.8 1249.7L1289.1 1247.7L1290.5 1244.7L1291.9 1232.8L1293.3 1219.2L1294.7 1198L1296.1 1182.9L1296.9 1184.8L1297.5 1183.9L1298.9 1195.2L1300.3 1223.2L1301.7 1239.3L1303 1254.4L1304.4 1260.5L1305.8 1269.1L1307.2 1272.6L1308.6 1270.9L1310 1275L1311.4 1274.6L1312.8 1273.4L1314.2 1277.2L1315.5 1282.1L1316.9 1276.9L1318.3 1283.1L1319.7 1285.6L1321.1 1275.3L1322.5 1282.1L1323.9 1278L1325.3 1280.7L1326.7 1276.7L1328.1 1278.3L1329.5 1272L1330.8 1277.4L1332.2 1270.7L1333.6 1270L1335 1263.6L1336.4 1257.3L1337.8 1247L1339.2 1242.4L1340.2 1237.6L1340.6 1243.4L1342 1244.1L1343.4 1254.1L1344.7 1263.3L1346.1 1265.3L1347.5 1266.5L1348.9 1269.7L1350.3 1273.3L1351.7 1273.6L1353.1 1270.4L1354.5 1269.4L1355.9 1265.2L1357.2 1258.3L1358.6 1244.8L1360 1227.9L1361.4 1216.1L1362.5 1212.4L1362.8 1212.5L1364.2 1221.4L1365.6 1238.2L1367 1248.7L1368.4 1256.8L1369.8 1259.7L1371.2 1261.7L1372.5 1262.8L1373.9 1262.4L1375.3 1254L1376.7 1253.2L1377.7 1254.7L1378.1 1250L1379.5 1254L1380.9 1258.6L1382.3 1270.6L1383.7 1273.8L1385 1275.7L1386.4 1277.5L1387.8 1274.1L1389.2 1275.6L1390.6 1275.4L1392 1279.9L1393.4 1278.9L1394.8 1277.2L1396.2 1280.9L1397.6 1281.8L1399 1283.8L1400.3 1277.6L1401.7 1279L1403.1 1282.6L1404.5 1277L1405.9 1273.4L1407.3 1271.9L1408.7 1277.7L1410.1 1273.6L1411.5 1274L1412.8 1272.1L1414.2 1272.9L1415.6 1276.9L1417 1267.8L1418.4 1268.1L1419.8 1268L1421.2 1264.7L1422.6 1260.6L1424 1253.5L1425.4 1244.7L1426.8 1237.7L1428.1 1215.6L1429.5 1188.1L1430.9 1153L1432.3 1141.5L1432.8 1140.3L1433.7 1144.4L1435.1 1164.1L1436.5 1197.4L1437.9 1218.3L1439.3 1233.9L1440.7 1242.1L1442 1253.6L1443.4 1255.4L1444.8 1256.3L1446.2 1253.8L1447.6 1254.6L1449 1252.2L1450.4 1248.8L1451.8 1231.3L1453.2 1188.7L1454.5 1062.6L1455.9 777.1L1457.3 289L1458.7 -200L1460.1 -200L1461.2 -200L1461.5 -200L1462.9 -200L1464.3 -7.2L1465.7 553.6L1467.1 943.1L1468.5 1141.4L1469.8 1219.5L1471.2 1242.8L1472.6 1254.3L1474 1256.7L1475.4 1257.1L1476.8 1257.7L1478.2 1259.4L1479.6 1259.9L1481 1249.6L1482.3 1252.9L1483.7 1245.4L1485.1 1239.9L1486.5 1232.7L1486.7 1239.3L1487.9 1237.8L1489.3 1249.2L1490.7 1252.3L1492.1 1253.3L1493.5 1260.1L1494.9 1264.5L1496.2 1265.4L1497.6 1261.5L1499 1259.4L1500.4 1259.8L1501.8 1259.3L1503.2 1251.4L1504.6 1245.2L1506 1234.3L1507.4 1220.6L1508.8 1221L1508.9 1223.4L1510.2 1215.8L1511.5 1234.2L1512.9 1241.9L1514.3 1249.6L1515.7 1259.3L1517.1 1254.5L1518.5 1258.7L1519.9 1263.5L1521.3 1263.7L1522.7 1256.9L1524 1248.3L1525.4 1243L1526.8 1235.1L1528.2 1215L1529.6 1198.6L1531 1194.9L1531.2 1193.5L1532.4 1196.3L1533.8 1211.8L1535.2 1228.1L1536.6 1245.8L1537.9 1254.9L1539.3 1259.9L1540.7 1263.9L1542.1 1259.7L1543.5 1259.6L1544.9 1257.7L1546.3 1250.2L1547.6 1254.2L1547.7 1247.9L1549.1 1256.1L1550.5 1258.2L1551.8 1266.5L1553.2 1269.3L1554.6 1273.6L1556 1275.5L1557.4 1273.3L1558.8 1279.8L1560.2 1276.9L1561.6 1279.6L1563 1271.6L1564.4 1269.2L1565.8 1264.3L1567.1 1261.1L1568.5 1255.2L1569.9 1247.5L1571.3 1232.7L1572.7 1209.7L1574.1 1203.2L1574.5 1207L1575.5 1200.4L1576.9 1214.9L1578.3 1231L1579.7 1242.2L1581 1250.7L1582.4 1246.3L1583.8 1243.1L1585.2 1238.5L1586.6 1226.1L1588 1204.3L1589.4 1196.7L1589.8 1192L1590.8 1200.7L1592.2 1210.2L1593.5 1231.6L1594.9 1245.1L1596.3 1257.7L1597.7 1260.2L1599.1 1259.3L1600.5 1264.7L1601.9 1271.7L1603.3 1269.8L1604.7 1273.8L1606.1 1272.4L1607.4 1270.8L1608.8 1273.7L1610.2 1271.4L1611.6 1264.8L1613 1263.7L1614.4 1263.7L1615.8 1262.4L1617.2 1249.7L1618.6 1236.9L1620 1219.4L1621.3 1203.5L1622.6 1203L1622.7 1197.7L1624.1 1204L1625.5 1216.4L1626.9 1225.7L1628.3 1238.4L1629.7 1242.5L1631.1 1239.8L1632.5 1225.6L1633.9 1210.8L1635.2 1192.3L1636.6 1198L1638 1199.9L1639.4 1216.2L1640.8 1233.8L1642.2 1250.7L1643.6 1261.5L1645 1260L1646.4 1272L1647.8 1273.2L1649.2 1278.8L1650.5 1271.9L1651.9 1279.4L1653.3 1273L1654.7 1271.5L1656.1 1276.7L1657.5 1266.5L1658.9 1265.7L1660.3 1263.8L1661.7 1248.9L1663 1241.2L1664.4 1224.2L1665.8 1211.1L1667.1 1211.8L1667.2 1210.9L1668.6 1214.8L1670 1232.7L1671.4 1250.1L1672.8 1257.3L1674.2 1268.1L1675.6 1276.7L1676.9 1280.1L1678.3 1283.4L1679.7 1280.6L1681.1 1284.5L1682.5 1290.3L1683.9 1287.3L1685.3 1289.5L1686.7 1291.2L1688.1 1288.7L1689.5 1291.5L1690.8 1294.2L1692.2 1290.8L1693.6 1293.2L1695 1290.9L1696.4 1294.2L1697.8 1288.2L1699.2 1289.7L1700.6 1294.9L1702 1290.3L1703.4 1294L1704.8 1291.7L1706.1 1286.9L1707.5 1291.6L1708.9 1288.5L1710.3 1290.4L1711.7 1287L1713.1 1288.4L1714.5 1288.9L1715.9 1283L1717.3 1283.1L1718.7 1281L1720 1276.3L1721.4 1269.5L1722.8 1265.9L1724.2 1255.7L1725.6 1236.8L1727 1209.5L1728.4 1177.2L1729.8 1156.7L1730.4 1162.2L1731.2 1162.1L1732.5 1177.6L1733.9 1209.3L1735.3 1237.5L1736.7 1252.1L1738.1 1264.8L1739.5 1266.7L1740.9 1275L1742.3 1284.3L1743.7 1284.4L1745.1 1289.8L1746.4 1287.9L1747.8 1295.9L1749.2 1292.4L1750.6 1289.8L1752 1290.8L1753.4 1291.5L1754.8 1292.2L1756.2 1290.9L1757.6 1289.3L1759 1294.4L1760.3 1289.4L1761.7 1290.5L1763.1 1292.6L1764.5 1291.4L1765.9 1287.8L1767.3 1291.6L1768.7 1291.1L1770.1 1289.1L1771.5 1288.2L1772.9 1290.6L1774.2 1287.9L1775.6 1281.4L1777 1275.5L1778.4 1263.7L1779.8 1259L1781.2 1252L1782 1255.2L1782.6 1254.6L1784 1254.2L1785.4 1268.3L1786.8 1272.8L1788.2 1272.5L1789.5 1284.3L1790.9 1289.6L1792.3 1288.5L1793.7 1286L1795.1 1286L1796.5 1286.3L1797.9 1282.9L1799.3 1288.4L1800.7 1287.3L1802 1292.1L1803.4 1290.6L1804.8 1286.8L1806.2 1287.3L1807.6 1286.9L1809 1289.5L1810.4 1284.3L1811.8 1281.6L1813.2 1282.8L1814.6 1278.7L1815.9 1276.2L1817.3 1284.2L1818.7 1270.4L1820.1 1263.8L1821.5 1261.8L1821.9 1265.7L1822.9 1267.1L1824.3 1268.4L1825.7 1270.1L1827.1 1272L1828.5 1278.6L1829.8 1279L1831.2 1279.3L1832.6 1282.8L1834 1278.1L1835.4 1276.2L1836.8 1273.8L1838.2 1269.4L1839.6 1266L1841 1255.6L1842.4 1251.4L1843.8 1239.6L1845.1 1237.5L1845.3 1238.9L1846.5 1239.8L1847.9 1244.9L1849.3 1258.8L1850.7 1267.4L1852.1 1274.8L1853.5 1275.4L1854.9 1275.3L1856.3 1280L1857.7 1280.2L1859 1283.4L1860.4 1282L1861.8 1281.5L1863.2 1276.1L1864.6 1275.4L1866 1274.6L1867.4 1269.5L1867.6 1268.9L1868.8 1274.8L1870.2 1275.3L1871.5 1279.9L1872.9 1282.5L1874.3 1286.2L1875.7 1282.8L1877.1 1285.9L1878.5 1283.9L1879.9 1284.8L1881.3 1286.7L1882.7 1286.1L1884.1 1286.1L1885.4 1283.9L1886.8 1287.7L1888.2 1287.2L1889.6 1286.4L1891 1281.5L1892.4 1281.6L1893.8 1288.3L1895.2 1281.1L1896.6 1272.7L1898 1278.4L1899.2 1275.2L1899.3 1276.9L1900.7 1282.9L1902.1 1282L1903.5 1284.8L1904.9 1282.9L1906.3 1279.7L1907.7 1288.8L1909.1 1288.2L1910.5 1286.1L1911.9 1285.6L1913.2 1282.4L1914.6 1282.1L1916 1283.5L1917.4 1280.8L1918.8 1272.4L1920.2 1265.2L1921.6 1261.5L1923 1247.5L1924.4 1234.3L1925.8 1221.9L1927.2 1221.1L1927.3 1220.9L1928.5 1219.2L1929.9 1230.1L1931.3 1246.5L1932.7 1260.3L1934.1 1271.7L1935.5 1274.1L1936.9 1280.1L1938.3 1281.2L1939.7 1278.3L1941 1287.8L1942.4 1284.5L1943.8 1279.5L1945.2 1281.4L1946.6 1279.2L1948 1274.3L1949.4 1270.1L1950.8 1260.3L1952.2 1251.7L1953.6 1245.8L1954.9 1238L1955.4 1241.4L1956.3 1241L1957.7 1244.7L1959.1 1258.1L1960.5 1270.2L1961.9 1272L1963.3 1281.6L1964.7 1286.5L1966.1 1283.5L1967.5 1285.2L1968.8 1282.4L1970.2 1284.7L1971.6 1282.3L1973 1280.7L1974.4 1286.8L1975.8 1279.1L1977.2 1280.6L1978.6 1277L1980 1276.9L1981.4 1272.5L1982.8 1269.9L1984.1 1258.8L1985.5 1259.4L1985.9 1256.7L1986.9 1250.5L1988.3 1255.2L1989.7 1262.1L1991.1 1258.7L1992.5 1261.3L1993.9 1260.1L1995.3 1256.2L1996.7 1241.2L1998 1228.7L1999.4 1207.7L2000.8 1201L2002.2 1200.7L2002.3 1197.6L2003.6 1202.9L2005 1215L2006.4 1231.3L2007.8 1246.3L2009.2 1254.7L2010.5 1258.5L2011.9 1258.8L2013.3 1264.6L2014.7 1266.3L2016.1 1266.5L2017.5 1266.7L2018.9 1261.6L2020.3 1264.9L2021.7 1255L2023.1 1250.6L2024.4 1240.9L2025.8 1225.2L2027.2 1208.1L2028.6 1191.3L2030 1186.9L2030.4 1183.8L2031.4 1184L2032.8 1197.6L2034.2 1215.2L2035.6 1230.2L2037 1243.7L2038.3 1252.4L2039.7 1252L2041.1 1259.7L2042.5 1261.4L2043.9 1257.9L2045.3 1259.2L2046.7 1262.1L2048.1 1264.9L2049.5 1265.3L2050.9 1261.3L2052.2 1262.8L2053.6 1257L2055 1253.2L2056.4 1250.1L2057.8 1243.4L2059.2 1223.7L2060.6 1214.2L2062 1201.2L2063.2 1196.7L2063.4 1195L2064.8 1198.6L2066.2 1212.9L2067.5 1225.6L2068.9 1233.5L2070.3 1243.8L2071.7 1245.5L2073.1 1243.1L2074.5 1243.4L2075.9 1238.6L2077.3 1240.9L2078.7 1239L2080.1 1244.4L2081.4 1245.3L2082.8 1243.3L2084.2 1240L2085.6 1231.5L2087 1220.7L2088.4 1212.3L2089.8 1210.8L2090.2 1207.1L2091.2 1208.3L2092.6 1219.7L2093.9 1234L2095.3 1243.6L2096.7 1256L2098.1 1266.7L2099.5 1272.6L2100.9 1271.2L2102.3 1274.8L2103.7 1277.4L2105.1 1279.5L2106.5 1276.4L2107.8 1279L2109.2 1277.7L2110.6 1277.1L2112 1273.7L2113.4 1273.3L2114.8 1281.4L2114.8 1273.9L2116.2 1274L2117.6 1279.2L2119 1279.2L2120.4 1284.2L2121.8 1284.4L2123.1 1289.4L2124.5 1276.8L2125.9 1279.9L2127.3 1279.1L2128.7 1279.4L2130.1 1275.3L2131.2 1271L2131.5 1269L2132.9 1269.4L2133.6 1273L2134.3 1269.8L2135.7 1274L2137 1282.5L2138.4 1280.7L2139.8 1287L2141.2 1291L2142.6 1288.8L2144 1291.5L2145.4 1287.4L2146.8 1290.7L2148.2 1285.3L2149.6 1286.7L2150.9 1281.9L2152.3 1276L2153.7 1274.2L2155.1 1269.7L2155.8 1264L2156.5 1261L2157 1262.6L2157.9 1261.3L2159.3 1268.2L2160.7 1273.9L2162.1 1284.8L2163.4 1284.4L2164.8 1288.9L2166.2 1285L2167.6 1289.5L2169 1288L2170.4 1295L2171.8 1295L2173.2 1295.2L2174.6 1293.2L2176 1292.5L2177.3 1293.9L2178.7 1291.3L2180.1 1295.3L2181.5 1292.2L2182.9 1290.2L2184.3 1290.8L2185.7 1293.7L2187.1 1291.1L2188.5 1294.1L2189.9 1293.1L2191.2 1292L2192.6 1292.6L2194 1291.4L2195.4 1296.1L2196.8 1291.9L2198.2 1295.4L2199.6 1292.5L2201 1284.8L2202.4 1287.7L2203.8 1288L2205.2 1286.2L2206.5 1285.2L2207.9 1279.5L2209.3 1273.3L2210.7 1264.3L2212.1 1269.8L2212.1 1263.4L2213.5 1269L2214.9 1271.7L2216.3 1278.7L2217.7 1285.4L2219.1 1289.1L2220.4 1292.4L2221.8 1287.2L2223.2 1289.4L2224.6 1291.4L2226 1292.1L2227.4 1288.4L2228.8 1292.9L2230.2 1291.7L2231.6 1286.7L2232.9 1284.1L2234.3 1283L2235.7 1282.3L2237.1 1289L2238.5 1287.5L2239.9 1287.1L2241.3 1285L2242.7 1286.6L2244.1 1290.6L2245.5 1286.6L2246.8 1286.2L2248.2 1277.4L2249.6 1284.7L2250.7 1281.1L2251 1276.8L2252.4 1286.4L2253.8 1286.2L2255.2 1291.4L2256.6 1288.4L2258 1289.1L2259.4 1292.2L2260.8 1294.2L2262.1 1292.4L2263.5 1301.2L2264.9 1297.3L2266.3 1300.2L2267.7 1296.8L2269.1 1297.8L2270.5 1302.4L2271.9 1299L2273.3 1301.6L2274.7 1293L2276 1299.4L2277.4 1298.2L2278.8 1297.8L2280.2 1294.9L2281.6 1301.8L2283 1297.9L2284.4 1301.6L2285.8 1300.8L2287.2 1300.1L2288.6 1299.6L2289.9 1301.2L2291.3 1299.9L2292.7 1301.3L2294.1 1293.8L2295.5 1301L2296.9 1290.4L2298.3 1299.6L2299.7 1296.9L2301.1 1300.3L2302.4 1298.7L2303.8 1296.2L2305.2 1294.5L2306.6 1293.3L2308 1290.7L2309.4 1285.9L2310.8 1283.2L2312.2 1277.4L2313.6 1276.5L2314 1280.8L2315 1276.8L2316.3 1277.7L2317.7 1280.9L2319.1 1288.3L2320.5 1287.9L2321.9 1292L2323.3 1293.6L2324.7 1294.2L2326.1 1294.4L2327.5 1292.1L2328.9 1294.8L2330.2 1293.8L2331.6 1291.7L2333 1287.6L2334.4 1291.6L2335.8 1289.7L2337.2 1286.7L2337.4 1285.2L2338.6 1290.3L2340 1287.9L2341.4 1293.3L2342.8 1292L2344.2 1294.3L2345.5 1296.3L2346.9 1296.6L2348.3 1295.3L2349.7 1300.8L2351.1 1304.1L2352.5 1300.8L2353.9 1301.6L2355.3 1303.6L2356.7 1301.6L2358.1 1304.1" stroke="#00ffff"/>
<path d="M446.8 876.6L448.2 886.7L449.6 894.2L451 901.6L452.4 906.8L453.8 914.5L455.1 925.1L456.5 931.8L457.9 938.4L459.3 944.4L460.7 954.9L462.1 964.5L463.5 961.8L464.9 964.3L466.3 973.5L467.6 981.8L469 982.5L470.4 984.8L471.8 989.6L473.2 994.5L474.6 1001.2L476 996L477.4 1002.3L478.8 999.1L480.2 1003.9L481.6 1000.7L482.9 987.2L484.3 991.9L485.7 982.5L487.1 980.7L488.5 972L489.9 971.2L491.3 966.1L492.7 957.4L494.1 959.4L495.5 955.1L496.8 949.2L498.2 948.4L499.6 940.7L501 939.9L502.4 933.4L503.8 933.6L505.2 935.8L506.6 930.9L508 928.6L509.4 920.1L510.7 922.6L512.1 922.5L513.5 931L514.9 933.2L516.3 937.2L517.7 938.1L519.1 949.9L520.5 953.7L521.9 963.5L523.2 960.1L524.6 976.2L526 982.2L527.4 992.1L528.8 996.7L530.2 1004.3L531.6 1014.8L533 1020.3L534.4 1030.2L535.8 1039.4L537.1 1040.8L538.5 1049.3L539.9 1058.1L541.3 1068.8L542.7 1066.6L544.1 1078L545.5 1085.7L546.9 1090.7L548.3 1094.1L549.7 1104.4L551 1110.9L552.4 1103.3L553.8 1085.5L555.2 1036.3L556.6 873.4L558 535L559 508.6L559.4 511.9L560.8 722.9L562.2 1003.3L563.6 1108.3L565 1155.7L566.3 1179.8L567.7 1192.1L569.1 1202.7L570.5 1205.6L571.9 1215L573.3 1214.6L574.7 1224.1L576.1 1222.1L577.5 1221.6L578.9 1230.8L580.2 1228.3L581.6 1227.4L583 1230.9L584.4 1233.3L585.8 1231.1L587.2 1234L588.6 1234.4L590 1237.3L591.4 1236.8L592.8 1239L594.1 1242.1L595.5 1240.8L596.9 1243L598.3 1240.8L599.7 1248.2L601.1 1247.7L602.5 1246.6L603.9 1244.1L605.3 1245.3L606.6 1249.9L608 1251.8L609.4 1249L610.8 1253.5L612.2 1257L613.6 1255.5L615 1253.2L616.4 1254.6L617.8 1251.8L619.2 1256.9L620.5 1253.2L621.9 1259.2L623.3 1256.5L624.7 1257.7L626.1 1255.1L627.5 1262.5L628.9 1257.3L630.3 1260.5L631.7 1258.7L633.1 1253.3L634.5 1261.1L635.8 1254.9L637.2 1259.3L638.6 1261.8L640 1259.7L641.4 1263.4L642.8 1263L644.2 1258.3L645.6 1259.8L647 1260.3L648.4 1257.7L649.7 1265.5L651.1 1262.6L652.5 1265.4L653.9 1261.8L655.3 1262L656.7 1265.7L658.1 1259.5L659.5 1256.4L660.9 1262.4L662.2 1258.2L663.6 1260.3L665 1265L666.4 1262.1L667.8 1261.7L669.2 1262L670.6 1259.4L672 1259.5L673.4 1267.2L674.8 1266L676.1 1261.6L677.5 1264.4L678.9 1256L680.3 1260.3L681.7 1255.2L683.1 1259.3L684.5 1259.4L685.9 1259.4L687.3 1255.9L688.7 1256.3L690 1260.5L691.4 1257L692.8 1256.5L694.2 1255.8L695.6 1251L697 1255.6L698.4 1259.2L699.8 1258.5L701.2 1257.2L702.6 1259.4L704 1257.6L705.3 1259.4L706.7 1256.5L708.1 1259.3L709.5 1248.9L710.9 1252.7L712.3 1257.3L713.7 1254.3L715.1 1255.9L716.5 1258.6L717.9 1254.5L719.2 1256.5L720.6 1253.5L722 1253.4L723.4 1253.3L724.8 1255.5L726.2 1255.8L727.6 1259.9L729 1251.7L730.4 1250.9L731.8 1253.2L733.1 1251.3L734.5 1253L735.9 1250.3L737.3 1252.9L738.7 1255L740.1 1254.1L741.5 1252.7L742.9 1251.8L744.3 1243.8L745.6 1253.3L747 1246.9L748.4 1247.9L749.8 1253.6L751.2 1249.6L752.6 1243.8L754 1250.5L755.4 1249L756.8 1249.8L758.2 1248L759.5 1250.9L760.9 1247.7L762.3 1245.8L763.7 1250.4L765.1 1247.3L766.5 1247.4L767.9 1244.1L769.3 1249.5L770.7 1245.1L772.1 1242.8L773.5 1243.2L774.8 1247.7L776.2 1247.9L777.6 1246.4L779 1247.7L780.4 1246.8L781.8 1247.7L783.2 1250.5L784.6 1243.5L786 1241L787.4 1244.9L788.7 1245.8L790.1 1240.3L791.5 1241.7L792.9 1243.1L794.3 1242.7L795.7 1246.8L797.1 1240.2L798.5 1239.7L799.9 1241.9L801.2 1241L802.6 1246.1L804 1245.2L805.4 1244.8L806.8 1246.3L808.2 1244.2L809.6 1244.2L811 1248.6L812.4 1246.5L813.8 1238.8L815.1 1239.7L816.5 1245.2L817.9 1239.4L819.3 1243.7L820.7 1242.5L822.1 1239.8L823.5 1236.3L824.9 1236.7L826.3 1243.9L827.7 1238L829 1235L830.4 1236.6L831.8 1239.6L833.2 1233.9L834.6 1229.6L836 1225.1L837.4 1220.1L838.8 1208.1L840.2 1198.7L841.6 1187.7L843 1183.4L843.4 1186.2L844.3 1183.7L845.7 1188.7L847.1 1191.9L848.5 1199.2L849.9 1207.3L851.3 1206.2L852.7 1207.9L854.1 1193.4L855.5 1169.5L856.9 1130.8L858.2 1063.4L859.6 1003.6L860.7 995.5L861 999.9L862.4 1032.9L863.8 1102.8L865.2 1157.3L866.6 1186L868 1204L869.4 1212.8L870.8 1217.5L872.1 1225.8L873.5 1221.7L874.9 1225.6L876.3 1227.2L877.7 1230.7L879.1 1226.8L880.5 1224.6L881.9 1220.8L883.3 1217.5L884.7 1210.9L886 1201.1L887.4 1179.7L888.8 1159.5L890.2 1115.9L891.6 1042.9L893 918.1L894.4 769.8L895.8 744.6L897.2 766.2L898.5 913.5L899.9 1036.7L901.3 1108.9L902.7 1159.2L904.1 1178.9L905.5 1200.3L906.9 1210.5L908.3 1215.2L909.7 1222.7L911.1 1223.5L912.5 1225.4L913.8 1226L915.2 1226.4L916.6 1225.6L918 1227.7L919.4 1233.9L920.8 1234.8L922.2 1232.9L923.6 1230.7L925 1230.8L926.4 1232.5L927.7 1227.4L929.1 1228.8L930.5 1230.3L931.9 1225.5L933.3 1227.7L934.7 1220.8L936.1 1223.4L937.5 1218.1L938.9 1212.9L940.2 1207.9L941.6 1203.1L943 1188.2L944.4 1174.6L945.8 1147.9L947.2 1109L948.6 1042.1L950 923.3L951.4 795.7L952.8 771.6L954.2 797.8L955.5 920.8L956.9 1038.9L958.3 1109.3L959.7 1145.8L961.1 1173.4L962.5 1187.3L963.9 1200.8L965.3 1204L966.7 1209.8L968 1210.4L969.4 1218.3L970.8 1226.1L972.2 1221.2L973.6 1224.3L975 1223.1L976.4 1226L977.8 1224.4L979.2 1227.3L980.6 1227L982 1229L983.3 1225.6L984.7 1222L986.1 1227L987.5 1226.8L988.9 1237.2L990.3 1228.2L991.7 1232.9L993.1 1231.1L994.5 1230.7L995.9 1229.9L997.2 1233.5L998.6 1231.9L1000 1227.8L1001.4 1230.3L1002.8 1229.1L1004.2 1229.3L1005.6 1229.5L1007 1231L1008.4 1227.2L1009.8 1229.1L1011.1 1229.6L1012.5 1237.3L1013.9 1234.6L1015.3 1229.7L1016.7 1234.4L1018.1 1230.8L1019.5 1229.6L1020.9 1229.6L1022.3 1229.7L1023.7 1233.7L1025 1234.2L1026.4 1233L1027.8 1229.5L1029.2 1228.5L1030.6 1230.5L1032 1233.6L1033.4 1230.4L1034.8 1225.4L1036.2 1228.7L1037.5 1219.7L1038.9 1213.3L1040.3 1205.3L1041.7 1193.9L1043.1 1180.5L1043.7 1182.7L1044.5 1184.2L1045.9 1198.2L1047.3 1204.1L1048.7 1210.4L1050.1 1217.9L1051.5 1225.7L1052.8 1226.6L1054.2 1233.2L1055.6 1232.1L1057 1227.3L1058.4 1230.5L1059.8 1228.8L1061.2 1227.1L1062.6 1229.8L1064 1233.2L1065.4 1230.9L1066.7 1229.6L1068.1 1227.4L1069.5 1230.1L1070.9 1229.4L1072.3 1227.1L1073.7 1221.8L1075.1 1226.2L1076.5 1228.1L1077.9 1219.4L1079.2 1220.8L1080.6 1216.9L1082 1207.6L1083.4 1204.9L1084.8 1198.4L1086.2 1188.8L1087.6 1177.4L1089 1155.8L1090.4 1121.3L1091.8 1054.8L1093.2 976.3L1094.5 924.5L1095.2 923.1L1095.9 921.5L1097.3 970.2L1098.7 1052.5L1100.1 1110.3L1101.5 1142.3L1102.9 1155.5L1104.3 1159L1105.7 1156L1107 1144.4L1108.4 1120.2L1109.8 1080.3L1111.2 1012.5L1112.6 887.4L1114 740L1115.4 685L1115.7 694.3L1116.8 705.3L1118.2 818.1L1119.6 963.2L1121 1054L1122.3 1119.2L1123.7 1153.8L1125.1 1177L1126.5 1188.3L1127.9 1196.9L1129.3 1207L1130.7 1209.9L1132.1 1222.4L1133.5 1220.6L1134.9 1220.4L1136.2 1227.8L1137.6 1227.8L1139 1233.6L1140.4 1228L1141.8 1238L1143.2 1232.3L1144.6 1233.1L1146 1235.6L1147.4 1232L1148.8 1234.9L1150.1 1233L1151.5 1237.4L1152.9 1238.4L1154.3 1235.5L1155.7 1238.8L1157.1 1238.2L1158.5 1233.7L1159.9 1235.8L1161.3 1229.1L1162.7 1233.6L1164 1230.6L1165.4 1232.5L1166.8 1231.8L1168.2 1232.2L1169.6 1234.9L1171 1234.4L1172.4 1228.6L1173.8 1235.8L1175.2 1234L1176.5 1234.6L1177.9 1230.1L1179.3 1229.2L1180.7 1226.8L1182.1 1228.2L1183.5 1226.6L1184.9 1221.7L1186.3 1216.5L1187.7 1206.4L1189.1 1199.3L1190.5 1177.5L1191.8 1152.8L1193.2 1138.3L1193.7 1138.7L1194.6 1140.1L1196 1156.7L1197.4 1185L1198.8 1201.3L1200.2 1208.9L1201.6 1215L1203 1215.9L1204.4 1219.1L1205.7 1215.3L1207.1 1220.3L1208.5 1212.4L1209.9 1208.7L1211.3 1208.5L1212.4 1204.5L1212.7 1206L1214.1 1207.7L1215.5 1209.3L1216.9 1219.2L1218.2 1217.1L1219.6 1224.1L1221 1221.6L1222.4 1215.8L1223.8 1217.2L1225.2 1218.7L1226.6 1213.5L1228 1212.7L1229.4 1198.5L1230.8 1179.9L1232.2 1163.1L1233.5 1159.3L1233.5 1162.2L1234.9 1163.7L1236.3 1177.2L1237.7 1194.2L1239.1 1206.5L1240.5 1220.2L1241.9 1220.6L1243.3 1222.8L1244.7 1223.2L1246 1225.5L1247.4 1224.7L1248.8 1228L1250.2 1221.4L1251.6 1226.8L1253 1227.8L1254.4 1228.7L1255.8 1233.3L1257.2 1225.2L1258.6 1230.6L1260 1222.5L1261.3 1224.9L1262.7 1227.1L1264.1 1225.8L1265.5 1226.8L1266.9 1226.9L1268.3 1220.2L1269.7 1225.9L1271.1 1223.4L1272.5 1217L1273.9 1216.9L1275.2 1211L1276.6 1199.1L1278 1193L1279.4 1176.1L1280.5 1177.8L1280.8 1179L1282.2 1181.3L1283.6 1194L1285 1197.4L1286.4 1207.8L1287.8 1198.9L1289.1 1195.6L1290.5 1184.9L1291.9 1165L1293.3 1136.2L1294.7 1114L1295.7 1119.2L1296.1 1115.8L1297.5 1125.7L1298.9 1160.1L1300.3 1184L1301.7 1197.3L1303 1207.6L1304.4 1214.3L1305.8 1222.8L1307.2 1227.8L1308.6 1225.4L1310 1225.5L1311.4 1233.6L1312.8 1229.7L1314.2 1231.2L1315.5 1228.2L1316.9 1232.8L1318.3 1230.6L1319.7 1234.6L1321.1 1239L1322.5 1231.1L1323.9 1229.2L1325.3 1233L1326.7 1232.2L1328.1 1232.4L1329.5 1227.3L1330.8 1230.6L1332.2 1228.1L1333.6 1222.6L1335 1213.8L1336.4 1208.4L1337.8 1207.1L1337.9 1202.6L1339.2 1203.6L1340.6 1207.9L1342 1218.2L1343.4 1223.5L1344.7 1222.7L1346.1 1218.5L1347.5 1219.7L1348.9 1218.7L1350.3 1209.4L1351.7 1195.6L1353.1 1199.8L1353.1 1206L1354.5 1197.4L1355.9 1207.4L1357.2 1206.2L1358.6 1211L1360 1203.4L1361.4 1199L1362.8 1187.5L1364.2 1173.1L1364.8 1179.9L1365.6 1179.7L1367 1190.1L1368.4 1201.2L1369.8 1204.2L1371.2 1209.3L1372.5 1214.6L1373.9 1212.6L1375.3 1213.3L1376.5 1210.8L1376.7 1215L1378.1 1220.2L1379.5 1215.8L1380.9 1227.6L1382.3 1227.6L1383.7 1230.1L1385 1236.3L1386.4 1234.9L1387.8 1234.4L1389.2 1235.2L1390.6 1234.7L1392 1233.9L1393.4 1235L1394.8 1240.7L1396.2 1234.3L1397.6 1238.5L1399 1236.3L1400.3 1231.8L1401.7 1231.5L1403.1 1232.4L1404.5 1232.2L1405.9 1228.3L1407.3 1231.2L1408.7 1233.7L1410.1 1232.4L1411.5 1227.8L1412.8 1223.5L1414.2 1220.5L1415.6 1221.6L1417 1218.1L1418.4 1209.8L1419.8 1206.1L1421.2 1190L1422.6 1168L1424 1142.7L1425.4 1103.8L1426.8 1061.8L1428.1 1048.9L1428.1 1051.4L1429.5 1058.6L1430.9 1100.6L1432.3 1138.9L1433.7 1173.7L1435.1 1185.1L1436.5 1199.9L1437.9 1208.4L1439.3 1206L1440.7 1217.2L1442 1215.2L1443.4 1220L1444.8 1219.1L1446.2 1216.3L1447.6 1213.4L1449 1207.4L1450.4 1166.8L1451.8 1087.9L1453.2 928.9L1454.5 628L1455.9 180.6L1457.3 -200L1458.7 -200L1460.1 -200L1461.5 -200L1462.9 -200L1464.3 182.1L1465.7 624.3L1467.1 925.4L1468.5 1094.5L1469.8 1163.9L1471.2 1197.1L1472.6 1217.9L1474 1219.2L1475.4 1218.7L1476.8 1217.8L1478.2 1219.9L1479.6 1217.9L1481 1210.8L1482.3 1205.6L1483.7 1198.2L1485.1 1183.7L1486.5 1182.8L1486.7 1182.4L1487.9 1186.8L1489.3 1193.5L1490.7 1204.5L1492.1 1213.3L1493.5 1215.1L1494.9 1219.8L1496.2 1223L1497.6 1221.1L1499 1219.4L1500.4 1217.2L1501.8 1210.5L1503.2 1210.8L1504.6 1197.7L1506 1194.1L1507.4 1188.8L1507.8 1192.7L1508.8 1187.7L1510.2 1184.6L1511.5 1205.9L1512.9 1206.9L1514.3 1212.7L1515.7 1214.8L1517.1 1214L1518.5 1213.8L1519.9 1209.9L1521.3 1208.8L1522.7 1200.2L1524 1188.5L1525.4 1166L1526.8 1143L1528.2 1132.8L1528.8 1131.8L1529.6 1130.1L1531 1143.5L1532.4 1167.3L1533.8 1186.8L1535.2 1200.8L1536.6 1207.2L1537.9 1209.8L1539.3 1212.2L1540.7 1215.2L1542.1 1215L1543.5 1218L1544.9 1211.3L1546.3 1206.8L1547.6 1202.1L1547.7 1209.8L1549.1 1206.6L1550.5 1206.8L1551.8 1220.7L1553.2 1220.3L1554.6 1220.5L1556 1225.4L1557.4 1228.1L1558.8 1230L1560.2 1226.8L1561.6 1230.4L1563 1223.7L1564.4 1227.5L1565.8 1227.3L1567.1 1219.3L1568.5 1209.6L1569.9 1209.3L1571.3 1193.1L1572.7 1179.9L1574.1 1165.5L1575.5 1162.6L1575.7 1163.6L1576.9 1169.9L1578.3 1170.7L1579.7 1184.9L1581 1187.9L1582.4 1198.7L1583.8 1202.4L1585.2 1195.6L1586.6 1185.2L1588 1165.3L1589.4 1161.8L1589.8 1157.8L1590.8 1159.3L1592.2 1175L1593.5 1189.1L1594.9 1207.1L1596.3 1213L1597.7 1219.5L1599.1 1218.2L1600.5 1220.5L1601.9 1218.9L1603.3 1222.6L1604.7 1226.6L1606.1 1219.8L1607.4 1213.9L1608.8 1211.7L1610.2 1207.4L1611.6 1193.6L1613 1180.7L1614.4 1168.1L1615.5 1165.2L1615.8 1168.8L1617.2 1170L1618.6 1186.2L1620 1201.2L1621.3 1202.4L1622.7 1211.9L1624.1 1209.3L1625.5 1217.3L1626.9 1212.8L1628.3 1202.4L1629.7 1180.5L1631.1 1171.1L1632.5 1147.3L1633.9 1141.4L1634.3 1142.2L1635.2 1136.3L1636.6 1156.8L1638 1174.3L1639.4 1197.6L1640.8 1204.5L1642.2 1217L1643.6 1215.7L1645 1229.7L1646.4 1231.1L1647.8 1230.3L1649.2 1224.9L1650.5 1228.5L1651.9 1223.5L1653.3 1230.6L1654.7 1222.6L1656.1 1227.5L1657.5 1227.2L1658.9 1215.8L1660.3 1205.8L1661.7 1187.9L1663 1177.1L1664.4 1170.7L1664.8 1175.1L1665.8 1175.5L1667.2 1183.9L1668.6 1200.2L1670 1212.6L1671.4 1221.7L1672.8 1226.8L1674.2 1229L1675.6 1237.9L1676.9 1238.3L1678.3 1235.9L1679.7 1237.2L1681.1 1241.1L1682.5 1241.5L1683.9 1239.5L1685.3 1242.5L1686.7 1240.8L1688.1 1245.7L1689.5 1248.3L1690.8 1248.2L1692.2 1248L1693.6 1244.8L1695 1246.8L1696.4 1244.2L1697.8 1248.9L1699.2 1251.4L1700.6 1246.7L1702 1247.5L1703.4 1251.5L1704.8 1247.5L1706.1 1246.2L1707.5 1244.5L1708.9 1241.3L1710.3 1244L1711.7 1241.9L1713.1 1236.2L1714.5 1236.9L1715.9 1237.6L1717.3 1233.8L1718.7 1230L1720 1223.1L1721.4 1212.9L1722.8 1195.8L1724.2 1177.5L1725.6 1148.5L1727 1125.4L1728 1121.5L1728.4 1124.3L1729.8 1131.6L1731.2 1159.5L1732.5 1187.3L1733.9 1199.6L1735.3 1216.3L1736.7 1227.6L1738.1 1230.8L1739.5 1235.2L1740.9 1236.4L1742.3 1239.2L1743.7 1244.2L1745.1 1242L1746.4 1245.9L1747.8 1244L1749.2 1244.1L1750.6 1243.5L1752 1240.4L1753.4 1249.5L1754.8 1246.6L1756.2 1247.9L1757.6 1244.6L1759 1247.9L1760.3 1245.6L1761.7 1245.3L1763.1 1243.6L1764.5 1245.1L1765.9 1248.2L1767.3 1249.3L1768.7 1241.7L1770.1 1242.6L1771.5 1243.3L1772.9 1237.8L1774.2 1235.2L1775.6 1231.3L1777 1223.9L1778.4 1217L1779.8 1214.1L1781.2 1211.7L1781.5 1208.5L1782.6 1208.7L1784 1218.5L1785.4 1221.2L1786.8 1225L1788.2 1230L1789.5 1235.8L1790.9 1240.4L1792.3 1239.7L1793.7 1241L1795.1 1240.1L1796.5 1240.5L1797.9 1241.9L1799.3 1237.9L1800.7 1239.9L1802 1237.7L1803.4 1244.6L1804.8 1235.4L1806.2 1231.9L1807.6 1237.9L1809 1240.5L1810.4 1238.9L1811.8 1236.3L1813.2 1234.3L1814.6 1229.4L1815.9 1228L1817.3 1223.7L1818.7 1223.9L1819.5 1222.2L1820.1 1225.2L1821.5 1228.1L1822.9 1225.7L1824.3 1234.9L1825.7 1234.1L1827.1 1240.7L1828.5 1236.7L1829.8 1234.7L1831.2 1241.8L1832.6 1242L1834 1235.9L1835.4 1234.7L1836.8 1236.3L1838.2 1225.3L1839.6 1219.3L1841 1210.5L1842.4 1210.6L1843 1212.1L1843.8 1211.5L1845.1 1215.9L1846.5 1217.9L1847.9 1225.8L1849.3 1244.2L1850.7 1238.7L1852.1 1240.3L1853.5 1245.6L1854.9 1240.2L1856.3 1243.7L1857.7 1243.7L1859 1243.8L1860.4 1239.7L1861.8 1241.1L1863.2 1239.2L1864.6 1238.7L1866 1232.7L1867.4 1234.6L1867.6 1238.2L1868.8 1232.3L1870.2 1236.3L1871.5 1241.9L1872.9 1241.5L1874.3 1244.4L1875.7 1245.8L1877.1 1248.4L1878.5 1253.6L1879.9 1246.9L1881.3 1250.2L1882.7 1245.7L1884.1 1248.1L1885.4 1246.6L1886.8 1249.7L1888.2 1253.3L1889.6 1250.7L1891 1254.7L1892.4 1246.5L1893.8 1248.4L1895.2 1248.5L1896.6 1245.9L1898 1243.2L1899.3 1247.9L1900.7 1246.1L1902.1 1243.6L1903.5 1243.2L1903.9 1241.5L1904.9 1242.3L1906.3 1245.2L1907.7 1241.7L1909.1 1241.2L1910.5 1243.1L1911.9 1239.9L1913.2 1242.3L1914.6 1235.8L1916 1232.6L1917.4 1227.2L1917.9 1222.3L1918.8 1220.3L1920.2 1220.5L1921.6 1225.5L1923 1221L1924.4 1215.5L1925.8 1204.4L1927.2 1192.9L1928.5 1188.9L1929.7 1182.4L1929.9 1181.2L1931.3 1188L1932.7 1200.5L1934.1 1212.7L1935.5 1226.2L1936.9 1230.4L1938.3 1236.1L1939.7 1232.7L1941 1237.5L1942.4 1241.1L1943.8 1239.2L1945.2 1239.9L1946.6 1241.2L1948 1239.1L1949.4 1231.6L1950.8 1233.3L1952.2 1224.4L1953.6 1219.7L1954.9 1210.6L1956.3 1205.3L1956.6 1206.2L1957.7 1207.1L1959.1 1214.1L1960.5 1218.9L1961.9 1228.9L1963.3 1224.2L1964.7 1237L1966.1 1239.3L1967.5 1238.7L1968.8 1232.4L1970.2 1240L1971.6 1237.8L1973 1239L1974.4 1236.6L1975.8 1237.7L1977.2 1235.8L1978.6 1236.6L1980 1232.1L1981.4 1230.2L1982.8 1229.5L1984.1 1225.6L1985.5 1223.8L1985.9 1223L1986.9 1219.3L1988.3 1213.8L1989.7 1217.7L1991.1 1210.2L1992.5 1206.4L1993.9 1195.6L1995.3 1175.7L1996.7 1160.8L1998 1149.4L1998.8 1151.9L1999.4 1150.1L2000.8 1158.9L2002.2 1179.3L2003.6 1195.3L2005 1205.6L2006.4 1212.6L2007.8 1216.2L2009.2 1220.9L2010.5 1221.1L2011.9 1223.1L2013.3 1226L2014.7 1226.1L2016.1 1219.5L2017.5 1218.6L2018.9 1215L2020.3 1209L2021.7 1196.7L2023.1 1183.8L2024.4 1165.9L2025.8 1145.5L2027.2 1132.7L2028.1 1132.8L2028.6 1135.9L2030 1144.3L2031.4 1154.6L2032.8 1175.3L2034.2 1193.1L2035.6 1201.5L2037 1206.9L2038.3 1213.6L2039.7 1219.7L2041.1 1219L2042.5 1213.8L2043.9 1214.1L2045.3 1217.3L2046.7 1213.2L2048.1 1205.8L2049.5 1203.5L2050.9 1195.9L2052.2 1192.8L2053.6 1181.9L2055 1175L2055 1174.8L2056.4 1173L2057.8 1180.4L2059.2 1186.4L2060.6 1193.6L2062 1189.9L2063.4 1184.7L2064.8 1185.9L2065.6 1183.1L2066.2 1187.9L2067.5 1187.1L2068.9 1194.1L2070.3 1198.3L2071.7 1201.7L2073.1 1202.5L2074.5 1205.8L2075.9 1202.8L2077.3 1198.4L2078.7 1196.2L2080.1 1197.8L2081.4 1192L2082.8 1180.7L2084.2 1174.2L2085.6 1164.4L2086.7 1166.2L2087 1166.5L2088.4 1172.7L2089.8 1182.6L2091.2 1192.7L2092.6 1205.8L2093.9 1213.2L2095.3 1211.4L2096.7 1220.2L2098.1 1221.5L2099.5 1219.4L2100.9 1216.2L2102.3 1220.5L2103.7 1225.1L2105.1 1224.8L2106.5 1222L2107.8 1223.1L2109.2 1221.1L2110.6 1226.6L2112 1226.8L2113.4 1228.2L2114.8 1228.6L2116.2 1227.9L2117.1 1229.6L2117.6 1232.4L2119 1228.6L2120.4 1234.7L2121.8 1232.4L2123.1 1232.7L2124.5 1237.6L2125.9 1236.3L2127.3 1232.9L2128.7 1229.4L2130.1 1240.2L2131.5 1241L2132.9 1239.9L2134.3 1240.4L2135.7 1237.9L2137 1243.6L2138.4 1243.6L2139.8 1244.8L2141.2 1243.4L2142.6 1241.5L2144 1243.4L2145.4 1243.7L2146.8 1238.9L2148.2 1238.4L2149.6 1234.2L2150.9 1237.2L2152.3 1229.9L2153.7 1222.1L2154.7 1220.6L2155.1 1221.2L2155.8 1217.2L2156.5 1222.2L2157.9 1222.7L2159.3 1233.5L2160.7 1233.8L2162.1 1240.2L2163.4 1243.6L2164.8 1242.4L2166.2 1248.6L2167.6 1247L2169 1243.7L2170.4 1244.2L2171.8 1245.7L2173.2 1243.5L2174.6 1245.3L2176 1247L2177.3 1247.5L2178.7 1248.3L2180.1 1245.6L2181.5 1245L2182.9 1251L2184.3 1250.6L2185.7 1240.6L2187.1 1246.7L2188.5 1244.2L2189.9 1247L2191.2 1252.1L2192.6 1253.5L2194 1249.3L2195.4 1247.7L2196.8 1247.2L2198.2 1243.1L2199.6 1243.4L2201 1245.1L2202.4 1238.6L2203.8 1234.3L2205.2 1232.9L2206.5 1231.1L2207.9 1227.9L2209.3 1219L2209.7 1223L2210.7 1222.5L2212.1 1218.1L2213.5 1228.9L2214.9 1237.5L2216.3 1238.2L2217.7 1243.3L2219.1 1245.3L2220.4 1243.7L2221.8 1244.8L2223.2 1245.9L2224.6 1247.2L2226 1248.3L2227.4 1252.3L2228.8 1248.3L2230.2 1249.9L2231.6 1251.3L2232.9 1247.8L2234.3 1244.2L2235.7 1249.8L2237.1 1245.6L2238.5 1246L2239.9 1245.6L2241.3 1243.3L2242.7 1241.2L2243.7 1239L2244.1 1238.1L2245.5 1241.7L2246.8 1246.8L2248.2 1241.4L2249.6 1243.9L2251 1243.7L2252.4 1247.9L2253.8 1253.2L2255.2 1260.1L2256.6 1252.3L2258 1250.9L2259.4 1253.3L2260.8 1249.6L2262.1 1251.1L2263.5 1255.6L2264.9 1254L2266.3 1254.5L2267.7 1256.2L2269.1 1251.4L2270.5 1257.3L2271.9 1253.1L2273.3 1249.9L2274.7 1257.4L2276 1252.4L2277.4 1248.7L2278.8 1257L2280.2 1259.2L2281.6 1255.1L2283 1257.4L2284.4 1256.2L2285.8 1255.6L2287.2 1259.3L2288.6 1256.8L2289.9 1252.9L2291.3 1258.4L2292.7 1257L2294.1 1254.6L2295.5 1246.6L2296.9 1252.1L2298.3 1250.2L2299.7 1242.7L2301.1 1240L2302.3 1241.4L2302.4 1242.6L2303.8 1241.8L2305.2 1241.6L2306.6 1242.3L2308 1247.7L2309.4 1245.2L2310.8 1246L2312.2 1243.4L2313.6 1242.9L2314 1244.3L2315 1242.2L2316.3 1244.6L2317.7 1242L2319.1 1249.8L2320.5 1252.1L2321.9 1253.7L2323.3 1250.8L2324.7 1253.9L2326.1 1252.4L2327.5 1250.2L2328.9 1249.1L2330.2 1252.1L2331.6 1246.6L2333 1248.3L2334.4 1246.1L2335.8 1242L2337.2 1241.7L2338.6 1240.5L2339.8 1242.6L2340 1243.2L2341.4 1242L2342.8 1246L2344.2 1247.2L2345.5 1250.5L2346.9 1248.6L2348.3 1253.7L2349.7 1252.1L2351.1 1254.3L2352.5 1253.9L2353.9 1256.2L2355.3 1249.4L2356.7 1256L2358.1 1248.7" stroke="#ff8000"/>
<path d="M446.8 839.3L448.2 845.4L449.6 851.8L451 854.5L452.4 864.4L453.8 868.9L455.1 875.1L456.5 889L457.9 895.7L459.3 900.5L460.7 904L462.1 907.4L463.5 915.1L464.9 922.9L466.3 927.1L467.6 929.4L469 939.9L470.4 939.9L471.8 949L473.2 953.2L474.6 952.9L476 951.2L477.4 955.1L478.8 952.3L480.2 955.4L481.6 951.8L482.9 951.1L484.3 951.2L485.7 951.8L487.1 949.5L488.5 943.8L489.9 942.5L491.3 931.4L492.7 924.9L494.1 917.5L495.5 910.7L496.8 907.8L498.2 902.1L499.6 898.6L501 896L502.4 896.6L503.8 888.8L505.2 885.8L506.6 887.8L508 884.1L509.4 881.7L510.7 877.1L512.1 880.8L513.5 881.9L514.9 884.5L516.3 890.8L517.7 899.5L519.1 906.7L520.5 910L521.9 921.8L523.2 928.4L524.6 937.3L526 939.8L527.4 953.5L528.8 963.8L530.2 973.1L531.6 980L533 992.5L534.4 1003.7L535.8 1001.4L537.1 1005.4L538.5 1011.7L539.9 1023L541.3 1026.8L542.7 1033.9L544.1 1039.7L545.5 1046.2L546.9 1049.5L548.3 1056.6L549.7 1066.4L551 1069L552.4 1049.9L553.8 983.8L555.2 801.3L556.6 537.2L557.3 543.6L558 538.4L559.4 813.2L560.8 1016.8L562.2 1091L563.6 1128.8L565 1141.8L566.3 1156.9L567.7 1161.7L569.1 1167.3L570.5 1170.4L571.9 1176.1L573.3 1178L574.7 1175.7L576.1 1184.3L577.5 1186.2L578.9 1180.3L580.2 1185.4L581.6 1184.7L583 1186.9L584.4 1187.9L585.8 1193.3L587.2 1192.7L588.6 1193L590 1195L591.4 1195.1L592.8 1197.3L594.1 1202.5L595.5 1196.3L596.9 1203.5L598.3 1198.2L599.7 1200.9L601.1 1198.7L602.5 1196.6L603.9 1202.8L605.3 1203.5L606.6 1205.8L608 1210.6L609.4 1211.8L610.8 1208.3L612.2 1208.1L613.6 1210.9L615 1216L616.4 1210.4L617.8 1209L619.2 1214.3L620.5 1216.4L621.9 1218.2L623.3 1219.5L624.7 1224.1L626.1 1220.5L627.5 1219.7L628.9 1220.5L630.3 1219.8L631.7 1216.5L633.1 1218.9L634.5 1219.7L635.8 1223L637.2 1220L638.6 1221L640 1222.2L641.4 1220.2L642.8 1219.7L644.2 1216.7L645.6 1221.8L647 1220.5L648.4 1218.6L649.7 1217L651.1 1221L652.5 1222.7L653.9 1223.9L655.3 1223.9L656.7 1219.7L658.1 1223L659.5 1225.1L660.9 1224.2L662.2 1222.1L663.6 1219L665 1223.2L666.4 1225.1L667.8 1220.8L669.2 1222.9L670.6 1222.8L672 1215.5L673.4 1216.5L674.8 1212.2L676.1 1214L677.5 1216.6L678.9 1219.6L680.3 1218.6L681.7 1222.7L683.1 1220.2L684.5 1218.8L685.9 1220.5L687.3 1220.1L688.7 1222.4L690 1220.3L691.4 1219.9L692.8 1214.1L694.2 1219.7L695.6 1212.8L697 1219.1L698.4 1218.1L699.8 1217.9L701.2 1215.6L702.6 1219.1L704 1212.1L705.3 1214L706.7 1219.1L708.1 1218.1L709.5 1212.6L710.9 1213.9L712.3 1212.5L713.7 1214.9L715.1 1214.2L716.5 1216L717.9 1213.8L719.2 1212L720.6 1213.3L722 1216.8L723.4 1209L724.8 1211.6L726.2 1214.7L727.6 1211.5L729 1211.1L730.4 1206.9L731.8 1208.5L733.1 1211.5L734.5 1213L735.9 1211.6L737.3 1210.4L738.7 1209.2L740.1 1209.4L741.5 1210L742.9 1208.8L744.3 1212.6L745.6 1212.7L747 1210.2L748.4 1207.7L749.8 1210.9L751.2 1210.6L752.6 1210.9L754 1208.3L755.4 1208L756.8 1207.7L758.2 1212.5L759.5 1207.8L760.9 1205.8L762.3 1207.3L763.7 1209.8L765.1 1205L766.5 1211.9L767.9 1207L769.3 1211.2L770.7 1206.1L772.1 1207.6L773.5 1204.4L774.8 1209.5L776.2 1209.6L777.6 1207.8L779 1204.4L780.4 1208.8L781.8 1207.7L783.2 1208.6L784.6 1209.4L786 1205.8L787.4 1201.9L788.7 1207.1L790.1 1204.2L791.5 1207.5L792.9 1209.1L794.3 1207.3L795.7 1206.8L797.1 1205.8L798.5 1209.3L799.9 1205.7L801.2 1204.5L802.6 1207.9L804 1207.2L805.4 1211L806.8 1207.6L808.2 1206.5L809.6 1207.4L811 1210.5L812.4 1207.2L813.8 1207.6L815.1 1209.8L816.5 1209.2L817.9 1207.6L819.3 1207L820.7 1203.1L822.1 1203.5L823.5 1201.8L824.9 1206.2L826.3 1200.7L827.7 1206.4L829 1201.7L830.4 1201.8L831.8 1199.3L833.2 1200.3L834.6 1197.4L836 1190.4L837.4 1187.1L838.8 1177.9L840.2 1172.7L841.6 1163.2L843 1162.5L843.4 1162.1L844.3 1152.7L845.7 1161.3L847.1 1168.6L848.5 1172.2L849.9 1177.1L851.3 1173.2L852.7 1166.5L854.1 1156.8L855.5 1129.1L856.9 1082.7L858.2 1015.2L859.6 970.7L860.3 972.2L861 967L862.4 1018.4L863.8 1082.2L865.2 1128.1L866.6 1157.7L868 1171.3L869.4 1185.5L870.8 1193.9L872.1 1192.7L873.5 1192L874.9 1198.8L876.3 1194.9L877.7 1195.8L879.1 1187L880.5 1191.6L881.9 1183.8L883.3 1177.9L884.7 1165.8L886 1156.6L887.4 1138.6L888.8 1099.6L890.2 1044.5L891.6 944.4L893 811.9L894.4 750.2L894.7 752.6L895.8 762.4L897.2 872.5L898.5 995.8L899.9 1076.2L901.3 1114.9L902.7 1147.5L904.1 1163.9L905.5 1175.8L906.9 1179.4L908.3 1182.9L909.7 1191.3L911.1 1194.5L912.5 1200.5L913.8 1193.4L915.2 1193.3L916.6 1198.2L918 1199.3L919.4 1195.8L920.8 1198.9L922.2 1197.6L923.6 1193.2L925 1198.5L926.4 1198.5L927.7 1198.7L929.1 1194.2L930.5 1195L931.9 1190L933.3 1191.8L934.7 1186L936.1 1183L937.5 1181.1L938.9 1173L940.2 1175.1L941.6 1161.5L943 1149.9L944.4 1125.4L945.8 1093.4L947.2 1034L948.6 937.8L950 794.6L951.4 698.2L952.1 702.2L952.8 702.5L954.2 789.1L955.5 934L956.9 1033.8L958.3 1090.3L959.7 1121.4L961.1 1143.7L962.5 1160.3L963.9 1168.9L965.3 1176.7L966.7 1177.3L968 1182.7L969.4 1186.2L970.8 1185.7L972.2 1193.8L973.6 1193L975 1195.8L976.4 1190.5L977.8 1195.3L979.2 1197.6L980.6 1198.4L982 1200.5L983.3 1197.6L984.7 1198.2L986.1 1195.2L987.5 1197.5L988.9 1197.6L990.3 1195.2L991.7 1200L993.1 1194.8L994.5 1197.1L995.9 1198.7L997.2 1196.4L998.6 1196.5L1000 1196.4L1001.4 1194.9L1002.8 1192L1004.2 1194.4L1005.6 1192.8L1007 1196.4L1008.4 1198.1L1009.8 1196.6L1011.1 1193.9L1012.5 1198.6L1013.9 1198.2L1015.3 1193.1L1016.7 1191.4L1018.1 1193.2L1019.5 1193L1020.9 1188.3L1022.3 1184.8L1023.7 1184.9L1025 1188.3L1025 1189.2L1026.4 1188.5L1027.8 1190.3L1029.2 1191.9L1030.6 1190.1L1032 1194.6L1033.4 1194.5L1034.8 1194.2L1036.2 1190.6L1037.5 1189.6L1038.9 1186.7L1040.3 1176.6L1041.7 1161.8L1043.1 1162.7L1043.7 1161.1L1044.5 1156L1045.9 1164.4L1047.3 1172.1L1048.7 1189.3L1050.1 1188.5L1051.5 1192.6L1052.8 1194.1L1054.2 1198L1055.6 1193.9L1057 1198.2L1058.4 1190.8L1059.8 1197.6L1061.2 1194.6L1062.6 1193.7L1064 1194.5L1065.4 1193.9L1066.7 1198L1068.1 1192.5L1069.5 1189.3L1070.9 1194L1072.3 1192.4L1073.7 1193.6L1075.1 1188.8L1076.5 1188.8L1077.9 1188.4L1079.2 1184.7L1080.6 1183.2L1082 1175.5L1083.4 1171.7L1084.8 1165.7L1086.2 1153.1L1087.6 1132.1L1089 1103.4L1090.4 1057.8L1091.8 984.6L1093.2 894.7L1094.5 852.6L1094.9 853.8L1095.9 860.6L1097.3 934.2L1098.7 1017.2L1100.1 1072.9L1101.5 1103.2L1102.9 1116L1104.3 1120.6L1105.7 1116.6L1107 1107.5L1108.4 1081.8L1109.8 1028.7L1111.2 945.7L1112.6 827.5L1114 723.4L1115 722.6L1115.4 717.4L1116.8 765.6L1118.2 899L1119.6 1007.9L1121 1068.3L1122.3 1108.4L1123.7 1136.3L1125.1 1148.2L1126.5 1164.7L1127.9 1168.9L1129.3 1180L1130.7 1181.7L1132.1 1185.4L1133.5 1185.8L1134.9 1190.2L1136.2 1191.5L1137.6 1190.9L1139 1188.6L1140.4 1191.6L1141.8 1190.4L1143.2 1190.4L1144.6 1196.4L1146 1199.2L1147.4 1199.3L1148.8 1197.4L1150.1 1199L1151.5 1198L1152.9 1200.1L1154.3 1198.6L1155.7 1199.1L1157.1 1199.2L1158.5 1197.3L1159.9 1197.8L1161.3 1200.3L1162.7 1199.7L1164 1196.7L1165.4 1192.7L1166.8 1193.3L1168.2 1196.2L1169.6 1196.3L1171 1191.1L1172.4 1187.8L1173.8 1192.9L1175.2 1194.5L1176.5 1190.5L1177.9 1183.3L1179.3 1178.5L1180.7 1171.1L1182.1 1151L1183.5 1129.7L1184.9 1118.5L1185.5 1117.5L1186.3 1113.3L1187.7 1125.6L1189.1 1142.1L1190.5 1145.9L1191.8 1150.5L1193.2 1143.4L1194.6 1121.9L1196 1106.2L1197.2 1104L1197.4 1108.2L1198.8 1114.5L1200.2 1135.6L1201.6 1157.1L1203 1170.5L1204.4 1171.6L1205.7 1181.4L1207.1 1178.1L1208.5 1174.7L1209.9 1169.3L1211.3 1162.1L1212.4 1168.6L1212.7 1165.2L1214.1 1169.3L1215.5 1175.4L1216.9 1179.7L1218.2 1186.3L1219.6 1188.6L1221 1187.6L1222.4 1186.8L1223.8 1188.8L1225.2 1189.7L1226.6 1182.1L1228 1171.1L1229.4 1164.9L1230.8 1151.6L1232.2 1142.6L1233.5 1143.4L1233.5 1136.7L1234.9 1139.5L1236.3 1155.2L1237.7 1172.2L1239.1 1175.3L1240.5 1183.2L1241.9 1192.4L1243.3 1192.1L1244.7 1193.6L1246 1193.9L1247.4 1196.7L1248.8 1192.4L1250.2 1193.4L1251.6 1196.5L1253 1191.9L1254.4 1198.4L1255.8 1195.7L1257.2 1196.9L1258.6 1195.3L1260 1196.5L1261.3 1199.9L1262.7 1195.7L1264.1 1194.3L1265.5 1195.1L1266.9 1194.2L1268.3 1196.3L1269.7 1193.1L1271.1 1189.4L1272.5 1190.3L1273.9 1180.9L1275.2 1168.2L1276.6 1161L1278 1149.6L1279.2 1147.4L1279.4 1149.1L1280.8 1143.9L1282.2 1156.9L1283.6 1174.2L1285 1173.1L1286.4 1169L1287.8 1170.5L1289.1 1152.8L1290.5 1132.7L1291.9 1105.3L1293.3 1083.2L1294.4 1074.6L1294.7 1077.4L1296.1 1094.9L1297.5 1122.9L1298.9 1148.2L1300.3 1161.7L1301.7 1180.3L1303 1185.5L1304.4 1189.7L1305.8 1187.6L1307.2 1196.9L1308.6 1196.1L1310 1197.9L1311.4 1195.2L1312.8 1200.1L1314.2 1203.5L1315.5 1199L1316.9 1198.9L1318.3 1198.2L1319.7 1199.7L1321.1 1196.2L1322.5 1196.3L1323.9 1198.9L1325.3 1197.9L1326.7 1195.7L1328.1 1202.2L1329.5 1197.2L1330.8 1196L1332.2 1185.2L1333.6 1178.6L1335 1172.7L1336.4 1168.1L1336.7 1169L1337.8 1170.7L1339.2 1172L1340.6 1189.8L1342 1187.9L1343.4 1191.8L1344.7 1189.1L1346.1 1189.4L1347.5 1191.7L1348.9 1185.7L1350.3 1182L1351.7 1171L1353.1 1169.2L1353.1 1173.7L1354.5 1170.1L1355.9 1175.7L1357.2 1182.7L1358.6 1186.4L1360 1185.9L1361.4 1178.9L1362.8 1176L1364.2 1157.4L1365.6 1152.2L1366 1159.3L1367 1164.1L1368.4 1169L1369.8 1181.1L1371.2 1189.2L1372.5 1193.3L1373.9 1199.1L1375.3 1200.4L1376.7 1198.9L1378.1 1201.1L1379.5 1205.2L1380.9 1206.7L1382.3 1201.1L1383.7 1200.3L1385 1203.5L1386.4 1202.2L1387.8 1198.4L1389.2 1197.7L1390.6 1198.3L1392 1195.8L1393.4 1201.9L1394.8 1199.3L1396.2 1196.1L1397.6 1196.1L1399 1200.9L1400.3 1199.2L1401.7 1192.7L1403.1 1191.6L1404.5 1190.4L1405.9 1192.6L1407.3 1191.3L1408.7 1189.4L1410.1 1186.6L1411.5 1184L1412.8 1174.7L1414.2 1173.2L1415.6 1170.4L1417 1163.8L1418.4 1146.1L1419.8 1121.6L1421.2 1090.5L1422.6 1046.5L1424 1027.2L1424.6 1031.3L1425.4 1029L1426.8 1052.4L1428.1 1091.1L1429.5 1122.9L1430.9 1146.7L1432.3 1155.4L1433.7 1164.6L1435.1 1167.4L1436.5 1174.2L1437.9 1173.7L1439.3 1174.2L1440.7 1175.3L1442 1176.1L1443.4 1170.8L1444.8 1166.5L1446.2 1148.4L1447.6 1116.3L1449 1043.3L1450.4 918L1451.8 708.1L1453.2 404.1L1454.5 33.5L1455.9 -200L1457.3 -200L1458.7 -200L1459.2 -200L1460.1 -200L1461.5 -200L1462.9 -200L1464.3 127.8L1465.7 484.6L1467.1 766.8L1468.5 946.2L1469.8 1066.3L1471.2 1125.8L1472.6 1150L1474 1163.4L1475.4 1172.1L1476.8 1166L1478.2 1168.9L1479.6 1168.6L1481 1161.9L1482.3 1161.4L1483.7 1156.2L1484.3 1159.2L1485.1 1156L1486.5 1157.6L1487.9 1167.4L1489.3 1168.6L1490.7 1173.9L1492.1 1173.1L1493.5 1180.1L1494.9 1179.7L1496.2 1175.9L1497.6 1174.4L1499 1177.6L1500.4 1171.9L1501.8 1177.9L1503.2 1172.5L1504.6 1168.4L1506 1160.4L1507.4 1151.8L1508.8 1154L1508.9 1156.7L1510.2 1146.3L1511.5 1158.6L1512.9 1161.6L1514.3 1168.6L1515.7 1175.6L1517.1 1179.2L1518.5 1176.8L1519.9 1169.5L1521.3 1165.9L1522.7 1155.2L1524 1142.3L1525.4 1123.9L1526.8 1110.8L1527.7 1108.5L1528.2 1111.9L1529.6 1120.5L1531 1143.7L1532.4 1159.4L1533.8 1169L1535.2 1174.3L1536.6 1180.9L1537.9 1186L1539.3 1183.3L1540.7 1184.6L1542.1 1181.5L1543.5 1171.3L1544.9 1167.2L1546.3 1163.1L1547.6 1165.5L1547.7 1161.9L1549.1 1168.4L1550.5 1173.5L1551.8 1180.8L1553.2 1186.5L1554.6 1187.8L1556 1193L1557.4 1193.8L1558.8 1193.9L1560.2 1188.4L1561.6 1191.4L1563 1191.5L1564.4 1191.3L1565.8 1188.8L1567.1 1183.5L1568.5 1181.3L1569.9 1177.5L1571.3 1169.7L1572.7 1152.6L1574.1 1136L1575.5 1132.7L1575.7 1129.9L1576.9 1132.5L1578.3 1143.2L1579.7 1152L1581 1164.2L1582.4 1166.8L1583.8 1164L1585.2 1142.7L1586.6 1130.6L1588 1130.3L1588.6 1127.9L1589.4 1130.1L1590.8 1141L1592.2 1151.6L1593.5 1168.4L1594.9 1178L1596.3 1182.7L1597.7 1184.9L1599.1 1187.3L1600.5 1190.3L1601.9 1190.7L1603.3 1194.4L1604.7 1192.7L1606.1 1190.7L1607.4 1183L1608.8 1182.2L1610.2 1176.1L1611.6 1164.2L1613 1157.7L1614.4 1138.1L1615.8 1125.3L1616.7 1123.2L1617.2 1122.6L1618.6 1133.2L1620 1147.9L1621.3 1158.1L1622.7 1169.2L1624.1 1166.8L1625.5 1164.8L1626.9 1162.9L1628.3 1151.7L1629.7 1129.9L1631.1 1107.7L1632.5 1095.2L1633.1 1097.6L1633.9 1096.5L1635.2 1106.1L1636.6 1129L1638 1154.3L1639.4 1166.7L1640.8 1172.6L1642.2 1188.2L1643.6 1183.9L1645 1191.1L1646.4 1193.9L1647.8 1194.1L1649.2 1196.3L1650.5 1193.6L1651.9 1192.5L1653.3 1196.7L1654.7 1190.3L1656.1 1193.5L1657.5 1189.4L1658.9 1189.7L1660.3 1180.3L1661.7 1172.7L1663 1155.5L1664.4 1141.5L1665.8 1140.9L1665.9 1142.5L1667.2 1148.2L1668.6 1157.4L1670 1168.8L1671.4 1178.1L1672.8 1186.3L1674.2 1189.4L1675.6 1201.2L1676.9 1200.5L1678.3 1203.7L1679.7 1202.1L1681.1 1202.8L1682.5 1207L1683.9 1198.9L1685.3 1199.8L1686.7 1200.6L1688.1 1200.2L1689.5 1210.9L1690.8 1207.6L1692.2 1205.9L1693.6 1208.4L1695 1205.5L1696.4 1209.9L1697.8 1205.5L1699.2 1204.5L1700.6 1204.4L1702 1205.4L1703.4 1207L1704.8 1207.7L1706.1 1206.9L1707.5 1208L1708.9 1201.9L1710.3 1200.9L1711.7 1207.1L1713.1 1203L1714.5 1206.5L1715.9 1203.5L1717.3 1197.9L1718.7 1190.6L1720 1185.3L1721.4 1171.2L1722.8 1160.2L1724.2 1142.2L1725.6 1135.2L1726.9 1125.8L1727 1128.9L1728.4 1129.7L1729.8 1146.8L1731.2 1161.1L1732.5 1177.6L1733.9 1187.1L1735.3 1194.3L1736.7 1196.1L1738.1 1200.9L1739.5 1198.4L1740.9 1202L1742.3 1203.9L1743.7 1205.7L1745.1 1206.2L1746.4 1204.7L1747.8 1199.4L1749.2 1203.9L1750.6 1205L1752 1209.8L1753.4 1208.8L1754.8 1205.1L1756.2 1209.7L1757.6 1203.2L1759 1205.5L1760.3 1205.9L1761.7 1209.5L1763.1 1206.8L1764.5 1206.8L1765.9 1203L1767.3 1199.9L1768.7 1208.1L1770.1 1202.9L1771.5 1202.6L1772.9 1196.9L1774.2 1199.5L1775.6 1196.9L1777 1187L1778.4 1180.5L1779.8 1175.8L1781.2 1173.2L1781.5 1173.4L1782.6 1174.5L1784 1172.9L1785.4 1185.3L1786.8 1192.8L1788.2 1195.9L1789.5 1199.8L1790.9 1200.9L1792.3 1198.7L1793.7 1204.6L1795.1 1202.5L1796.5 1204.2L1797.9 1200.5L1799.3 1196.4L1800.7 1199.8L1802 1199.4L1803.4 1196.1L1804.8 1198.4L1806.2 1195.3L1807.6 1188.7L1809 1186.3L1810.1 1188.2L1810.4 1187.5L1811.8 1194.7L1813.2 1188.3L1814.6 1196.2L1815.9 1198.1L1817.3 1193.6L1818.7 1199L1820.1 1203.8L1821.5 1198L1822.9 1196.9L1824.3 1196L1825.7 1186.1L1827.1 1186.6L1828.5 1175.2L1829.8 1174.6L1831.2 1170L1832.6 1170.3L1834 1173L1835.4 1184.3L1836.8 1193.7L1838.2 1190.7L1839.6 1190L1841 1186.6L1842.4 1187.4L1843.8 1184.2L1845.1 1182.1L1846.5 1179.9L1846.5 1178.8L1847.9 1175.9L1849.3 1189.9L1850.7 1192.3L1852.1 1190.9L1853.5 1197.9L1854.9 1201L1856.3 1196.5L1857.7 1196.5L1859 1197.5L1860.4 1198.7L1861.8 1192.8L1863.2 1191.5L1864 1189.2L1864.6 1191.3L1866 1190.9L1867.4 1201.1L1868.8 1201.9L1870.2 1202.1L1871.5 1204.9L1872.9 1203.9L1874.3 1208L1875.7 1205.7L1877.1 1205.8L1878.5 1206.9L1879.9 1206.8L1881.3 1206.7L1882.7 1207.5L1884.1 1203.8L1885.4 1207.1L1886.8 1205.6L1888.2 1207.3L1889.6 1207.4L1891 1204.7L1892.4 1202.4L1893.8 1205.1L1895.2 1205.5L1896.6 1204.2L1898 1211.8L1899.3 1207.8L1900.7 1209.5L1902.1 1208.5L1903.5 1206.6L1904.9 1199.6L1906.3 1200.1L1907.7 1200.2L1909.1 1195.1L1910.5 1191.7L1911.9 1185L1913.2 1189.2L1914.6 1180L1916 1183L1917.4 1183.4L1918.8 1188.9L1920.2 1183.3L1921.6 1184.3L1923 1173.1L1924.4 1166L1925.8 1144.3L1927.2 1125L1928.5 1113L1929.2 1116.5L1929.9 1120.8L1931.3 1128.9L1932.7 1143.5L1934.1 1161.2L1935.5 1179.3L1936.9 1189.2L1938.3 1192L1939.7 1196.2L1941 1196.1L1942.4 1194.1L1943.8 1197.5L1945.2 1197.4L1946.6 1197.7L1948 1190.2L1949.4 1183.8L1950.8 1178.2L1952.2 1161.5L1953.6 1161.8L1954.3 1158.6L1954.9 1157.7L1956.3 1165.2L1957.7 1170.6L1959.1 1183.3L1960.5 1182.6L1961.9 1196.6L1963.3 1195.9L1964.7 1197.9L1966.1 1201.4L1967.5 1198.2L1968.8 1198L1970.2 1190.6L1971.6 1195.5L1973 1182.8L1974.4 1175.6L1975.8 1170.5L1977.2 1170L1977.7 1170.5L1978.6 1166.8L1980 1178.6L1981.4 1177.7L1982.8 1181.9L1984.1 1187.3L1985.5 1185.6L1986.9 1185.3L1988.3 1180.8L1989.7 1171.2L1991.1 1163L1992.5 1153.9L1993.9 1133.3L1995.3 1122.2L1996.7 1114.5L1997.1 1114.9L1998 1113.6L1999.4 1127.5L2000.8 1142.5L2002.2 1160.5L2003.6 1168.5L2005 1175.1L2006.4 1178.4L2007.8 1182.5L2009.2 1186.1L2010.5 1186.2L2011.9 1179.8L2013.3 1180.3L2014.7 1177.5L2016.1 1175.6L2017.5 1165.7L2018.9 1161.1L2020.3 1143.6L2021.7 1128.4L2023.1 1114.4L2024.4 1114L2024.6 1109.5L2025.8 1113.6L2027.2 1126L2028.6 1143.2L2030 1157.6L2031.4 1168.5L2032.8 1173.7L2034.2 1181.5L2035.6 1179.2L2037 1182.1L2038.3 1181.1L2039.7 1178.8L2041.1 1182.3L2042.5 1181L2043.9 1172.5L2045.3 1164.5L2046.7 1150.9L2048.1 1145.3L2049.2 1144.3L2049.5 1149.8L2050.9 1151L2052.2 1155.3L2053.6 1159.8L2055 1168L2056.4 1169L2057.8 1173.1L2059.2 1166L2060.6 1165.3L2062 1151.3L2063.4 1150.6L2064.4 1147.8L2064.8 1149.7L2066.2 1157.1L2067.5 1154.5L2068.9 1161.3L2070.3 1166.1L2071.7 1169.1L2073.1 1166.4L2074.5 1167.1L2075.9 1156.2L2076.1 1160.9L2077.3 1158L2078.7 1155.4L2080.1 1164.2L2081.4 1161.8L2082.8 1156.7L2084.2 1143L2085.6 1144.2L2086.2 1143.8L2087 1144.7L2088.4 1150.3L2089.8 1158.6L2091.2 1169.2L2092.6 1178.1L2093.9 1184.8L2095.3 1183.8L2096.7 1180.7L2098.1 1180.7L2099.5 1182.6L2100.7 1182L2100.9 1182L2102.3 1182.4L2103.7 1188.1L2105.1 1193.5L2106.5 1191.5L2107.8 1190.9L2109.2 1192.8L2110.6 1194.6L2112 1194.6L2113.4 1191.4L2114.8 1187L2116.2 1181.4L2117.2 1180.2L2117.6 1180.8L2119 1182.9L2119.5 1180.8L2120.4 1181.5L2121.8 1186.6L2123.1 1186.6L2124.5 1189.1L2125.9 1196.1L2127.3 1197L2128.7 1197.8L2130.1 1195.5L2131.5 1199.5L2132.9 1197.6L2134.3 1200.8L2135.7 1203.7L2137 1195L2138.4 1202.9L2139.8 1197.1L2141.2 1202.8L2142.6 1200.2L2144 1196.3L2145.4 1200.5L2146.8 1196.8L2148.2 1195.8L2149.6 1196.8L2150.9 1196.5L2152.3 1188.4L2153.7 1189.7L2154.6 1192.5L2154.7 1189.2L2155.1 1193.4L2156.5 1192.9L2157.9 1194L2159.3 1204.6L2160.7 1191.6L2162.1 1203.2L2163.4 1197.2L2164.8 1203.2L2166.2 1202.3L2167.6 1199.2L2169 1201.2L2170.4 1195.3L2171.8 1198.1L2173.2 1199.6L2173.4 1198.3L2174.6 1200.1L2176 1203.5L2177.3 1200L2178.7 1205.3L2180.1 1199.8L2181.5 1202.8L2182.9 1207.4L2184.3 1202.2L2185.7 1204.1L2187.1 1202.8L2188.5 1204.1L2189.8 1207.4L2189.9 1205.2L2191.2 1207.2L2192.6 1205.3L2194 1202.1L2195.4 1204.6L2196.8 1203.4L2198.2 1199.9L2199.6 1204.5L2201 1202.8L2202.4 1194.1L2203.8 1188.7L2205.2 1184.4L2206.5 1178.8L2207.9 1185.2L2208.1 1179.7L2209.3 1181.1L2210.7 1185.8L2212.1 1187L2213.5 1195.2L2214.9 1202.2L2216.3 1202.7L2217.7 1202.9L2219.1 1208.4L2220.4 1207.5L2221.8 1210.9L2223.2 1208.6L2224.6 1204.2L2226 1207.2L2227.4 1205L2228.8 1210.9L2230.2 1206.7L2231.6 1206.5L2232.9 1207.1L2234.3 1203.5L2235.7 1208.2L2237.1 1199.1L2238.5 1202.6L2239.9 1197.3L2240.2 1196.4L2241.3 1205.6L2242.7 1203.6L2244.1 1204.7L2245.5 1210L2246.8 1210.4L2248.2 1210.2L2249.6 1211.2L2251 1213.6L2252.4 1212.5L2253.8 1211.1L2255.2 1214.3L2256.6 1212L2258 1214.2L2259.4 1218L2260.8 1209.7L2262.1 1211.6L2263.5 1211.5L2264.9 1215.5L2266.3 1216L2267.7 1208.9L2269.1 1217.7L2270.5 1215.7L2271.9 1214.1L2273.3 1216.3L2274.7 1214L2276 1218.1L2277.4 1220.9L2278.8 1214.5L2280.2 1219.2L2281.6 1217.6L2283 1215L2284.4 1215.2L2285.8 1211.8L2287.2 1216.2L2288.6 1212.2L2289.9 1211L2291.3 1206.1L2292.7 1209.4L2294.1 1203L2295.3 1207.7L2295.5 1202.6L2296.9 1204.4L2298.3 1212.7L2299.7 1209.3L2301.1 1215.6L2302.4 1211.6L2303.8 1212.6L2305.2 1209.2L2306.6 1213.1L2308 1207.9L2309.4 1208L2310.8 1202.2L2312.2 1202.3L2312.8 1205L2313.6 1206.6L2315 1204.3L2316.3 1210.8L2317.7 1212.2L2319.1 1213.6L2320.5 1216.5L2321.9 1221.1L2323.3 1212.8L2324.7 1212.4L2326.1 1216.6L2327.5 1216.3L2328.9 1216.6L2330.2 1214.2L2331.6 1219.4L2333 1219L2334.4 1214.9L2335.8 1220.1L2337.2 1214.1L2338.6 1219.5L2340 1217L2341.4 1219.2L2342.8 1212.7L2344.2 1208.3L2345.5 1208.4L2346.8 1214.1L2346.9 1208.3L2348.3 1204.8L2349.7 1205.4L2351.1 1212.3L2352.5 1213.8L2353.9 1209.9L2355.3 1212.2L2356.7 1213.7L2358.1 1212.1" stroke="#008000"/>
<path d="M1449 1102.6L1449 1043.3L1450.4 918L1451.8 708.1L1453.2 404.1L1454.5 33.5L1455.9 -200L1457.3 -200L1458.7 -200L1459.2 -200L1460.1 -200L1461.5 -200L1462.9 -200L1464.3 127.8L1465.7 484.6L1467.1 766.8L1468.5 946.2L1468.5 1102.6Z" stroke="none" fill="#008000"/>
<path d="M446.8 755.1L448.2 757.1L449.6 764.1L451 771.3L452.4 779.6L453.8 791.2L455.1 798.3L456.5 804.5L457.9 809.3L459.3 810.6L460.7 812L462.1 814.7L463.5 821.4L464.9 822.2L466.3 828.4L467.6 825.6L469 824L470.4 829.5L471.8 827.9L473.2 826.4L474.6 826.9L476 833.7L477.4 837.1L478.8 837.5L480.2 838.5L481.6 835.3L482.9 832.1L484.3 827.5L485.7 822.9L487.1 819.3L488.5 815.8L489.9 810.6L491.3 806.3L492.7 803.6L494.1 802.2L495.5 800L496.8 795.3L498.2 798.5L499.6 790.5L501 784.8L502.4 774.9L503.8 771.9L505.2 766.2L506.6 759.1L508 756L509.4 760.2L510.7 761.5L512.1 766.6L513.5 773.8L514.9 778.7L516.3 782.2L517.7 790.7L519.1 801.4L520.5 809.5L521.9 820.8L523.2 832.1L524.6 845.8L526 856.6L527.4 866.7L528.8 878L530.2 891.2L531.6 894L533 905.5L534.4 917.1L535.8 927.7L537.1 937.2L538.5 940.9L539.9 950.4L541.3 954.9L542.7 962.9L544.1 972.7L545.5 976.2L546.9 980.1L548.3 985.1L549.7 988.4L551 994.8L552.4 996.6L553.8 1001.7L555.2 1006L556.6 1013.8L558 1014.4L559.4 1021.3L560.8 1030.4L562.2 1034L563.6 1041.6L565 1047.8L566.3 1049.8L567.7 1056L569.1 1061L570.5 1058L571.9 1065.1L573.3 1066.7L574.7 1072.9L576.1 1069.7L577.5 1074.3L578.9 1076L580.2 1079.2L581.6 1078.6L583 1075.2L584.4 1081L585.8 1078.3L587.2 1080.8L588.6 1078.9L590 1081.8L591.4 1087.4L592.8 1089.6L594.1 1090.7L595.5 1091.4L596.9 1089.4L598.3 1091.1L599.7 1095.6L601.1 1095.5L602.5 1096L603.9 1101.1L605.3 1097.8L606.6 1097.2L608 1101.7L609.4 1097.3L610.8 1100.6L612.2 1103.5L613.6 1105.1L615 1106.9L616.4 1104.3L617.8 1110.5L619.2 1110L620.5 1113.1L621.9 1113.2L623.3 1115.5L624.7 1110.9L626.1 1112.5L627.5 1110.8L628.9 1113.1L630.3 1113.2L631.7 1114.6L633.1 1122.3L634.5 1115.5L635.8 1115.1L637.2 1115.8L638.6 1115.9L640 1114.9L641.4 1122.8L642.8 1119.7L644.2 1122.5L645.6 1122.1L647 1122.8L648.4 1128.2L649.7 1123.7L651.1 1122.8L652.5 1124.3L653.9 1123.4L655.3 1126.6L656.7 1125.5L658.1 1125.5L659.5 1127L660.9 1122.7L662.2 1127.4L663.6 1128.3L665 1125.6L666.4 1130.8L667.8 1133.5L669.2 1128.8L670.6 1134.1L672 1132.2L673.4 1134.3L674.8 1136.9L676.1 1136.8L677.5 1135.7L678.9 1135L680.3 1136.1L681.7 1137.7L683.1 1140.7L684.5 1140.8L685.9 1140.4L687.3 1140.2L688.7 1137.3L690 1138.6L691.4 1141.1L692.8 1136.1L694.2 1143.3L695.6 1133.6L697 1138.8L698.4 1141.2L699.8 1142.7L701.2 1146.4L702.6 1139.6L704 1142.3L705.3 1139L706.7 1134.9L708.1 1136.6L709.5 1136.7L710.9 1139.1L712.3 1143.6L713.7 1136.5L715.1 1141.8L716.5 1146.5L717.9 1141.4L719.2 1145.1L720.6 1140.9L722 1145.9L723.4 1140.4L724.8 1145.1L726.2 1141.1L727.6 1141.4L729 1142.1L730.4 1144.4L731.8 1143.5L733.1 1144.2L734.5 1143.4L735.9 1138.3L737.3 1140.6L738.7 1141.2L740.1 1143L741.5 1142.3L742.9 1143.9L744.3 1143.8L745.6 1143.5L747 1145L748.4 1142.4L749.8 1143L751.2 1142.9L752.6 1142.4L754 1145.9L755.4 1143.2L756.8 1143.7L758.2 1144.3L759.5 1147.6L760.9 1146.8L762.3 1146L763.7 1145.4L765.1 1148L766.5 1142.2L767.9 1141.9L769.3 1143.2L770.7 1141.8L772.1 1147.2L773.5 1146.8L774.8 1145.1L776.2 1145.9L777.6 1144.7L779 1146.6L780.4 1142.5L781.8 1143.8L783.2 1147.2L784.6 1152.4L786 1146.8L787.4 1147.8L788.7 1145.9L790.1 1148L791.5 1149.5L792.9 1146.3L794.3 1148.8L795.7 1146.9L797.1 1147.6L798.5 1151.7L799.9 1148L801.2 1149.1L802.6 1147.4L804 1148.3L805.4 1152.2L806.8 1151.9L808.2 1153.7L809.6 1147.4L811 1147.4L812.4 1149.3L813.8 1151.2L815.1 1150.7L816.5 1152.9L817.9 1154.6L819.3 1152.7L820.7 1151.2L822.1 1151.7L823.5 1153.4L824.9 1152.1L826.3 1153.3L827.7 1150.8L829 1150.4L830.4 1150L831.8 1152.2L833.2 1154.6L834.6 1154L836 1150L837.4 1152.6L838.8 1152.3L840.2 1151.3L841.6 1152.6L843 1156.3L844.3 1149.8L845.7 1154.3L847.1 1154.7L848.5 1150.9L849.9 1146L851.3 1156.7L852.7 1151.1L854.1 1149.7L855.5 1151.7L856.9 1152.2L858.2 1150.1L859.6 1151.6L861 1148.5L862.4 1154.8L863.8 1154.7L865.2 1153.6L866.6 1153.4L868 1152.3L869.4 1153.9L870.8 1154.9L872.1 1156.2L873.5 1152.2L874.9 1155.5L876.3 1149.3L877.7 1150.7L879.1 1148.4L880.5 1153.3L881.9 1153.5L883.3 1149.6L884.7 1151.8L886 1153.2L887.4 1149.6L888.8 1154.6L890.2 1152.8L891.6 1151L893 1151.2L894.4 1158.7L895.8 1152.9L897.2 1148.7L898.5 1153.4L899.9 1153.7L901.3 1154.5L902.7 1152.9L904.1 1153L905.5 1151.1L906.9 1148.7L908.3 1154.9L909.7 1152.7L911.1 1148.4L912.5 1151.8L913.8 1148.2L915.2 1153.8L916.6 1155L918 1151L919.4 1152L920.8 1148.5L922.2 1150.9L923.6 1149.2L925 1149L926.4 1147.2L927.7 1149.5L929.1 1150L930.5 1149.1L931.9 1149.8L933.3 1153.3L934.7 1152.1L936.1 1152.8L937.5 1153.1L938.9 1151.4L940.2 1151.5L941.6 1147.2L943 1148L944.4 1143.1L945.8 1147.9L947.2 1149.4L948.6 1149L950 1149L951.4 1151.7L952.8 1144.6L954.2 1145.1L955.5 1148.8L956.9 1146.5L958.3 1149L959.7 1148.8L961.1 1149.8L962.5 1146.2L963.9 1145.2L965.3 1150.6L966.7 1146.2L968 1142.4L969.4 1147.1L970.8 1150.5L972.2 1148.2L973.6 1146.1L975 1146.4L976.4 1146L977.8 1143.8L979.2 1148.8L980.6 1145.5L982 1148.4L983.3 1149.3L984.7 1149.1L986.1 1146.3L987.5 1145.2L988.9 1149.3L990.3 1145.8L991.7 1147.9L993.1 1142.4L994.5 1144.8L995.9 1145.4L997.2 1147.5L998.6 1142.4L1000 1141.9L1001.4 1147.1L1002.8 1147.2L1004.2 1142.2L1005.6 1144L1007 1147.8L1008.4 1146.8L1009.8 1143.5L1011.1 1147.4L1012.5 1144.2L1013.9 1142.1L1015.3 1146.2L1016.7 1145.5L1018.1 1146.8L1019.5 1143.6L1020.9 1141.7L1022.3 1144.1L1023.7 1137.2L1025 1143.6L1026.4 1141.6L1027.8 1142.2L1029.2 1140.4L1030.6 1141.3L1032 1142.1L1033.4 1143.2L1034.8 1142.5L1036.2 1147.8L1037.5 1145L1038.9 1141.7L1040.3 1140.5L1041.7 1140.8L1043.1 1143.8L1044.5 1144.3L1045.9 1143.4L1047.3 1141.9L1048.7 1140.7L1050.1 1141.2L1051.5 1143.1L1052.8 1140.7L1054.2 1141.2L1055.6 1140.2L1057 1141.4L1058.4 1143.7L1059.8 1144.1L1061.2 1139.8L1062.6 1145.7L1064 1145.7L1065.4 1141.2L1066.7 1145.9L1068.1 1138.7L1069.5 1142.6L1070.9 1140.8L1072.3 1140.2L1073.7 1142.9L1075.1 1142.1L1076.5 1140.9L1077.9 1141.9L1079.2 1142.4L1080.6 1142L1082 1141.3L1083.4 1142.7L1084.8 1139.3L1086.2 1137.4L1087.6 1143L1089 1139.3L1090.4 1139.9L1091.8 1138.8L1093.2 1138.8L1094.5 1139.2L1095.9 1143.2L1097.3 1139.6L1098.7 1141.3L1100.1 1143L1101.5 1141.3L1102.9 1138.8L1104.3 1138.5L1105.7 1135.9L1107 1136.7L1108.4 1136L1109.8 1132.8L1111.2 1136.8L1112.6 1139.2L1114 1137.7L1115.4 1140.1L1116.8 1140.3L1118.2 1140.4L1119.6 1139.3L1121 1137.6L1122.3 1139.5L1123.7 1135.4L1125.1 1132.7L1126.5 1136L1127.9 1137L1129.3 1139.4L1130.7 1141.6L1132.1 1137.6L1133.5 1136.4L1134.9 1138.7L1136.2 1137.2L1137.6 1130.8L1139 1135.8L1140.4 1140.1L1141.8 1134.6L1143.2 1134.8L1144.6 1136.4L1146 1135.5L1147.4 1135.6L1148.8 1137.9L1150.1 1132.2L1151.5 1130L1152.9 1129.6L1154.3 1135.8L1155.7 1137.9L1157.1 1134.3L1158.5 1138.9L1159.9 1134.2L1161.3 1137L1162.7 1137.2L1164 1136L1165.4 1135.1L1166.8 1138.8L1168.2 1139.3L1169.6 1135.4L1171 1136.4L1172.4 1138.6L1173.8 1137.3L1175.2 1135.4L1176.5 1134.7L1177.9 1137.9L1179.3 1140.4L1180.7 1137.1L1182.1 1134.8L1183.5 1137.6L1184.9 1134.6L1186.3 1135L1187.7 1132.7L1189.1 1136.3L1190.5 1141.6L1191.8 1135.3L1193.2 1133.4L1194.6 1136.2L1196 1131.4L1197.4 1135.4L1198.8 1135.3L1200.2 1134L1201.6 1133.8L1203 1132.9L1204.4 1135.6L1205.7 1140.4L1207.1 1134.5L1208.5 1137.1L1209.9 1137L1211.3 1132.1L1212.7 1134.6L1214.1 1135.3L1215.5 1138.2L1216.9 1133L1218.2 1133.9L1219.6 1131.7L1221 1135L1222.4 1132.9L1223.8 1136.6L1225.2 1133.8L1226.6 1140.2L1228 1132.6L1229.4 1136.3L1230.8 1133.3L1232.2 1132.4L1233.5 1130.1L1234.9 1135L1236.3 1133L1237.7 1130.1L1239.1 1132.4L1240.5 1132.9L1241.9 1136.1L1243.3 1136.9L1244.7 1133.2L1246 1133.9L1247.4 1135.4L1248.8 1139.3L1250.2 1137L1251.6 1133.7L1253 1130.8L1254.4 1133.7L1255.8 1132.3L1257.2 1132L1258.6 1131.7L1260 1131.1L1261.3 1130.3L1262.7 1131.4L1264.1 1132.6L1265.5 1135.3L1266.9 1132.6L1268.3 1134.1L1269.7 1128.8L1271.1 1131.9L1272.5 1132.3L1273.9 1132.8L1275.2 1133.6L1276.6 1133.1L1278 1133.6L1279.4 1133.3L1280.8 1132.7L1282.2 1137.1L1283.6 1131L1285 1131.7L1286.4 1130.8L1287.8 1135.3L1289.1 1131.6L1290.5 1128.2L1291.9 1130.7L1293.3 1133.3L1294.7 1133.1L1296.1 1132.7L1297.5 1136.5L1298.9 1132.4L1300.3 1132.4L1301.7 1131.4L1303 1130.4L1304.4 1136.4L1305.8 1133.7L1307.2 1132.4L1308.6 1135.8L1310 1134.2L1311.4 1129.3L1312.8 1131.3L1314.2 1130.6L1315.5 1133.4L1316.9 1127.8L1318.3 1130.2L1319.7 1129L1321.1 1132.6L1322.5 1136.6L1323.9 1131.3L1325.3 1130.5L1326.7 1131L1328.1 1126.9L1329.5 1134.4L1330.8 1132.9L1332.2 1129.6L1333.6 1130.9L1335 1131.1L1336.4 1133.5L1337.8 1131.6L1339.2 1127.5L1340.6 1128.9L1342 1126.4L1343.4 1133L1344.7 1131.4L1346.1 1126.9L1347.5 1128.5L1348.9 1130L1350.3 1127L1351.7 1130.7L1353.1 1129.6L1354.5 1126.4L1355.9 1126.2L1357.2 1129.5L1358.6 1125.4L1360 1127.5L1361.4 1127.2L1362.8 1132.1L1364.2 1129.1L1365.6 1130.2L1367 1127L1368.4 1128.2L1369.8 1130.8L1371.2 1128.2L1372.5 1127.2L1373.9 1126.6L1375.3 1125.9L1376.7 1127.5L1378.1 1126.3L1379.5 1129.9L1380.9 1124.8L1382.3 1124L1383.7 1122.2L1385 1130.8L1386.4 1128.1L1387.8 1128.3L1389.2 1125.3L1390.6 1125.4L1392 1126.4L1393.4 1127L1394.8 1119.7L1396.2 1127.3L1397.6 1122.4L1399 1127.2L1400.3 1128.5L1401.7 1123.7L1403.1 1121.7L1404.5 1125.6L1405.9 1123L1407.3 1123.9L1408.7 1125.3L1410.1 1127L1411.5 1123.3L1412.8 1125.2L1414.2 1125.6L1415.6 1125.3L1417 1124.7L1418.4 1124L1419.8 1124.1L1421.2 1122.9L1422.6 1119.3L1424 1123.6L1425.4 1122.3L1426.8 1126.8L1428.1 1122.9L1429.5 1125.2L1430.9 1123.7L1432.3 1124.6L1433.7 1118.5L1435.1 1121.1L1436.5 1119.4L1437.9 1123L1439.3 1127.4L1440.7 1124.5L1442 1123.5L1443.4 1121.2L1444.8 1118.6L1446.2 1121.7L1447.6 1120.5L1449 1121.2L1450.4 1121.1L1451.8 1123.4L1453.2 1120.7L1454.5 1124.9L1455.9 1118.9L1457.3 1120.6L1458.7 1116.6L1460.1 1117.9L1461.5 1123.9L1462.9 1118.1L1464.3 1118.4L1465.7 1119.1L1467.1 1118.2L1468.5 1117.2L1469.8 1119.9L1471.2 1120L1472.6 1118.7L1474 1119.2L1475.4 1114L1476.8 1122.8L1478.2 1118.2L1479.6 1115.8L1481 1119.4L1482.3 1116.7L1483.7 1120.2L1485.1 1118.5L1486.5 1117.6L1487.9 1121.7L1489.3 1120L1490.7 1121.2L1492.1 1119.7L1493.5 1116.8L1494.9 1115.9L1496.2 1119.9L1497.6 1119.2L1499 1120.8L1500.4 1113.4L1501.8 1115.5L1503.2 1113.4L1504.6 1115.9L1506 1113.6L1507.4 1114L1508.8 1116.8L1510.2 1113.3L1511.5 1116.4L1512.9 1118.4L1514.3 1119L1515.7 1117.8L1517.1 1111.2L1518.5 1110.9L1519.9 1112.9L1521.3 1116.9L1522.7 1112.8L1524 1114.2L1525.4 1114.7L1526.8 1114.3L1528.2 1115.3L1529.6 1115L1531 1112L1532.4 1111.8L1533.8 1109.1L1535.2 1110.1L1536.6 1108.1L1537.9 1111.8L1539.3 1109.7L1540.7 1111.6L1542.1 1109.5L1543.5 1113.3L1544.9 1111.7L1546.3 1108.8L1547.7 1107.9L1549.1 1109.7L1550.5 1111.4L1551.8 1110.7L1553.2 1111.8L1554.6 1110.3L1556 1111.3L1557.4 1110.5L1558.8 1108.2L1560.2 1111.1L1561.6 1107.8L1563 1111.6L1564.4 1109.5L1565.8 1106.4L1567.1 1114.4L1568.5 1103.6L1569.9 1112.5L1571.3 1107.6L1572.7 1111.5L1574.1 1110.4L1575.5 1109.3L1576.9 1109.1L1578.3 1111.6L1579.7 1105.6L1581 1108.4L1582.4 1108.8L1583.8 1106.1L1585.2 1104L1586.6 1108.6L1588 1109.6L1589.4 1107.4L1590.8 1107.5L1592.2 1108.6L1593.5 1105.9L1594.9 1106.9L1596.3 1107.8L1597.7 1109.5L1599.1 1106.3L1600.5 1107.8L1601.9 1109.2L1603.3 1110.4L1604.7 1108.2L1606.1 1104.7L1607.4 1108.6L1608.8 1107.3L1610.2 1106.9L1611.6 1107.1L1613 1108.1L1614.4 1108.3L1615.8 1107.4L1617.2 1105.1L1618.6 1109.2L1620 1108.4L1621.3 1103.3L1622.7 1108.9L1624.1 1107.2L1625.5 1104.6L1626.9 1108.3L1628.3 1103.7L1629.7 1106.9L1631.1 1107.3L1632.5 1106.8L1633.9 1106.8L1635.2 1107.6L1636.6 1105.4L1638 1104.6L1639.4 1110.2L1640.8 1103.2L1642.2 1104.4L1643.6 1104.5L1645 1108.8L1646.4 1103.1L1647.8 1107.5L1649.2 1106L1650.5 1105.2L1651.9 1102.5L1653.3 1107.4L1654.7 1107.5L1656.1 1105.7L1657.5 1106.3L1658.9 1109.5L1660.3 1111.3L1661.7 1108.7L1663 1103.9L1664.4 1108.9L1665.8 1107.4L1667.2 1105.2L1668.6 1104.4L1670 1107.5L1671.4 1109L1672.8 1105.7L1674.2 1107.8L1675.6 1106.4L1676.9 1104.2L1678.3 1104.9L1679.7 1104.3L1681.1 1105.9L1682.5 1107.7L1683.9 1105.1L1685.3 1104.5L1686.7 1109.2L1688.1 1105.3L1689.5 1110.4L1690.8 1104L1692.2 1107.2L1693.6 1105.7L1695 1108.4L1696.4 1106L1697.8 1108.1L1699.2 1104.9L1700.6 1102.1L1702 1101.5L1703.4 1104.1L1704.8 1104.4L1706.1 1105.8L1707.5 1107.4L1708.9 1107.8L1710.3 1105.1L1711.7 1103.4L1713.1 1103.2L1714.5 1103.3L1715.9 1107.1L1717.3 1103.2L1718.7 1106.2L1720 1105.5L1721.4 1098.6L1722.8 1106.4L1724.2 1103.3L1725.6 1104.8L1727 1110.9L1728.4 1108.6L1729.8 1109.2L1731.2 1104.1L1732.5 1103.4L1733.9 1105.2L1735.3 1105.2L1736.7 1108.5L1738.1 1106.5L1739.5 1104.4L1740.9 1105.6L1742.3 1107.5L1743.7 1104.8L1745.1 1104.9L1746.4 1100.3L1747.8 1101.7L1749.2 1102.6L1750.6 1103.7L1752 1102.9L1753.4 1099.4L1754.8 1098.2L1756.2 1104.9L1757.6 1100.9L1759 1101.9L1760.3 1100.8L1761.7 1102L1763.1 1101.3L1764.5 1105L1765.9 1103.7L1767.3 1100L1768.7 1099.6L1770.1 1102.4L1771.5 1099.4L1772.9 1103.5L1774.2 1099.8L1775.6 1103.8L1777 1103.5L1778.4 1101.5L1779.8 1100.3L1781.2 1102.1L1782.6 1106.3L1784 1102.4L1785.4 1102L1786.8 1097L1788.2 1097.6L1789.5 1097.3L1790.9 1102.9L1792.3 1099.3L1793.7 1099.2L1795.1 1100.5L1796.5 1096.6L1797.9 1099.5L1799.3 1095.4L1800.7 1097.8L1802 1097.1L1803.4 1097.1L1804.8 1101.6L1806.2 1100.2L1807.6 1101.1L1809 1096.2L1810.4 1098.3L1811.8 1102.2L1813.2 1098.2L1814.6 1097.3L1815.9 1095.9L1817.3 1102.7L1818.7 1097L1820.1 1096.3L1821.5 1096.1L1822.9 1094.4L1824.3 1094.8L1825.7 1101L1827.1 1099.9L1828.5 1100.1L1829.8 1094.7L1831.2 1097.6L1832.6 1099.5L1834 1095.1L1835.4 1092.9L1836.8 1097L1838.2 1095.7L1839.6 1098.2L1841 1094.5L1842.4 1094.5L1843.8 1097.2L1845.1 1097.2L1846.5 1092.3L1847.9 1095.1L1849.3 1094.5L1850.7 1094.4L1852.1 1098.9L1853.5 1094.5L1854.9 1096.4L1856.3 1095.7L1857.7 1098.6L1859 1097.5L1860.4 1091.9L1861.8 1096.1L1863.2 1093.6L1864.6 1097.1L1866 1098.3L1867.4 1092.5L1868.8 1096.3L1870.2 1096.4L1871.5 1093.4L1872.9 1095.6L1874.3 1093.2L1875.7 1094L1877.1 1092.7L1878.5 1096.9L1879.9 1094.7L1881.3 1090.4L1882.7 1093.9L1884.1 1095.6L1885.4 1093.3L1886.8 1094.3L1888.2 1098.5L1889.6 1095.2L1891 1092.1L1892.4 1092.4L1893.8 1091.1L1895.2 1091.1L1896.6 1092.6L1898 1090L1899.3 1092.1L1900.7 1092.9L1902.1 1091.1L1903.5 1092.9L1904.9 1091.5L1906.3 1094.5L1907.7 1093.4L1909.1 1096.2L1910.5 1093.7L1911.9 1089.6L1913.2 1092.9L1914.6 1089.5L1916 1087.8L1917.4 1092.8L1918.8 1093.9L1920.2 1088.4L1921.6 1092.6L1923 1096.4L1924.4 1091.8L1925.8 1092.4L1927.2 1089.8L1928.5 1090.4L1929.9 1095.4L1931.3 1089.5L1932.7 1090.6L1934.1 1092.4L1935.5 1089.4L1936.9 1094.9L1938.3 1091.5L1939.7 1088.9L1941 1090.8L1942.4 1090.7L1943.8 1088.1L1945.2 1086L1946.6 1088L1948 1087.4L1949.4 1087.5L1950.8 1091.6L1952.2 1083.8L1953.6 1091.8L1954.9 1091.6L1956.3 1088.8L1957.7 1090.3L1959.1 1092.9L1960.5 1089.1L1961.9 1087L1963.3 1084.7L1964.7 1094.5L1966.1 1087.8L1967.5 1087L1968.8 1089.1L1970.2 1089L1971.6 1087.7L1973 1087.2L1974.4 1088.5L1975.8 1085.8L1977.2 1092.7L1978.6 1091.5L1980 1091.1L1981.4 1087.1L1982.8 1091L1984.1 1087.2L1985.5 1092.3L1986.9 1082L1988.3 1087.2L1989.7 1086.9L1991.1 1088.8L1992.5 1087.1L1993.9 1084.6L1995.3 1087.5L1996.7 1088.2L1998 1083.1L1999.4 1085.6L2000.8 1086.3L2002.2 1084.4L2003.6 1087.7L2005 1084.4L2006.4 1082.7L2007.8 1085.6L2009.2 1087.9L2010.5 1090L2011.9 1086.3L2013.3 1078.9L2014.7 1086.3L2016.1 1082.1L2017.5 1083.5L2018.9 1083.2L2020.3 1086.4L2021.7 1085L2023.1 1086.7L2024.4 1084.7L2025.8 1085.2L2027.2 1089.4L2028.6 1085.4L2030 1087L2031.4 1084.6L2032.8 1088.5L2034.2 1086.2L2035.6 1083.6L2037 1081.9L2038.3 1083.9L2039.7 1084.1L2041.1 1084.4L2042.5 1080.1L2043.9 1080L2045.3 1082.2L2046.7 1081.3L2048.1 1082.7L2049.5 1084.2L2050.9 1081.9L2052.2 1081.4L2053.6 1084.9L2055 1077.2L2056.4 1082.2L2057.8 1080.2L2059.2 1084.7L2060.6 1087.7L2062 1081.2L2063.4 1082.6L2064.8 1078.2L2066.2 1083.7L2067.5 1083.6L2068.9 1082.5L2070.3 1082.6L2071.7 1079L2073.1 1075.2L2074.5 1087.1L2075.9 1081.1L2077.3 1080.8L2078.7 1079.9L2080.1 1078.5L2081.4 1079.4L2082.8 1078.6L2084.2 1082.5L2085.6 1084.6L2087 1080.9L2088.4 1082L2089.8 1078.8L2091.2 1080.3L2092.6 1080L2093.9 1082.6L2095.3 1083L2096.7 1083.9L2098.1 1078.7L2099.5 1081.8L2100.9 1080.7L2102.3 1084.4L2103.7 1080.8L2105.1 1076.3L2106.5 1083.3L2107.8 1082.6L2109.2 1086L2110.6 1081.1L2112 1080.6L2113.4 1085L2114.8 1079.5L2116.2 1077.2L2117.6 1082.5L2119 1082.4L2120.4 1080.9L2121.8 1074.8L2123.1 1082L2124.5 1074.1L2125.9 1075.4L2127.3 1080L2128.7 1078.6L2130.1 1078.9L2131.5 1078L2132.9 1074.7L2134.3 1079.4L2135.7 1081.8L2137 1080.1L2138.4 1075.2L2139.8 1080L2141.2 1081.4L2142.6 1080.1L2144 1081.7L2145.4 1077.3L2146.8 1080.4L2148.2 1077.5L2149.6 1081L2150.9 1080.2L2152.3 1078.2L2153.7 1077.7L2155.1 1083.2L2156.5 1081.4L2157.9 1079.7L2159.3 1084.7L2160.7 1083.7L2162.1 1082.4L2163.4 1079.8L2164.8 1081L2166.2 1079.2L2167.6 1079.4L2169 1080.9L2170.4 1074.5L2171.8 1080.2L2173.2 1077.4L2174.6 1076L2176 1081L2177.3 1075.9L2178.7 1077.3L2180.1 1081.7L2181.5 1083.5L2182.9 1076.3L2184.3 1075.8L2185.7 1077.7L2187.1 1083.1L2188.5 1083.1L2189.9 1084L2191.2 1082L2192.6 1076.5L2194 1076.4L2195.4 1071.7L2196.8 1076.1L2198.2 1078L2199.6 1080.1L2201 1080.7L2202.4 1082.2L2203.8 1079.3L2205.2 1074.2L2206.5 1080.1L2207.9 1079.7L2209.3 1078.1L2210.7 1079.7L2212.1 1079.5L2213.5 1078.9L2214.9 1074.1L2216.3 1080.8L2217.7 1082.1L2219.1 1077.2L2220.4 1080.6L2221.8 1080.4L2223.2 1074.9L2224.6 1077.4L2226 1077.1L2227.4 1076.8L2228.8 1079L2230.2 1080.9L2231.6 1078.1L2232.9 1080.4L2234.3 1077.2L2235.7 1077.6L2237.1 1074.6L2238.5 1078.3L2239.9 1078.8L2241.3 1079.6L2242.7 1079.9L2244.1 1076L2245.5 1079.1L2246.8 1071L2248.2 1081.1L2249.6 1080.8L2251 1077.6L2252.4 1077.8L2253.8 1073.1L2255.2 1073.1L2256.6 1078.4L2258 1074.8L2259.4 1076.3L2260.8 1078L2262.1 1071.6L2263.5 1079.8L2264.9 1080.3L2266.3 1078.7L2267.7 1076L2269.1 1076.9L2270.5 1075.2L2271.9 1080.4L2273.3 1074L2274.7 1077.3L2276 1079.6L2277.4 1081.2L2278.8 1080.5L2280.2 1078.7L2281.6 1078.9L2283 1076L2284.4 1078.4L2285.8 1078.5L2287.2 1075.1L2288.6 1081L2289.9 1077.6L2291.3 1074.7L2292.7 1075.4L2294.1 1080.3L2295.5 1076.9L2296.9 1076.9L2298.3 1074.4L2299.7 1080.6L2301.1 1079.4L2302.4 1075.2L2303.8 1079.6L2305.2 1078.8L2306.6 1078.5L2308 1086L2309.4 1077.2L2310.8 1081L2312.2 1078.2L2313.6 1077.7L2315 1072.5L2316.3 1077.5L2317.7 1078.7L2319.1 1076.8L2320.5 1077.6L2321.9 1077.6L2323.3 1077.2L2324.7 1079.5L2326.1 1075.8L2327.5 1077.1L2328.9 1080.7L2330.2 1079.8L2331.6 1081.1L2333 1078.5L2334.4 1080.3L2335.8 1075.2L2337.2 1075.8L2338.6 1082.4L2340 1078.3L2341.4 1076.2L2342.8 1077.7L2344.2 1080.9L2345.5 1078.1L2346.9 1077.8L2348.3 1072.6L2349.7 1079.7L2351.1 1080.4L2352.5 1080.7L2353.9 1077.2L2355.3 1083.1L2356.7 1081.6L2358.1 1080.6" stroke="#ff0000"/>
<path d="M446.8 689.4L448.2 700.5L449.6 707.2L451 717.2L452.4 723.2L453.8 731.4L455.1 739.2L456.5 740.4L457.9 742.5L459.3 750.2L460.7 752.7L462.1 761.1L463.5 766L464.9 767.3L466.3 775.5L467.6 781.7L469 783.6L470.4 785L471.8 785.5L473.2 787.5L474.6 788.6L476 787.8L477.4 787.9L478.8 791.1L480.2 791.6L481.6 785.7L482.9 787.3L484.3 785.4L485.7 786.6L487.1 780.3L488.5 773.9L489.9 770L491.3 757.5L492.7 757.5L494.1 752.4L495.5 751.6L496.8 747.9L498.2 743L499.6 731.9L501 719.9L502.4 719.7L503.8 721.5L505.2 719.4L506.6 716.2L508 710.9L509.4 712.1L510.7 711.5L512.1 711.1L513.5 717.6L514.9 722.3L516.3 723.8L517.7 732.8L519.1 731.9L520.5 740.2L521.9 750.7L523.2 758.5L524.6 777.5L526 791.4L527.4 801.1L528.8 821.9L530.2 829.5L531.6 841.7L533 854.7L534.4 867.1L535.8 884.4L537.1 896.2L538.5 905.3L539.9 920.2L541.3 923.2L542.7 930.2L544.1 942.1L545.5 946.7L546.9 957L548.3 956.9L549.7 962.8L551 964.5L552.4 971.3L553.8 971.3L555.2 973.3L556.6 979.2L558 980.6L559.4 982.4L560.8 986.9L562.2 994.7L563.6 996L565 999.2L566.3 1006L567.7 1006.8L569.1 1013.9L570.5 1010L571.9 1014.1L573.3 1013.5L574.7 1018.8L576.1 1020.9L577.5 1021.9L578.9 1019.3L580.2 1024.5L581.6 1027.1L583 1024.9L584.4 1027.8L585.8 1025.7L587.2 1028.2L588.6 1031.5L590 1030.8L591.4 1032L592.8 1037.2L594.1 1040.4L595.5 1035.6L596.9 1035.7L598.3 1039.3L599.7 1036.1L601.1 1041.1L602.5 1043.6L603.9 1050.5L605.3 1046.5L606.6 1051.5L608 1049.8L609.4 1048.8L610.8 1052.1L612.2 1051.1L613.6 1054.7L615 1053.9L616.4 1057.7L617.8 1055.8L619.2 1059.9L620.5 1057.1L621.9 1055.3L623.3 1059.5L624.7 1065.6L626.1 1063.9L627.5 1064.2L628.9 1062.3L630.3 1062.1L631.7 1064.5L633.1 1061.6L634.5 1064.8L635.8 1063.3L637.2 1067.2L638.6 1067.2L640 1069.2L641.4 1068.9L642.8 1069.8L644.2 1065.9L645.6 1068.8L647 1067.2L648.4 1068.6L649.7 1070L651.1 1068.8L652.5 1071.9L653.9 1072.1L655.3 1077.6L656.7 1074.3L658.1 1073.7L659.5 1072.9L660.9 1073L662.2 1075.8L663.6 1082.1L665 1075.8L666.4 1078.3L667.8 1080.9L669.2 1080.3L670.6 1076.1L672 1077.2L673.4 1075.3L674.8 1078.5L676.1 1078.3L677.5 1078.2L678.9 1081.9L680.3 1083L681.7 1082.8L683.1 1082.1L684.5 1085.6L685.9 1079.7L687.3 1078.9L688.7 1081L690 1080.5L691.4 1083.1L692.8 1085L694.2 1081.6L695.6 1081.3L697 1082.1L698.4 1086.7L699.8 1081.6L701.2 1084L702.6 1086.9L704 1086.1L705.3 1086.7L706.7 1088.8L708.1 1086.7L709.5 1083.9L710.9 1089.3L712.3 1088.2L713.7 1090.4L715.1 1089.2L716.5 1090L717.9 1086.4L719.2 1088L720.6 1089.2L722 1086.1L723.4 1088L724.8 1092.8L726.2 1088.8L727.6 1088.3L729 1091.3L730.4 1090.8L731.8 1092L733.1 1095.4L734.5 1089.8L735.9 1089L737.3 1089.4L738.7 1093.7L740.1 1096.8L741.5 1090.1L742.9 1094.9L744.3 1090.3L745.6 1094.6L747 1091.8L748.4 1095.9L749.8 1091.9L751.2 1087.9L752.6 1091.5L754 1094.6L755.4 1099.5L756.8 1097L758.2 1092.2L759.5 1088.5L760.9 1091.3L762.3 1095.4L763.7 1098L765.1 1099.8L766.5 1092.4L767.9 1092.4L769.3 1100.2L770.7 1097.2L772.1 1101.9L773.5 1097.6L774.8 1100.2L776.2 1095.8L777.6 1091.1L779 1100.8L780.4 1096.1L781.8 1096L783.2 1096.6L784.6 1100L786 1095.2L787.4 1097.4L788.7 1094.1L790.1 1098.5L791.5 1098.4L792.9 1096.4L794.3 1099.3L795.7 1097L797.1 1095.5L798.5 1097.6L799.9 1102L801.2 1099.9L802.6 1101.4L804 1095.8L805.4 1098.8L806.8 1101.7L808.2 1100.9L809.6 1102.2L811 1103L812.4 1098.8L813.8 1104.6L815.1 1104.7L816.5 1100.1L817.9 1098.2L819.3 1099.1L820.7 1097.4L822.1 1099.1L823.5 1098.8L824.9 1099.2L826.3 1099.9L827.7 1098.8L829 1100.7L830.4 1096L831.8 1103.8L833.2 1098.8L834.6 1101.7L836 1099.6L837.4 1101.3L838.8 1101.8L840.2 1102.5L841.6 1101.5L843 1100.9L844.3 1101.8L845.7 1099.4L847.1 1098.7L848.5 1102.1L849.9 1099.1L851.3 1103.8L852.7 1094.8L854.1 1100.2L855.5 1100.3L856.9 1100.6L858.2 1103.3L859.6 1100.3L861 1096.2L862.4 1095.8L863.8 1100.6L865.2 1101.2L866.6 1098.9L868 1102.3L869.4 1102.6L870.8 1096.7L872.1 1101.6L873.5 1098.6L874.9 1097.2L876.3 1099.1L877.7 1097.8L879.1 1095.1L880.5 1098.9L881.9 1097.4L883.3 1100.6L884.7 1095.2L886 1100.7L887.4 1100.8L888.8 1105.2L890.2 1101.3L891.6 1099.9L893 1100.4L894.4 1096L895.8 1101.6L897.2 1097.9L898.5 1099.1L899.9 1095.8L901.3 1098.2L902.7 1103.4L904.1 1103.9L905.5 1102.1L906.9 1097.3L908.3 1098.4L909.7 1097.9L911.1 1096.5L912.5 1099.2L913.8 1098.5L915.2 1097.5L916.6 1098.4L918 1097.2L919.4 1094.7L920.8 1098L922.2 1094L923.6 1095.3L925 1096.7L926.4 1098.8L927.7 1096.6L929.1 1095.8L930.5 1097.7L931.9 1095.8L933.3 1094.4L934.7 1096.4L936.1 1094.7L937.5 1098.5L938.9 1095.5L940.2 1097.8L941.6 1097.9L943 1100.5L944.4 1095.2L945.8 1096.7L947.2 1096.3L948.6 1097.6L950 1097.7L951.4 1098.3L952.8 1097.1L954.2 1098L955.5 1096L956.9 1094.8L958.3 1097.8L959.7 1094.8L961.1 1095.2L962.5 1095.3L963.9 1096.8L965.3 1101.4L966.7 1097.2L968 1100.8L969.4 1094.8L970.8 1094.5L972.2 1093.6L973.6 1096.6L975 1099.7L976.4 1094.7L977.8 1096.9L979.2 1096.4L980.6 1096.5L982 1098L983.3 1097L984.7 1093.6L986.1 1091.5L987.5 1093.4L988.9 1091.7L990.3 1094.6L991.7 1096.7L993.1 1094L994.5 1095.1L995.9 1090.7L997.2 1095.1L998.6 1092.9L1000 1095.8L1001.4 1093.1L1002.8 1097.8L1004.2 1097.9L1005.6 1097.9L1007 1094.6L1008.4 1096.4L1009.8 1099.3L1011.1 1098L1012.5 1094.6L1013.9 1095L1015.3 1095.7L1016.7 1095.9L1018.1 1097.9L1019.5 1092.7L1020.9 1094L1022.3 1093.8L1023.7 1093.9L1025 1098L1026.4 1094.7L1027.8 1094.8L1029.2 1093.3L1030.6 1096.5L1032 1094.5L1033.4 1095.8L1034.8 1093.9L1036.2 1093.8L1037.5 1093.8L1038.9 1099.3L1040.3 1092.1L1041.7 1092.3L1043.1 1085.6L1044.5 1096.4L1045.9 1092.5L1047.3 1094.6L1048.7 1097L1050.1 1093.5L1051.5 1096.3L1052.8 1093.1L1054.2 1092.1L1055.6 1090.7L1057 1091L1058.4 1093.8L1059.8 1095.8L1061.2 1095L1062.6 1096.1L1064 1095.4L1065.4 1093.1L1066.7 1095.7L1068.1 1093L1069.5 1092.7L1070.9 1094.4L1072.3 1098L1073.7 1095.6L1075.1 1091L1076.5 1095L1077.9 1091.2L1079.2 1091.5L1080.6 1095.8L1082 1093.4L1083.4 1094.2L1084.8 1090.3L1086.2 1092.7L1087.6 1091.6L1089 1092.9L1090.4 1096.4L1091.8 1090.4L1093.2 1093.9L1094.5 1097.5L1095.9 1093.6L1097.3 1094.2L1098.7 1095.5L1100.1 1094.1L1101.5 1095L1102.9 1092L1104.3 1092.6L1105.7 1088.7L1107 1092.9L1108.4 1093L1109.8 1094.8L1111.2 1094.7L1112.6 1092L1114 1094.8L1115.4 1092.1L1116.8 1095.2L1118.2 1093.1L1119.6 1095.7L1121 1094L1122.3 1091.7L1123.7 1098.7L1125.1 1092.4L1126.5 1089.3L1127.9 1087.6L1129.3 1088.2L1130.7 1090.9L1132.1 1094.6L1133.5 1094.4L1134.9 1091.6L1136.2 1092L1137.6 1092.9L1139 1092.8L1140.4 1092.1L1141.8 1094.5L1143.2 1098.5L1144.6 1094.8L1146 1095.9L1147.4 1094.9L1148.8 1093.3L1150.1 1094.1L1151.5 1094.9L1152.9 1090.2L1154.3 1093.5L1155.7 1094.7L1157.1 1097.8L1158.5 1089.6L1159.9 1094.5L1161.3 1092.3L1162.7 1092.8L1164 1094.1L1165.4 1097.2L1166.8 1090.8L1168.2 1094.1L1169.6 1093.8L1171 1092.2L1172.4 1090.9L1173.8 1095.1L1175.2 1094L1176.5 1096.9L1177.9 1095.7L1179.3 1092.5L1180.7 1092.1L1182.1 1094.9L1183.5 1091.5L1184.9 1089L1186.3 1088.9L1187.7 1094.3L1189.1 1093L1190.5 1091.1L1191.8 1093.7L1193.2 1093.8L1194.6 1096.3L1196 1093.7L1197.4 1096.5L1198.8 1093L1200.2 1091L1201.6 1091.2L1203 1089.9L1204.4 1092.4L1205.7 1091.7L1207.1 1092.2L1208.5 1093L1209.9 1096.3L1211.3 1096.4L1212.7 1096L1214.1 1096.8L1215.5 1094L1216.9 1091.2L1218.2 1094.1L1219.6 1094.1L1221 1093.5L1222.4 1091.3L1223.8 1093.6L1225.2 1090.3L1226.6 1092.2L1228 1096L1229.4 1091.9L1230.8 1090.5L1232.2 1095.4L1233.5 1093.8L1234.9 1091.1L1236.3 1092.8L1237.7 1090L1239.1 1092.9L1240.5 1091.5L1241.9 1091.7L1243.3 1089.5L1244.7 1098.9L1246 1098.6L1247.4 1093.2L1248.8 1095L1250.2 1093.5L1251.6 1092.4L1253 1092.8L1254.4 1093L1255.8 1094.6L1257.2 1092.1L1258.6 1090.1L1260 1091.8L1261.3 1089.6L1262.7 1090.4L1264.1 1091.7L1265.5 1092.2L1266.9 1095.3L1268.3 1095L1269.7 1091.5L1271.1 1092.6L1272.5 1092.7L1273.9 1095.5L1275.2 1089.9L1276.6 1091.6L1278 1091.6L1279.4 1094.5L1280.8 1093.8L1282.2 1096.2L1283.6 1098.3L1285 1091.9L1286.4 1094.8L1287.8 1094.5L1289.1 1095.8L1290.5 1094.4L1291.9 1091.9L1293.3 1094.3L1294.7 1092.8L1296.1 1089.8L1297.5 1093L1298.9 1092.4L1300.3 1092.4L1301.7 1095.2L1303 1092.6L1304.4 1091.6L1305.8 1091L1307.2 1095.5L1308.6 1094.7L1310 1092.1L1311.4 1091.6L1312.8 1095.4L1314.2 1088.7L1315.5 1090.7L1316.9 1096.7L1318.3 1093.6L1319.7 1091.7L1321.1 1091.2L1322.5 1094L1323.9 1089.8L1325.3 1091.8L1326.7 1093.8L1328.1 1094.7L1329.5 1088.4L1330.8 1091.5L1332.2 1096.7L1333.6 1095L1335 1093L1336.4 1093.9L1337.8 1092.1L1339.2 1094.9L1340.6 1095.4L1342 1096.4L1343.4 1090.3L1344.7 1092.7L1346.1 1094.4L1347.5 1097.7L1348.9 1094.4L1350.3 1090.7L1351.7 1091.4L1353.1 1093.2L1354.5 1096.6L1355.9 1094.3L1357.2 1092.4L1358.6 1089.3L1360 1089L1361.4 1092.5L1362.8 1093.5L1364.2 1089.2L1365.6 1093.4L1367 1091.6L1368.4 1091.1L1369.8 1092.8L1371.2 1093.8L1372.5 1093.6L1373.9 1090.8L1375.3 1090.7L1376.7 1094.7L1378.1 1086.9L1379.5 1091.8L1380.9 1097.1L1382.3 1095.8L1383.7 1091.4L1385 1094.9L1386.4 1095.1L1387.8 1090.7L1389.2 1091.7L1390.6 1090.3L1392 1092.7L1393.4 1091.1L1394.8 1089.7L1396.2 1090.6L1397.6 1086.7L1399 1091L1400.3 1089.5L1401.7 1091.9L1403.1 1086.3L1404.5 1088.6L1405.9 1092L1407.3 1091.9L1408.7 1090.9L1410.1 1096.8L1411.5 1096L1412.8 1087.9L1414.2 1089.2L1415.6 1091.5L1417 1088.4L1418.4 1092.2L1419.8 1087.6L1421.2 1084L1422.6 1087.8L1424 1090.4L1425.4 1089.4L1426.8 1089.2L1428.1 1092L1429.5 1089.8L1430.9 1092.6L1432.3 1092.4L1433.7 1091L1435.1 1092.9L1436.5 1086.2L1437.9 1089L1439.3 1085.6L1440.7 1089.4L1442 1086.9L1443.4 1092L1444.8 1088.2L1446.2 1087.1L1447.6 1086.8L1449 1088.4L1450.4 1091.9L1451.8 1085.9L1453.2 1087.7L1454.5 1086.9L1455.9 1087.9L1457.3 1088.2L1458.7 1089.6L1460.1 1085.4L1461.5 1089.9L1462.9 1089.4L1464.3 1092.4L1465.7 1091.9L1467.1 1090.7L1468.5 1088L1469.8 1087.1L1471.2 1089.1L1472.6 1088.5L1474 1085.2L1475.4 1085L1476.8 1087.3L1478.2 1089.4L1479.6 1091.1L1481 1085.7L1482.3 1089.6L1483.7 1083.6L1485.1 1088.4L1486.5 1088.8L1487.9 1085.3L1489.3 1084.1L1490.7 1088.4L1492.1 1085.7L1493.5 1088.5L1494.9 1089.7L1496.2 1086.3L1497.6 1084.4L1499 1085.8L1500.4 1084.7L1501.8 1090.4L1503.2 1085.2L1504.6 1087.4L1506 1084.7L1507.4 1082.4L1508.8 1088.8L1510.2 1084.2L1511.5 1086.5L1512.9 1091.4L1514.3 1088.9L1515.7 1086L1517.1 1087.1L1518.5 1081.9L1519.9 1082.3L1521.3 1084.3L1522.7 1086.1L1524 1085.6L1525.4 1086L1526.8 1091.5L1528.2 1087.4L1529.6 1084.2L1531 1090.9L1532.4 1084L1533.8 1089L1535.2 1088.8L1536.6 1087.3L1537.9 1085.8L1539.3 1083.2L1540.7 1085.8L1542.1 1088.5L1543.5 1086.8L1544.9 1085.8L1546.3 1083.4L1547.7 1082.8L1549.1 1083.1L1550.5 1087.5L1551.8 1084.4L1553.2 1086.8L1554.6 1086.3L1556 1087L1557.4 1086.2L1558.8 1083.3L1560.2 1086.2L1561.6 1079.8L1563 1080.2L1564.4 1085.1L1565.8 1092.5L1567.1 1088.8L1568.5 1083.7L1569.9 1082.2L1571.3 1082.5L1572.7 1081.7L1574.1 1086.4L1575.5 1083.7L1576.9 1083.6L1578.3 1085L1579.7 1086.1L1581 1085.9L1582.4 1081.1L1583.8 1085.1L1585.2 1085.3L1586.6 1086.7L1588 1088.4L1589.4 1080.9L1590.8 1081.1L1592.2 1080.7L1593.5 1086.2L1594.9 1080.9L1596.3 1080.3L1597.7 1081.1L1599.1 1083.5L1600.5 1081L1601.9 1076.7L1603.3 1081.9L1604.7 1082.2L1606.1 1082L1607.4 1075.9L1608.8 1079.1L1610.2 1079.2L1611.6 1083.2L1613 1081.3L1614.4 1080.2L1615.8 1082.2L1617.2 1079.2L1618.6 1081.9L1620 1079.6L1621.3 1081L1622.7 1081.9L1624.1 1082.5L1625.5 1084.5L1626.9 1077.7L1628.3 1081.6L1629.7 1078.6L1631.1 1080.1L1632.5 1078.1L1633.9 1080.8L1635.2 1081.3L1636.6 1076.8L1638 1077.6L1639.4 1080.2L1640.8 1086.5L1642.2 1079.6L1643.6 1077.9L1645 1078.8L1646.4 1081.6L1647.8 1076.9L1649.2 1077.5L1650.5 1079.5L1651.9 1080.9L1653.3 1082.9L1654.7 1082.7L1656.1 1080.9L1657.5 1080.7L1658.9 1081L1660.3 1076.6L1661.7 1079.1L1663 1078.4L1664.4 1079.6L1665.8 1079.7L1667.2 1083.2L1668.6 1080L1670 1081.6L1671.4 1081.6L1672.8 1075.4L1674.2 1075.2L1675.6 1078.4L1676.9 1078.2L1678.3 1077.7L1679.7 1079.3L1681.1 1076.4L1682.5 1079.4L1683.9 1083.1L1685.3 1077.9L1686.7 1075.9L1688.1 1076.1L1689.5 1079.3L1690.8 1079.7L1692.2 1082.2L1693.6 1081.6L1695 1075.8L1696.4 1077.8L1697.8 1077.7L1699.2 1082.1L1700.6 1078.9L1702 1078.3L1703.4 1074.5L1704.8 1080.8L1706.1 1078.9L1707.5 1077.9L1708.9 1073L1710.3 1079L1711.7 1074.3L1713.1 1076.3L1714.5 1076.6L1715.9 1074.8L1717.3 1079.2L1718.7 1078.7L1720 1078.7L1721.4 1082.1L1722.8 1080.6L1724.2 1078.2L1725.6 1076.9L1727 1074.1L1728.4 1078.8L1729.8 1077.3L1731.2 1077.9L1732.5 1076.7L1733.9 1073.4L1735.3 1075.1L1736.7 1072.9L1738.1 1073.7L1739.5 1073.2L1740.9 1071.9L1742.3 1076L1743.7 1074.9L1745.1 1075.4L1746.4 1072.4L1747.8 1078.6L1749.2 1074.5L1750.6 1079.2L1752 1071.2L1753.4 1073L1754.8 1074.3L1756.2 1079.3L1757.6 1072.5L1759 1069.6L1760.3 1076.1L1761.7 1075.2L1763.1 1075.4L1764.5 1075L1765.9 1076.2L1767.3 1075.1L1768.7 1079.3L1770.1 1075.4L1771.5 1076.4L1772.9 1072.4L1774.2 1070.9L1775.6 1072.7L1777 1070.3L1778.4 1072.5L1779.8 1073.1L1781.2 1074.6L1782.6 1073.2L1784 1073.8L1785.4 1074.8L1786.8 1070.1L1788.2 1072L1789.5 1071.1L1790.9 1072.2L1792.3 1071.5L1793.7 1071.1L1795.1 1072.6L1796.5 1071.7L1797.9 1069.9L1799.3 1070.9L1800.7 1073L1802 1073.7L1803.4 1071.8L1804.8 1066.5L1806.2 1072.6L1807.6 1064.5L1809 1068L1810.4 1071.7L1811.8 1070.8L1813.2 1071.5L1814.6 1065.7L1815.9 1068.9L1817.3 1066L1818.7 1069.5L1820.1 1068.4L1821.5 1067.6L1822.9 1066.6L1824.3 1066.4L1825.7 1065L1827.1 1068.8L1828.5 1065.7L1829.8 1066L1831.2 1068.7L1832.6 1065.1L1834 1064.8L1835.4 1068.8L1836.8 1070.6L1838.2 1066L1839.6 1067.9L1841 1066.4L1842.4 1066.9L1843.8 1061.6L1845.1 1065.2L1846.5 1062.5L1847.9 1064.4L1849.3 1063.6L1850.7 1069.3L1852.1 1065.7L1853.5 1063.2L1854.9 1068L1856.3 1066L1857.7 1064.7L1859 1068.4L1860.4 1069.9L1861.8 1065.7L1863.2 1065L1864.6 1065.2L1866 1063.3L1867.4 1065.5L1868.8 1066.5L1870.2 1061.7L1871.5 1066.2L1872.9 1063.3L1874.3 1064.8L1875.7 1061.4L1877.1 1068.1L1878.5 1064.9L1879.9 1065.8L1881.3 1066.6L1882.7 1065.2L1884.1 1064.4L1885.4 1067.2L1886.8 1065.7L1888.2 1068.7L1889.6 1063.7L1891 1065.2L1892.4 1064.7L1893.8 1062.4L1895.2 1060.3L1896.6 1064.4L1898 1063.5L1899.3 1058.4L1900.7 1062.4L1902.1 1063.8L1903.5 1061.1L1904.9 1062.4L1906.3 1062.5L1907.7 1061.8L1909.1 1060.9L1910.5 1067.2L1911.9 1065.6L1913.2 1060.2L1914.6 1063.6L1916 1058.8L1917.4 1059.3L1918.8 1061.2L1920.2 1061.6L1921.6 1064.1L1923 1065.2L1924.4 1060.3L1925.8 1057.6L1927.2 1064.1L1928.5 1060.4L1929.9 1059L1931.3 1058.6L1932.7 1061.6L1934.1 1059.8L1935.5 1064.3L1936.9 1059.9L1938.3 1059.9L1939.7 1059.8L1941 1060.9L1942.4 1062.3L1943.8 1062.5L1945.2 1064.3L1946.6 1057.8L1948 1062.1L1949.4 1063.8L1950.8 1057.2L1952.2 1063.2L1953.6 1061L1954.9 1064.2L1956.3 1060.8L1957.7 1060.1L1959.1 1056.8L1960.5 1057L1961.9 1057.6L1963.3 1059.7L1964.7 1061.3L1966.1 1058.2L1967.5 1060.3L1968.8 1058L1970.2 1055.6L1971.6 1061.3L1973 1058.5L1974.4 1057.3L1975.8 1063.2L1977.2 1062.9L1978.6 1061.7L1980 1064.1L1981.4 1061.3L1982.8 1062.9L1984.1 1054.1L1985.5 1059.8L1986.9 1058.2L1988.3 1055L1989.7 1062.2L1991.1 1060L1992.5 1060.3L1993.9 1059.5L1995.3 1061.2L1996.7 1058.7L1998 1060.9L1999.4 1060.6L2000.8 1060.4L2002.2 1058.9L2003.6 1059L2005 1060.4L2006.4 1057.5L2007.8 1059.8L2009.2 1060.6L2010.5 1059.6L2011.9 1058.3L2013.3 1056.6L2014.7 1063.4L2016.1 1060.9L2017.5 1061L2018.9 1058.9L2020.3 1058.2L2021.7 1059L2023.1 1058.9L2024.4 1059.4L2025.8 1058.6L2027.2 1059.1L2028.6 1056.5L2030 1057.7L2031.4 1054.7L2032.8 1059.3L2034.2 1059L2035.6 1062L2037 1057.6L2038.3 1057L2039.7 1054.4L2041.1 1055.1L2042.5 1058.9L2043.9 1053.5L2045.3 1056.8L2046.7 1058L2048.1 1052.9L2049.5 1056.3L2050.9 1054.2L2052.2 1053.8L2053.6 1058.4L2055 1058.1L2056.4 1058.7L2057.8 1057.5L2059.2 1057.6L2060.6 1058.7L2062 1053.3L2063.4 1059.3L2064.8 1057.7L2066.2 1056.1L2067.5 1053.6L2068.9 1055.3L2070.3 1055.1L2071.7 1056.4L2073.1 1054.6L2074.5 1053.1L2075.9 1055.3L2077.3 1057.7L2078.7 1055.6L2080.1 1057.3L2081.4 1055.8L2082.8 1059.2L2084.2 1058.3L2085.6 1056.3L2087 1052.8L2088.4 1058.3L2089.8 1052.1L2091.2 1052.8L2092.6 1055.7L2093.9 1056L2095.3 1057.1L2096.7 1062.2L2098.1 1055.5L2099.5 1054L2100.9 1053L2102.3 1054.1L2103.7 1051.1L2105.1 1054.3L2106.5 1055.1L2107.8 1053.5L2109.2 1055.7L2110.6 1054L2112 1055L2113.4 1054.6L2114.8 1051.2L2116.2 1050.9L2117.6 1053.5L2119 1052.7L2120.4 1053.7L2121.8 1048.5L2123.1 1054.4L2124.5 1055.4L2125.9 1055L2127.3 1052L2128.7 1054.6L2130.1 1056.1L2131.5 1051.1L2132.9 1053.2L2134.3 1055L2135.7 1057.1L2137 1056.1L2138.4 1050.5L2139.8 1051.4L2141.2 1050L2142.6 1050.9L2144 1052.2L2145.4 1055.8L2146.8 1053.1L2148.2 1056.6L2149.6 1046.4L2150.9 1052.7L2152.3 1050.5L2153.7 1049.5L2155.1 1055.4L2156.5 1052.7L2157.9 1052.4L2159.3 1050.6L2160.7 1056.4L2162.1 1049.3L2163.4 1049.3L2164.8 1051.2L2166.2 1052.2L2167.6 1053.4L2169 1055.3L2170.4 1053.3L2171.8 1054L2173.2 1052.1L2174.6 1057.3L2176 1053.2L2177.3 1050.9L2178.7 1050.1L2180.1 1051L2181.5 1054.8L2182.9 1055.3L2184.3 1051.5L2185.7 1052L2187.1 1048.5L2188.5 1047.7L2189.9 1053.6L2191.2 1051.6L2192.6 1053.9L2194 1053.1L2195.4 1054.9L2196.8 1048.1L2198.2 1049.4L2199.6 1051.4L2201 1054.9L2202.4 1052.8L2203.8 1047.7L2205.2 1050.5L2206.5 1052.7L2207.9 1054.1L2209.3 1053.8L2210.7 1053.6L2212.1 1057.7L2213.5 1054L2214.9 1050.5L2216.3 1052.1L2217.7 1057L2219.1 1052.6L2220.4 1049.5L2221.8 1052.8L2223.2 1053.6L2224.6 1052.4L2226 1053.2L2227.4 1053.8L2228.8 1046.6L2230.2 1047.4L2231.6 1049.1L2232.9 1049L2234.3 1054.1L2235.7 1052L2237.1 1046.3L2238.5 1054.8L2239.9 1055.5L2241.3 1055.4L2242.7 1049.1L2244.1 1058.3L2245.5 1053.8L2246.8 1049.1L2248.2 1053.6L2249.6 1056.8L2251 1056.1L2252.4 1056.2L2253.8 1046.3L2255.2 1053.7L2256.6 1049.4L2258 1051.7L2259.4 1054L2260.8 1056.8L2262.1 1053.3L2263.5 1051.8L2264.9 1052.5L2266.3 1047.6L2267.7 1054L2269.1 1050.4L2270.5 1051.6L2271.9 1053.8L2273.3 1051.8L2274.7 1053.1L2276 1051.1L2277.4 1049.5L2278.8 1045.7L2280.2 1050.2L2281.6 1052.8L2283 1048.2L2284.4 1054.2L2285.8 1049.9L2287.2 1052.6L2288.6 1050.3L2289.9 1051.7L2291.3 1054.6L2292.7 1055.3L2294.1 1056L2295.5 1052.4L2296.9 1051.6L2298.3 1050.6L2299.7 1055.7L2301.1 1052.9L2302.4 1052.5L2303.8 1053.1L2305.2 1047.4L2306.6 1051.4L2308 1051.1L2309.4 1056L2310.8 1050.6L2312.2 1053.8L2313.6 1054.3L2315 1053.8L2316.3 1051.3L2317.7 1054.1L2319.1 1053.2L2320.5 1054.4L2321.9 1049.1L2323.3 1052.6L2324.7 1052.9L2326.1 1050.5L2327.5 1050.8L2328.9 1049.1L2330.2 1054.3L2331.6 1051.5L2333 1051.4L2334.4 1050.3L2335.8 1051L2337.2 1054.6L2338.6 1054.2L2340 1054.3L2341.4 1051.6L2342.8 1050.4L2344.2 1054.8L2345.5 1055L2346.9 1052.1L2348.3 1051.3L2349.7 1053.7L2351.1 1048.5L2352.5 1052.7L2353.9 1050.7L2355.3 1049.7L2356.7 1055.8L2358.1 1052.5" stroke="#800080"/>
</g>
<g font-size="64.5" text-anchor="end">
<text x="377" y="1637">5.0x10</text><text x="398.5" y="1602.5" font-size="40.5">3</text>
<text x="377" y="1414.7">1.0x10</text><text x="398.5" y="1380.2" font-size="40.5">4</text>
<text x="377" y="1192.4">1.5x10</text><text x="398.5" y="1157.9" font-size="40.5">4</text>
<text x="377" y="970.1">2.0x10</text><text x="398.5" y="935.6" font-size="40.5">4</text>
<text x="377" y="747.9">2.5x10</text><text x="398.5" y="713.4" font-size="40.5">4</text>
<text x="377" y="525.6">3.0x10</text><text x="398.5" y="491.1" font-size="40.5">4</text>
<text x="377" y="303.3">3.5x10</text><text x="398.5" y="268.8" font-size="40.5">4</text>
<text x="377" y="81">4.0x10</text><text x="398.5" y="46.5" font-size="40.5">4</text>
</g>
<g font-size="64.5" text-anchor="middle">
<text x="620.5" y="1713">10</text>
<text x="968" y="1713">20</text>
<text x="1315.5" y="1713">30</text>
<text x="1663" y="1713">40</text>
<text x="2010.5" y="1713">50</text>
<text x="2358.1" y="1713">60</text>
</g>
<text transform="translate(1145 1847.5) scale(1.021 1)" font-size="90">2θ&#160;&#160;(Degree)</text>
<text transform="translate(86 1341) rotate(-90) scale(1 1.045)" font-size="91.8">Intensity (Arbitrary Unit)</text>
<rect x="1972" y="78.5" width="353" height="813" fill="#fff" stroke="#000" stroke-width="4"/>
<g font-size="49.4">
<path d="M1994 201.2 H2114.5" stroke="#800080" stroke-width="5" fill="none"/>
<text x="2111.5" y="219.4">:&#160;&#160;540 K</text>
<path d="M1994 265.7 H2114.5" stroke="#ff0000" stroke-width="5" fill="none"/>
<text x="2111.5" y="283.9">:&#160;&#160;490 K</text>
<path d="M1994 326.9 H2114.5" stroke="#008000" stroke-width="5" fill="none"/>
<text x="2111.5" y="345.1">:&#160;&#160;440 K</text>
<path d="M1994 388 H2114.5" stroke="#ff8000" stroke-width="5" fill="none"/>
<text x="2111.5" y="406.2">:&#160;&#160;430 K</text>
<path d="M1994 449.2 H2114.5" stroke="#00ffff" stroke-width="5" fill="none"/>
<text x="2111.5" y="467.4">:&#160;&#160;420 K</text>
<path d="M1994 510.3 H2114.5" stroke="#ff00ff" stroke-width="5" fill="none"/>
<text x="2111.5" y="528.5">:&#160;&#160;390 K</text>
<path d="M1994 571.5 H2114.5" stroke="#0000ff" stroke-width="5" fill="none"/>
<text x="2111.5" y="589.7">:&#160;&#160;360 K</text>
<path d="M1994 632.7 H2114.5" stroke="#00ff00" stroke-width="5" fill="none"/>
<text x="2111.5" y="650.9">:&#160;&#160;340 K</text>
<path d="M1994 693.8 H2114.5" stroke="#ff0000" stroke-width="5" fill="none"/>
<text x="2111.5" y="712">:&#160;&#160;330 K</text>
<path d="M1994 755 H2114.5" stroke="#000000" stroke-width="5" fill="none"/>
<text x="2111.5" y="773.2">:&#160;&#160;300 K</text>
</g>
</svg></body></html>
